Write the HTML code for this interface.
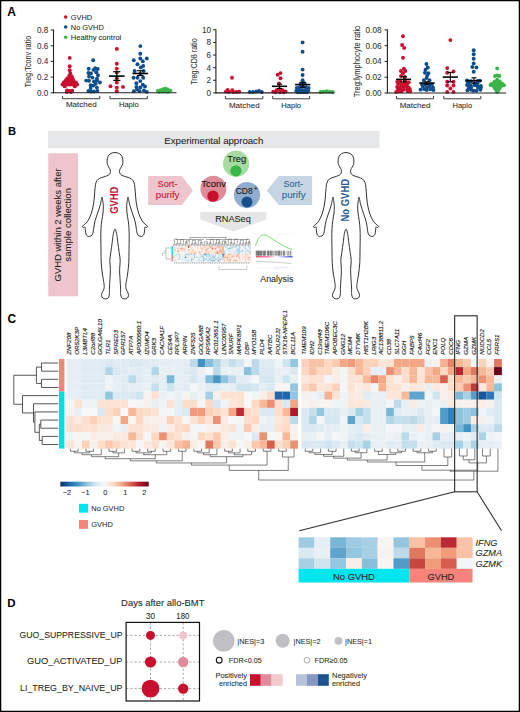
<!DOCTYPE html>
<html><head><meta charset="utf-8"><title>Figure</title>
<style>
html,body{margin:0;padding:0;background:#fff;}
body{width:520px;height:712px;overflow:hidden;}
svg{display:block;font-family:"Liberation Sans", sans-serif;}
</style></head><body>
<svg width="520" height="712" viewBox="0 0 520 712">
<rect x="0" y="0" width="520" height="712" fill="#fff"/>
<text x="7.2" y="15.6" font-size="12" text-anchor="start" fill="#000" font-weight="bold">A</text>
<circle cx="65.65" cy="17" r="1.75" fill="#c8102e"/>
<text x="70.8" y="19.6" font-size="7.6" text-anchor="start" fill="#231f20" stroke="#231f20" stroke-width="0.06" textLength="21.3" lengthAdjust="spacingAndGlyphs">GVHD</text>
<circle cx="65.65" cy="27.1" r="1.75" fill="#0f4c8a"/>
<text x="70.8" y="29.7" font-size="7.6" text-anchor="start" fill="#231f20" stroke="#231f20" stroke-width="0.06" textLength="33" lengthAdjust="spacingAndGlyphs">No GVHD</text>
<circle cx="65.65" cy="37.2" r="1.75" fill="#3bb44a"/>
<text x="70.8" y="39.8" font-size="7.6" text-anchor="start" fill="#231f20" stroke="#231f20" stroke-width="0.06" textLength="50.5" lengthAdjust="spacingAndGlyphs">Healthy control</text>
<line x1="53.5" y1="29.56" x2="53.5" y2="93.4" stroke="#231f20" stroke-width="1.1"/>
<line x1="50.7" y1="92.8" x2="53.5" y2="92.8" stroke="#231f20" stroke-width="1"/>
<text x="48.4" y="95.7" font-size="8.2" text-anchor="end" fill="#333" stroke="#333" stroke-width="0.06">0.0</text>
<line x1="50.7" y1="77.11" x2="53.5" y2="77.11" stroke="#231f20" stroke-width="1"/>
<text x="48.4" y="80.02" font-size="8.2" text-anchor="end" fill="#333" stroke="#333" stroke-width="0.06">0.2</text>
<line x1="50.7" y1="61.43" x2="53.5" y2="61.43" stroke="#231f20" stroke-width="1"/>
<text x="48.4" y="64.33" font-size="8.2" text-anchor="end" fill="#333" stroke="#333" stroke-width="0.06">0.4</text>
<line x1="50.7" y1="45.75" x2="53.5" y2="45.75" stroke="#231f20" stroke-width="1"/>
<text x="48.4" y="48.65" font-size="8.2" text-anchor="end" fill="#333" stroke="#333" stroke-width="0.06">0.6</text>
<line x1="50.7" y1="30.06" x2="53.5" y2="30.06" stroke="#231f20" stroke-width="1"/>
<text x="48.4" y="32.96" font-size="8.2" text-anchor="end" fill="#333" stroke="#333" stroke-width="0.06">0.8</text>
<text x="30.9" y="61.5" font-size="8.7" text-anchor="middle" fill="#333" stroke="#333" stroke-width="0.07" textLength="51.5" lengthAdjust="spacingAndGlyphs" transform="rotate(-90 30.9 61.5)">Treg:Tconv ratio</text>
<circle cx="69.7" cy="57.9" r="1.95" fill="#c8102e"/>
<circle cx="69.7" cy="66.3" r="1.95" fill="#c8102e"/>
<circle cx="69.7" cy="70.2" r="1.95" fill="#c8102e"/>
<circle cx="70.3" cy="73.1" r="1.95" fill="#c8102e"/>
<circle cx="69.4" cy="75.6" r="1.95" fill="#c8102e"/>
<circle cx="71.6" cy="76.1" r="1.95" fill="#c8102e"/>
<circle cx="67.4" cy="78.1" r="1.95" fill="#c8102e"/>
<circle cx="69.9" cy="78.1" r="1.95" fill="#c8102e"/>
<circle cx="72.4" cy="78.1" r="1.95" fill="#c8102e"/>
<circle cx="65.9" cy="80.3" r="1.95" fill="#c8102e"/>
<circle cx="68.4" cy="80.3" r="1.95" fill="#c8102e"/>
<circle cx="70.9" cy="80.3" r="1.95" fill="#c8102e"/>
<circle cx="73.4" cy="80.3" r="1.95" fill="#c8102e"/>
<circle cx="63.6" cy="82.5" r="1.95" fill="#c8102e"/>
<circle cx="66.2" cy="82.5" r="1.95" fill="#c8102e"/>
<circle cx="68.7" cy="82.5" r="1.95" fill="#c8102e"/>
<circle cx="71.2" cy="82.5" r="1.95" fill="#c8102e"/>
<circle cx="73.7" cy="82.5" r="1.95" fill="#c8102e"/>
<circle cx="76" cy="82.5" r="1.95" fill="#c8102e"/>
<circle cx="62.5" cy="84.6" r="1.95" fill="#c8102e"/>
<circle cx="65" cy="84.6" r="1.95" fill="#c8102e"/>
<circle cx="67.6" cy="84.6" r="1.95" fill="#c8102e"/>
<circle cx="70.1" cy="84.6" r="1.95" fill="#c8102e"/>
<circle cx="72.6" cy="84.6" r="1.95" fill="#c8102e"/>
<circle cx="75.1" cy="84.6" r="1.95" fill="#c8102e"/>
<circle cx="77.2" cy="84.6" r="1.95" fill="#c8102e"/>
<circle cx="64.8" cy="86.4" r="1.95" fill="#c8102e"/>
<circle cx="74.8" cy="86.4" r="1.95" fill="#c8102e"/>
<circle cx="67.1" cy="90.5" r="1.95" fill="#c8102e"/>
<circle cx="69.6" cy="91" r="1.95" fill="#c8102e"/>
<circle cx="72.3" cy="90.8" r="1.95" fill="#c8102e"/>
<circle cx="66.8" cy="92" r="1.95" fill="#c8102e"/>
<circle cx="71" cy="92.1" r="1.95" fill="#c8102e"/>
<circle cx="93.2" cy="60.3" r="1.95" fill="#0f4c8a"/>
<circle cx="88.7" cy="68.8" r="1.95" fill="#0f4c8a"/>
<circle cx="95.2" cy="68.2" r="1.95" fill="#0f4c8a"/>
<circle cx="97.7" cy="69" r="1.95" fill="#0f4c8a"/>
<circle cx="93.5" cy="69.9" r="1.95" fill="#0f4c8a"/>
<circle cx="88.4" cy="73" r="1.95" fill="#0f4c8a"/>
<circle cx="91" cy="73.5" r="1.95" fill="#0f4c8a"/>
<circle cx="96.3" cy="72.2" r="1.95" fill="#0f4c8a"/>
<circle cx="98" cy="75.2" r="1.95" fill="#0f4c8a"/>
<circle cx="89" cy="76.6" r="1.95" fill="#0f4c8a"/>
<circle cx="92.4" cy="77.6" r="1.95" fill="#0f4c8a"/>
<circle cx="96.9" cy="78.6" r="1.95" fill="#0f4c8a"/>
<circle cx="86.2" cy="80.6" r="1.95" fill="#0f4c8a"/>
<circle cx="89" cy="80.8" r="1.95" fill="#0f4c8a"/>
<circle cx="94" cy="81.4" r="1.95" fill="#0f4c8a"/>
<circle cx="97" cy="80.4" r="1.95" fill="#0f4c8a"/>
<circle cx="99.9" cy="82.5" r="1.95" fill="#0f4c8a"/>
<circle cx="95.7" cy="83.7" r="1.95" fill="#0f4c8a"/>
<circle cx="90.7" cy="85.3" r="1.95" fill="#0f4c8a"/>
<circle cx="93.4" cy="85.6" r="1.95" fill="#0f4c8a"/>
<circle cx="96.9" cy="87.6" r="1.95" fill="#0f4c8a"/>
<circle cx="90.7" cy="88.1" r="1.95" fill="#0f4c8a"/>
<circle cx="88.4" cy="91" r="1.95" fill="#0f4c8a"/>
<circle cx="91.2" cy="91.5" r="1.95" fill="#0f4c8a"/>
<circle cx="94" cy="91.5" r="1.95" fill="#0f4c8a"/>
<circle cx="97.4" cy="91" r="1.95" fill="#0f4c8a"/>
<circle cx="116.8" cy="48.9" r="1.95" fill="#c8102e"/>
<circle cx="116.8" cy="63.8" r="1.95" fill="#c8102e"/>
<circle cx="116.8" cy="68.6" r="1.95" fill="#c8102e"/>
<circle cx="116.8" cy="72.5" r="1.95" fill="#c8102e"/>
<circle cx="116.8" cy="78.2" r="1.95" fill="#c8102e"/>
<circle cx="116.8" cy="82.5" r="1.95" fill="#c8102e"/>
<circle cx="110.5" cy="86.2" r="1.95" fill="#c8102e"/>
<circle cx="123" cy="86.9" r="1.95" fill="#c8102e"/>
<circle cx="116.8" cy="87.6" r="1.95" fill="#c8102e"/>
<circle cx="116.8" cy="91.2" r="1.95" fill="#c8102e"/>
<line x1="116.8" y1="71.7" x2="116.8" y2="80.4" stroke="#000" stroke-width="1.1"/>
<line x1="113.2" y1="71.7" x2="120.4" y2="71.7" stroke="#000" stroke-width="1.1"/>
<line x1="113.2" y1="80.4" x2="120.4" y2="80.4" stroke="#000" stroke-width="1.1"/>
<line x1="109" y1="76.1" x2="124.6" y2="76.1" stroke="#000" stroke-width="1.6"/>
<circle cx="140.3" cy="46.1" r="1.95" fill="#0f4c8a"/>
<circle cx="140.3" cy="53.7" r="1.95" fill="#0f4c8a"/>
<circle cx="133.8" cy="60.2" r="1.95" fill="#0f4c8a"/>
<circle cx="140.3" cy="58.5" r="1.95" fill="#0f4c8a"/>
<circle cx="146.8" cy="58.5" r="1.95" fill="#0f4c8a"/>
<circle cx="142.8" cy="61.3" r="1.95" fill="#0f4c8a"/>
<circle cx="137.5" cy="64.2" r="1.95" fill="#0f4c8a"/>
<circle cx="143.2" cy="66" r="1.95" fill="#0f4c8a"/>
<circle cx="140.8" cy="67.4" r="1.95" fill="#0f4c8a"/>
<circle cx="134.6" cy="71" r="1.95" fill="#0f4c8a"/>
<circle cx="143.6" cy="71" r="1.95" fill="#0f4c8a"/>
<circle cx="140.3" cy="74" r="1.95" fill="#0f4c8a"/>
<circle cx="133.6" cy="77.8" r="1.95" fill="#0f4c8a"/>
<circle cx="137.5" cy="77.8" r="1.95" fill="#0f4c8a"/>
<circle cx="143.2" cy="77.8" r="1.95" fill="#0f4c8a"/>
<circle cx="140.3" cy="81.1" r="1.95" fill="#0f4c8a"/>
<circle cx="136.4" cy="83.3" r="1.95" fill="#0f4c8a"/>
<circle cx="142.8" cy="84.7" r="1.95" fill="#0f4c8a"/>
<circle cx="136.4" cy="86.9" r="1.95" fill="#0f4c8a"/>
<circle cx="140.3" cy="87.5" r="1.95" fill="#0f4c8a"/>
<circle cx="145" cy="86.5" r="1.95" fill="#0f4c8a"/>
<circle cx="133.8" cy="91.2" r="1.95" fill="#0f4c8a"/>
<circle cx="139.6" cy="91.2" r="1.95" fill="#0f4c8a"/>
<circle cx="143.9" cy="90.5" r="1.95" fill="#0f4c8a"/>
<circle cx="146.8" cy="91.9" r="1.95" fill="#0f4c8a"/>
<circle cx="137" cy="89.5" r="1.95" fill="#0f4c8a"/>
<line x1="140.3" y1="70.7" x2="140.3" y2="75.6" stroke="#000" stroke-width="1.1"/>
<line x1="137" y1="70.7" x2="143.6" y2="70.7" stroke="#000" stroke-width="1.1"/>
<line x1="137" y1="75.6" x2="143.6" y2="75.6" stroke="#000" stroke-width="1.1"/>
<line x1="132.5" y1="73.5" x2="148.1" y2="73.5" stroke="#000" stroke-width="1.6"/>
<circle cx="157.8" cy="91" r="1.95" fill="#3bb44a"/>
<circle cx="160.6" cy="90.2" r="1.95" fill="#3bb44a"/>
<circle cx="163.2" cy="89.3" r="1.95" fill="#3bb44a"/>
<circle cx="165.5" cy="88.6" r="1.95" fill="#3bb44a"/>
<circle cx="167.8" cy="89.4" r="1.95" fill="#3bb44a"/>
<circle cx="170.4" cy="90.6" r="1.95" fill="#3bb44a"/>
<circle cx="159" cy="91.8" r="1.95" fill="#3bb44a"/>
<circle cx="162" cy="91.6" r="1.95" fill="#3bb44a"/>
<circle cx="165" cy="91.5" r="1.95" fill="#3bb44a"/>
<circle cx="168" cy="91.7" r="1.95" fill="#3bb44a"/>
<line x1="53.5" y1="92.8" x2="176.5" y2="92.8" stroke="#231f20" stroke-width="1.1"/>
<path d="M62.5 95.9 V98.7 H99.8 V95.9" fill="none" stroke="#333" stroke-width="0.95"/>
<text x="81.3" y="107.4" font-size="8.1" text-anchor="middle" fill="#231f20" stroke="#231f20" stroke-width="0.06" textLength="30.7" lengthAdjust="spacingAndGlyphs">Matched</text>
<path d="M110 95.9 V98.7 H147.3 V95.9" fill="none" stroke="#333" stroke-width="0.95"/>
<text x="128.8" y="107.4" font-size="8.1" text-anchor="middle" fill="#231f20" stroke="#231f20" stroke-width="0.06" textLength="19.7" lengthAdjust="spacingAndGlyphs">Haplo</text>
<line x1="215.9" y1="29.3" x2="215.9" y2="93.5" stroke="#231f20" stroke-width="1.1"/>
<line x1="213.1" y1="92.9" x2="215.9" y2="92.9" stroke="#231f20" stroke-width="1"/>
<text x="211.1" y="95.8" font-size="8.2" text-anchor="end" fill="#333" stroke="#333" stroke-width="0.06">0</text>
<line x1="213.1" y1="80.28" x2="215.9" y2="80.28" stroke="#231f20" stroke-width="1"/>
<text x="211.1" y="83.18" font-size="8.2" text-anchor="end" fill="#333" stroke="#333" stroke-width="0.06">2</text>
<line x1="213.1" y1="67.66" x2="215.9" y2="67.66" stroke="#231f20" stroke-width="1"/>
<text x="211.1" y="70.56" font-size="8.2" text-anchor="end" fill="#333" stroke="#333" stroke-width="0.06">4</text>
<line x1="213.1" y1="55.04" x2="215.9" y2="55.04" stroke="#231f20" stroke-width="1"/>
<text x="211.1" y="57.94" font-size="8.2" text-anchor="end" fill="#333" stroke="#333" stroke-width="0.06">6</text>
<line x1="213.1" y1="42.42" x2="215.9" y2="42.42" stroke="#231f20" stroke-width="1"/>
<text x="211.1" y="45.32" font-size="8.2" text-anchor="end" fill="#333" stroke="#333" stroke-width="0.06">8</text>
<line x1="213.1" y1="29.8" x2="215.9" y2="29.8" stroke="#231f20" stroke-width="1"/>
<text x="211.1" y="32.7" font-size="8.2" text-anchor="end" fill="#333" stroke="#333" stroke-width="0.06">10</text>
<text x="196.6" y="61.6" font-size="8.7" text-anchor="middle" fill="#333" stroke="#333" stroke-width="0.07" textLength="46.5" lengthAdjust="spacingAndGlyphs" transform="rotate(-90 196.6 61.6)">Treg:CD8 ratio</text>
<circle cx="232" cy="77.7" r="1.95" fill="#c8102e"/>
<circle cx="225.9" cy="91.6" r="1.95" fill="#c8102e"/>
<circle cx="229" cy="91.9" r="1.95" fill="#c8102e"/>
<circle cx="232.3" cy="90.3" r="1.95" fill="#c8102e"/>
<circle cx="233.4" cy="92" r="1.95" fill="#c8102e"/>
<circle cx="236.6" cy="91.9" r="1.95" fill="#c8102e"/>
<circle cx="239.2" cy="91.6" r="1.95" fill="#c8102e"/>
<circle cx="227.6" cy="89.9" r="1.95" fill="#c8102e"/>
<circle cx="249.8" cy="92" r="1.95" fill="#0f4c8a"/>
<circle cx="253" cy="92" r="1.95" fill="#0f4c8a"/>
<circle cx="256.2" cy="91.4" r="1.95" fill="#0f4c8a"/>
<circle cx="259" cy="91" r="1.95" fill="#0f4c8a"/>
<circle cx="261.8" cy="92" r="1.95" fill="#0f4c8a"/>
<circle cx="277.7" cy="74.7" r="1.95" fill="#c8102e"/>
<circle cx="280.5" cy="73.1" r="1.95" fill="#c8102e"/>
<circle cx="280.5" cy="78.2" r="1.95" fill="#c8102e"/>
<circle cx="279" cy="83.5" r="1.95" fill="#c8102e"/>
<circle cx="273.3" cy="91.6" r="1.95" fill="#c8102e"/>
<circle cx="276.6" cy="90.2" r="1.95" fill="#c8102e"/>
<circle cx="279.6" cy="89.2" r="1.95" fill="#c8102e"/>
<circle cx="282.6" cy="90.2" r="1.95" fill="#c8102e"/>
<circle cx="285.6" cy="91.4" r="1.95" fill="#c8102e"/>
<circle cx="275.5" cy="92.3" r="1.95" fill="#c8102e"/>
<circle cx="280" cy="92.3" r="1.95" fill="#c8102e"/>
<circle cx="283.6" cy="92.3" r="1.95" fill="#c8102e"/>
<line x1="279.5" y1="84.2" x2="279.5" y2="88.5" stroke="#000" stroke-width="1.1"/>
<line x1="276.9" y1="84.2" x2="282.1" y2="84.2" stroke="#000" stroke-width="1.1"/>
<line x1="276.9" y1="88.5" x2="282.1" y2="88.5" stroke="#000" stroke-width="1.1"/>
<line x1="271.9" y1="86.3" x2="287.1" y2="86.3" stroke="#000" stroke-width="1.6"/>
<circle cx="302.6" cy="42.4" r="1.95" fill="#0f4c8a"/>
<circle cx="302.6" cy="51.8" r="1.95" fill="#0f4c8a"/>
<circle cx="302.6" cy="69.6" r="1.95" fill="#0f4c8a"/>
<circle cx="302.6" cy="75" r="1.95" fill="#0f4c8a"/>
<circle cx="302.6" cy="80.2" r="1.95" fill="#0f4c8a"/>
<circle cx="300.5" cy="84" r="1.95" fill="#0f4c8a"/>
<circle cx="304.5" cy="83.5" r="1.95" fill="#0f4c8a"/>
<circle cx="296.8" cy="88" r="1.95" fill="#0f4c8a"/>
<circle cx="299.8" cy="87.3" r="1.95" fill="#0f4c8a"/>
<circle cx="302.8" cy="86.8" r="1.95" fill="#0f4c8a"/>
<circle cx="305.8" cy="87.3" r="1.95" fill="#0f4c8a"/>
<circle cx="308.6" cy="88" r="1.95" fill="#0f4c8a"/>
<circle cx="296.3" cy="91" r="1.95" fill="#0f4c8a"/>
<circle cx="299.3" cy="90.5" r="1.95" fill="#0f4c8a"/>
<circle cx="302.3" cy="90.2" r="1.95" fill="#0f4c8a"/>
<circle cx="305.3" cy="90.5" r="1.95" fill="#0f4c8a"/>
<circle cx="308.3" cy="91" r="1.95" fill="#0f4c8a"/>
<circle cx="297.8" cy="92.3" r="1.95" fill="#0f4c8a"/>
<circle cx="300.8" cy="92.3" r="1.95" fill="#0f4c8a"/>
<circle cx="303.8" cy="92.3" r="1.95" fill="#0f4c8a"/>
<circle cx="306.8" cy="92.3" r="1.95" fill="#0f4c8a"/>
<line x1="302.7" y1="82.3" x2="302.7" y2="87.2" stroke="#000" stroke-width="1.1"/>
<line x1="299.7" y1="82.3" x2="305.7" y2="82.3" stroke="#000" stroke-width="1.1"/>
<line x1="299.7" y1="87.2" x2="305.7" y2="87.2" stroke="#000" stroke-width="1.1"/>
<line x1="295" y1="84.6" x2="310.4" y2="84.6" stroke="#000" stroke-width="1.6"/>
<circle cx="320.6" cy="92" r="1.95" fill="#3bb44a"/>
<circle cx="323.6" cy="91.6" r="1.95" fill="#3bb44a"/>
<circle cx="326.6" cy="91.2" r="1.95" fill="#3bb44a"/>
<circle cx="329.6" cy="91.6" r="1.95" fill="#3bb44a"/>
<circle cx="332.6" cy="92" r="1.95" fill="#3bb44a"/>
<line x1="215.9" y1="92.9" x2="334.5" y2="92.9" stroke="#231f20" stroke-width="1.1"/>
<path d="M225.4 96 V98.8 H262.8 V96" fill="none" stroke="#333" stroke-width="0.95"/>
<text x="244.3" y="107.5" font-size="8.1" text-anchor="middle" fill="#231f20" stroke="#231f20" stroke-width="0.06" textLength="30.7" lengthAdjust="spacingAndGlyphs">Matched</text>
<path d="M272.7 96 V98.8 H309.6 V96" fill="none" stroke="#333" stroke-width="0.95"/>
<text x="291.2" y="107.5" font-size="8.1" text-anchor="middle" fill="#231f20" stroke="#231f20" stroke-width="0.06" textLength="19.7" lengthAdjust="spacingAndGlyphs">Haplo</text>
<line x1="387.4" y1="29.4" x2="387.4" y2="93.6" stroke="#231f20" stroke-width="1.1"/>
<line x1="384.6" y1="93" x2="387.4" y2="93" stroke="#231f20" stroke-width="1"/>
<text x="381.5" y="95.9" font-size="8.2" text-anchor="end" fill="#333" stroke="#333" stroke-width="0.06">0.00</text>
<line x1="384.6" y1="77.22" x2="387.4" y2="77.22" stroke="#231f20" stroke-width="1"/>
<text x="381.5" y="80.12" font-size="8.2" text-anchor="end" fill="#333" stroke="#333" stroke-width="0.06">0.02</text>
<line x1="384.6" y1="61.45" x2="387.4" y2="61.45" stroke="#231f20" stroke-width="1"/>
<text x="381.5" y="64.35" font-size="8.2" text-anchor="end" fill="#333" stroke="#333" stroke-width="0.06">0.04</text>
<line x1="384.6" y1="45.68" x2="387.4" y2="45.68" stroke="#231f20" stroke-width="1"/>
<text x="381.5" y="48.58" font-size="8.2" text-anchor="end" fill="#333" stroke="#333" stroke-width="0.06">0.06</text>
<line x1="384.6" y1="29.9" x2="387.4" y2="29.9" stroke="#231f20" stroke-width="1"/>
<text x="381.5" y="32.8" font-size="8.2" text-anchor="end" fill="#333" stroke="#333" stroke-width="0.06">0.08</text>
<text x="360.4" y="61.5" font-size="8.7" text-anchor="middle" fill="#333" stroke="#333" stroke-width="0.07" textLength="71.5" lengthAdjust="spacingAndGlyphs" transform="rotate(-90 360.4 61.5)">Treg:lymphocyte ratio</text>
<circle cx="403" cy="36.3" r="1.95" fill="#c8102e"/>
<circle cx="402.1" cy="45" r="1.95" fill="#c8102e"/>
<circle cx="404.2" cy="47.9" r="1.95" fill="#c8102e"/>
<circle cx="403" cy="57.7" r="1.95" fill="#c8102e"/>
<circle cx="403.9" cy="68.7" r="1.95" fill="#c8102e"/>
<circle cx="400.9" cy="71" r="1.95" fill="#c8102e"/>
<circle cx="405.3" cy="71" r="1.95" fill="#c8102e"/>
<circle cx="403" cy="73.3" r="1.95" fill="#c8102e"/>
<circle cx="401" cy="76" r="1.95" fill="#c8102e"/>
<circle cx="405" cy="77" r="1.95" fill="#c8102e"/>
<circle cx="397.24" cy="81.87" r="1.95" fill="#c8102e"/>
<circle cx="400.23" cy="81.57" r="1.95" fill="#c8102e"/>
<circle cx="405.66" cy="81.73" r="1.95" fill="#c8102e"/>
<circle cx="408.77" cy="82.34" r="1.95" fill="#c8102e"/>
<circle cx="398.06" cy="84.05" r="1.95" fill="#c8102e"/>
<circle cx="401.19" cy="84.42" r="1.95" fill="#c8102e"/>
<circle cx="403.9" cy="83.96" r="1.95" fill="#c8102e"/>
<circle cx="406.72" cy="84.2" r="1.95" fill="#c8102e"/>
<circle cx="397.17" cy="87.02" r="1.95" fill="#c8102e"/>
<circle cx="400.31" cy="87.22" r="1.95" fill="#c8102e"/>
<circle cx="403.3" cy="86.74" r="1.95" fill="#c8102e"/>
<circle cx="406.28" cy="86.4" r="1.95" fill="#c8102e"/>
<circle cx="408.52" cy="87.27" r="1.95" fill="#c8102e"/>
<circle cx="398.05" cy="89" r="1.95" fill="#c8102e"/>
<circle cx="400.71" cy="89.05" r="1.95" fill="#c8102e"/>
<circle cx="403.81" cy="89.6" r="1.95" fill="#c8102e"/>
<circle cx="407.05" cy="89.56" r="1.95" fill="#c8102e"/>
<circle cx="409.7" cy="88.86" r="1.95" fill="#c8102e"/>
<circle cx="396.21" cy="92" r="1.95" fill="#c8102e"/>
<circle cx="398.86" cy="91.31" r="1.95" fill="#c8102e"/>
<circle cx="401.62" cy="91.38" r="1.95" fill="#c8102e"/>
<circle cx="407.84" cy="91.19" r="1.95" fill="#c8102e"/>
<circle cx="410.16" cy="91.25" r="1.95" fill="#c8102e"/>
<line x1="403.6" y1="76.7" x2="403.6" y2="81.9" stroke="#000" stroke-width="1.1"/>
<line x1="400.7" y1="76.7" x2="406.5" y2="76.7" stroke="#000" stroke-width="1.1"/>
<line x1="400.7" y1="81.9" x2="406.5" y2="81.9" stroke="#000" stroke-width="1.1"/>
<line x1="396.1" y1="79.4" x2="411.1" y2="79.4" stroke="#000" stroke-width="1.6"/>
<circle cx="426.4" cy="64" r="1.95" fill="#0f4c8a"/>
<circle cx="427.8" cy="67.5" r="1.95" fill="#0f4c8a"/>
<circle cx="425.5" cy="69.8" r="1.95" fill="#0f4c8a"/>
<circle cx="428.4" cy="73.3" r="1.95" fill="#0f4c8a"/>
<circle cx="424.9" cy="72.7" r="1.95" fill="#0f4c8a"/>
<circle cx="427.2" cy="75.6" r="1.95" fill="#0f4c8a"/>
<circle cx="423.8" cy="80.2" r="1.95" fill="#0f4c8a"/>
<circle cx="429.5" cy="80.2" r="1.95" fill="#0f4c8a"/>
<circle cx="426.5" cy="78" r="1.95" fill="#0f4c8a"/>
<circle cx="422.07" cy="84.38" r="1.95" fill="#0f4c8a"/>
<circle cx="425.13" cy="84.38" r="1.95" fill="#0f4c8a"/>
<circle cx="429.11" cy="84.82" r="1.95" fill="#0f4c8a"/>
<circle cx="431.89" cy="84.23" r="1.95" fill="#0f4c8a"/>
<circle cx="422.85" cy="86.66" r="1.95" fill="#0f4c8a"/>
<circle cx="426.82" cy="87.37" r="1.95" fill="#0f4c8a"/>
<circle cx="429.16" cy="86.77" r="1.95" fill="#0f4c8a"/>
<circle cx="432.9" cy="87.43" r="1.95" fill="#0f4c8a"/>
<circle cx="420.5" cy="89.63" r="1.95" fill="#0f4c8a"/>
<circle cx="424.11" cy="89.11" r="1.95" fill="#0f4c8a"/>
<circle cx="426.71" cy="90.02" r="1.95" fill="#0f4c8a"/>
<circle cx="430.36" cy="89.26" r="1.95" fill="#0f4c8a"/>
<circle cx="433.49" cy="89.96" r="1.95" fill="#0f4c8a"/>
<line x1="426.9" y1="81.8" x2="426.9" y2="84.4" stroke="#000" stroke-width="1.1"/>
<line x1="424.4" y1="81.8" x2="429.4" y2="81.8" stroke="#000" stroke-width="1.1"/>
<line x1="424.4" y1="84.4" x2="429.4" y2="84.4" stroke="#000" stroke-width="1.1"/>
<line x1="419.2" y1="83.1" x2="434.6" y2="83.1" stroke="#000" stroke-width="1.6"/>
<circle cx="450.4" cy="40.1" r="1.95" fill="#c8102e"/>
<circle cx="447.2" cy="68.1" r="1.95" fill="#c8102e"/>
<circle cx="447.2" cy="72.8" r="1.95" fill="#c8102e"/>
<circle cx="453.5" cy="71.5" r="1.95" fill="#c8102e"/>
<circle cx="447.2" cy="81.8" r="1.95" fill="#c8102e"/>
<circle cx="453.5" cy="81.8" r="1.95" fill="#c8102e"/>
<circle cx="447.2" cy="85.5" r="1.95" fill="#c8102e"/>
<circle cx="453.5" cy="85.5" r="1.95" fill="#c8102e"/>
<circle cx="447.2" cy="91.9" r="1.95" fill="#c8102e"/>
<circle cx="453.5" cy="91.9" r="1.95" fill="#c8102e"/>
<circle cx="450.4" cy="88.5" r="1.95" fill="#c8102e"/>
<line x1="450.3" y1="72.4" x2="450.3" y2="81.8" stroke="#000" stroke-width="1.1"/>
<line x1="447.3" y1="72.4" x2="453.3" y2="72.4" stroke="#000" stroke-width="1.1"/>
<line x1="447.3" y1="81.8" x2="453.3" y2="81.8" stroke="#000" stroke-width="1.1"/>
<line x1="442.7" y1="77.1" x2="457.9" y2="77.1" stroke="#000" stroke-width="1.6"/>
<circle cx="473.7" cy="50.2" r="1.95" fill="#0f4c8a"/>
<circle cx="473.7" cy="54.2" r="1.95" fill="#0f4c8a"/>
<circle cx="473.7" cy="58.7" r="1.95" fill="#0f4c8a"/>
<circle cx="473.7" cy="63.4" r="1.95" fill="#0f4c8a"/>
<circle cx="472.3" cy="67" r="1.95" fill="#0f4c8a"/>
<circle cx="476.4" cy="67.4" r="1.95" fill="#0f4c8a"/>
<circle cx="473.7" cy="71.7" r="1.95" fill="#0f4c8a"/>
<circle cx="466.9" cy="80.5" r="1.95" fill="#0f4c8a"/>
<circle cx="467.79" cy="81.15" r="1.95" fill="#0f4c8a"/>
<circle cx="470.99" cy="81.31" r="1.95" fill="#0f4c8a"/>
<circle cx="477.63" cy="80.98" r="1.95" fill="#0f4c8a"/>
<circle cx="479.84" cy="80.76" r="1.95" fill="#0f4c8a"/>
<circle cx="468.35" cy="83.29" r="1.95" fill="#0f4c8a"/>
<circle cx="474.44" cy="83.7" r="1.95" fill="#0f4c8a"/>
<circle cx="477.49" cy="83.56" r="1.95" fill="#0f4c8a"/>
<circle cx="467.05" cy="85" r="1.95" fill="#0f4c8a"/>
<circle cx="470.35" cy="85.26" r="1.95" fill="#0f4c8a"/>
<circle cx="474.35" cy="85.35" r="1.95" fill="#0f4c8a"/>
<circle cx="477.15" cy="85.81" r="1.95" fill="#0f4c8a"/>
<circle cx="480.83" cy="85.83" r="1.95" fill="#0f4c8a"/>
<circle cx="468.77" cy="87.76" r="1.95" fill="#0f4c8a"/>
<circle cx="471.1" cy="87.57" r="1.95" fill="#0f4c8a"/>
<circle cx="478.02" cy="87.4" r="1.95" fill="#0f4c8a"/>
<circle cx="480.91" cy="87.77" r="1.95" fill="#0f4c8a"/>
<circle cx="467.48" cy="90.18" r="1.95" fill="#0f4c8a"/>
<circle cx="470.95" cy="89.87" r="1.95" fill="#0f4c8a"/>
<circle cx="473.33" cy="90.7" r="1.95" fill="#0f4c8a"/>
<circle cx="476.52" cy="90.75" r="1.95" fill="#0f4c8a"/>
<circle cx="480.39" cy="89.81" r="1.95" fill="#0f4c8a"/>
<line x1="474" y1="77.8" x2="474" y2="83.2" stroke="#000" stroke-width="1.1"/>
<line x1="471.5" y1="77.8" x2="476.5" y2="77.8" stroke="#000" stroke-width="1.1"/>
<line x1="471.5" y1="83.2" x2="476.5" y2="83.2" stroke="#000" stroke-width="1.1"/>
<line x1="466.3" y1="80.7" x2="481.7" y2="80.7" stroke="#000" stroke-width="1.6"/>
<circle cx="497.2" cy="68.4" r="1.95" fill="#3bb44a"/>
<circle cx="497.2" cy="75.5" r="1.95" fill="#3bb44a"/>
<circle cx="495" cy="76" r="1.95" fill="#3bb44a"/>
<circle cx="499.4" cy="76" r="1.95" fill="#3bb44a"/>
<circle cx="497.2" cy="79.8" r="1.95" fill="#3bb44a"/>
<circle cx="494.6" cy="81.5" r="1.95" fill="#3bb44a"/>
<circle cx="497.2" cy="81.5" r="1.95" fill="#3bb44a"/>
<circle cx="499.8" cy="81.5" r="1.95" fill="#3bb44a"/>
<circle cx="491.8" cy="83.6" r="1.95" fill="#3bb44a"/>
<circle cx="494.4" cy="83.4" r="1.95" fill="#3bb44a"/>
<circle cx="497" cy="83.2" r="1.95" fill="#3bb44a"/>
<circle cx="499.6" cy="83.4" r="1.95" fill="#3bb44a"/>
<circle cx="502.2" cy="83.6" r="1.95" fill="#3bb44a"/>
<circle cx="490.5" cy="85" r="1.95" fill="#3bb44a"/>
<circle cx="504" cy="85.2" r="1.95" fill="#3bb44a"/>
<circle cx="493" cy="85.8" r="1.95" fill="#3bb44a"/>
<circle cx="495.8" cy="85.6" r="1.95" fill="#3bb44a"/>
<circle cx="498.6" cy="85.6" r="1.95" fill="#3bb44a"/>
<circle cx="501.4" cy="85.8" r="1.95" fill="#3bb44a"/>
<circle cx="494.6" cy="88" r="1.95" fill="#3bb44a"/>
<circle cx="497.2" cy="87.8" r="1.95" fill="#3bb44a"/>
<circle cx="499.8" cy="88" r="1.95" fill="#3bb44a"/>
<circle cx="496" cy="90" r="1.95" fill="#3bb44a"/>
<circle cx="498.4" cy="90.2" r="1.95" fill="#3bb44a"/>
<circle cx="497.2" cy="91.8" r="1.95" fill="#3bb44a"/>
<line x1="387.4" y1="93" x2="506" y2="93" stroke="#231f20" stroke-width="1.1"/>
<path d="M396.5 96 V98.8 H433.5 V96" fill="none" stroke="#333" stroke-width="0.95"/>
<text x="415" y="107.5" font-size="8.1" text-anchor="middle" fill="#231f20" stroke="#231f20" stroke-width="0.06" textLength="30.7" lengthAdjust="spacingAndGlyphs">Matched</text>
<path d="M443.8 96 V98.8 H480.8 V96" fill="none" stroke="#333" stroke-width="0.95"/>
<text x="462.3" y="107.5" font-size="8.1" text-anchor="middle" fill="#231f20" stroke="#231f20" stroke-width="0.06" textLength="19.7" lengthAdjust="spacingAndGlyphs">Haplo</text>
<text x="8" y="135.1" font-size="11.2" text-anchor="start" fill="#000" font-weight="bold">B</text>
<rect x="47.9" y="130.9" width="331.6" height="17.3" fill="#e6e7e8"/>
<text x="164.3" y="143.5" font-size="9.6" text-anchor="start" fill="#231f20" stroke="#231f20" stroke-width="0.07" textLength="99" lengthAdjust="spacingAndGlyphs">Experimental approach</text>
<rect x="48.2" y="153.2" width="29.9" height="143.1" fill="#efc5cd"/>
<text x="60.7" y="224.9" font-size="9.9" text-anchor="middle" fill="#231f20" stroke="#231f20" stroke-width="0.08" textLength="113" lengthAdjust="spacingAndGlyphs" transform="rotate(-90 60.7 224.9)">GVHD within 2 weeks after</text>
<text x="71.5" y="224.8" font-size="9.6" text-anchor="middle" fill="#231f20" stroke="#231f20" stroke-width="0.07" textLength="73.7" lengthAdjust="spacingAndGlyphs" transform="rotate(-90 71.5 224.8)">sample collection</text>
<path d="M115 152.5 C116.5 152.5 118.32 153 119.5 153.7 C120.68 154.4 121.53 155.5 122.1 156.7 C122.67 157.9 122.82 159.63 122.9 160.9 C122.98 162.17 122.88 163.27 122.6 164.3 C122.32 165.33 121.67 166.2 121.2 167.1 C120.73 168 120.05 168.73 119.8 169.7 C119.55 170.67 119.33 171.95 119.7 172.9 C120.07 173.85 120.78 174.7 122 175.4 C123.22 176.1 125.43 176.52 127 177.1 C128.57 177.68 130.25 178.03 131.4 178.9 C132.55 179.77 133.32 180.87 133.9 182.3 C134.48 183.73 134.63 185.38 134.9 187.5 C135.17 189.62 135.27 192.42 135.5 195 C135.73 197.58 135.88 200.33 136.3 203 C136.72 205.67 137.28 208.48 138 211 C138.72 213.52 139.67 216.13 140.6 218.1 C141.53 220.07 142.63 221.63 143.6 222.8 C144.57 223.97 145.73 224.43 146.4 225.1 C147.07 225.77 147.6 226.4 147.6 226.8 C147.6 227.2 146.87 227.43 146.4 227.5 C145.93 227.57 145.1 226.77 144.8 227.2 C144.5 227.63 144.73 228.95 144.6 230.1 C144.47 231.25 144.4 233.07 144 234.1 C143.6 235.13 142.83 235.93 142.2 236.3 C141.57 236.67 140.9 236.5 140.2 236.3 C139.5 236.1 138.57 235.83 138 235.1 C137.43 234.37 137.12 233.25 136.8 231.9 C136.48 230.55 136.42 228.87 136.1 227 C135.78 225.13 135.52 223.02 134.9 220.7 C134.28 218.38 133.23 215.63 132.4 213.1 C131.57 210.57 130.53 207.77 129.9 205.5 C129.27 203.23 128.92 200.9 128.6 199.5 C128.28 198.1 128.18 197.13 128 197.1 C127.82 197.07 127.72 197.9 127.5 199.3 C127.28 200.7 126.78 203.22 126.7 205.5 C126.62 207.78 126.75 210.5 127 213 C127.25 215.5 127.87 217.92 128.2 220.5 C128.53 223.08 128.83 225.5 129 228.5 C129.17 231.5 129.2 234.83 129.2 238.5 C129.2 242.17 129.07 246.5 129 250.5 C128.93 254.5 129.03 258.58 128.8 262.5 C128.57 266.42 128.07 270.5 127.6 274 C127.13 277.5 126.27 281.05 126 283.5 C125.73 285.95 125.7 287.2 126 288.7 C126.3 290.2 127.38 291.33 127.8 292.5 C128.22 293.67 128.6 294.77 128.5 295.7 C128.4 296.63 127.92 297.57 127.2 298.1 C126.48 298.63 125.13 298.97 124.2 298.9 C123.27 298.83 122.2 298.57 121.6 297.7 C121 296.83 120.77 295.32 120.6 293.7 C120.43 292.08 120.7 290.53 120.6 288 C120.5 285.47 120.17 281.58 120 278.5 C119.83 275.42 119.57 272.5 119.6 269.5 C119.63 266.5 120.27 263.33 120.2 260.5 C120.13 257.67 119.6 255.5 119.2 252.5 C118.8 249.5 118.23 245.67 117.8 242.5 C117.37 239.33 117.07 235.73 116.6 233.5 C116.13 231.27 115.53 229.1 115 229.1 C114.47 229.1 113.87 231.27 113.4 233.5 C112.93 235.73 112.63 239.33 112.2 242.5 C111.77 245.67 111.2 249.5 110.8 252.5 C110.4 255.5 109.87 257.67 109.8 260.5 C109.73 263.33 110.37 266.5 110.4 269.5 C110.43 272.5 110.17 275.42 110 278.5 C109.83 281.58 109.5 285.47 109.4 288 C109.3 290.53 109.57 292.08 109.4 293.7 C109.23 295.32 109 296.83 108.4 297.7 C107.8 298.57 106.73 298.83 105.8 298.9 C104.87 298.97 103.52 298.63 102.8 298.1 C102.08 297.57 101.6 296.63 101.5 295.7 C101.4 294.77 101.78 293.67 102.2 292.5 C102.62 291.33 103.7 290.2 104 288.7 C104.3 287.2 104.27 285.95 104 283.5 C103.73 281.05 102.87 277.5 102.4 274 C101.93 270.5 101.43 266.42 101.2 262.5 C100.97 258.58 101.07 254.5 101 250.5 C100.93 246.5 100.8 242.17 100.8 238.5 C100.8 234.83 100.83 231.5 101 228.5 C101.17 225.5 101.47 223.08 101.8 220.5 C102.13 217.92 102.75 215.5 103 213 C103.25 210.5 103.38 207.78 103.3 205.5 C103.22 203.22 102.72 200.7 102.5 199.3 C102.28 197.9 102.18 197.07 102 197.1 C101.82 197.13 101.72 198.1 101.4 199.5 C101.08 200.9 100.73 203.23 100.1 205.5 C99.47 207.77 98.43 210.57 97.6 213.1 C96.77 215.63 95.72 218.38 95.1 220.7 C94.48 223.02 94.22 225.13 93.9 227 C93.58 228.87 93.52 230.55 93.2 231.9 C92.88 233.25 92.57 234.37 92 235.1 C91.43 235.83 90.5 236.1 89.8 236.3 C89.1 236.5 88.43 236.67 87.8 236.3 C87.17 235.93 86.4 235.13 86 234.1 C85.6 233.07 85.53 231.25 85.4 230.1 C85.27 228.95 85.5 227.63 85.2 227.2 C84.9 226.77 84.07 227.57 83.6 227.5 C83.13 227.43 82.4 227.2 82.4 226.8 C82.4 226.4 82.93 225.77 83.6 225.1 C84.27 224.43 85.43 223.97 86.4 222.8 C87.37 221.63 88.47 220.07 89.4 218.1 C90.33 216.13 91.28 213.52 92 211 C92.72 208.48 93.28 205.67 93.7 203 C94.12 200.33 94.27 197.58 94.5 195 C94.73 192.42 94.83 189.62 95.1 187.5 C95.37 185.38 95.52 183.73 96.1 182.3 C96.68 180.87 97.45 179.77 98.6 178.9 C99.75 178.03 101.43 177.68 103 177.1 C104.57 176.52 106.78 176.1 108 175.4 C109.22 174.7 109.93 173.85 110.3 172.9 C110.67 171.95 110.45 170.67 110.2 169.7 C109.95 168.73 109.27 168 108.8 167.1 C108.33 166.2 107.68 165.33 107.4 164.3 C107.12 163.27 107.02 162.17 107.1 160.9 C107.18 159.63 107.33 157.9 107.9 156.7 C108.47 155.5 109.32 154.4 110.5 153.7 C111.68 153 113.5 152.5 115 152.5Z" fill="#fff" stroke="#231f20" stroke-width="0.92" stroke-linejoin="round"/>
<text x="118.3" y="200.2" font-size="11" text-anchor="middle" fill="#c8102e" font-weight="bold" textLength="27.3" lengthAdjust="spacingAndGlyphs" transform="rotate(-90 118.3 200.2)">GVHD</text>
<path d="M346 152.5 C347.5 152.5 349.32 153 350.5 153.7 C351.68 154.4 352.53 155.5 353.1 156.7 C353.67 157.9 353.82 159.63 353.9 160.9 C353.98 162.17 353.88 163.27 353.6 164.3 C353.32 165.33 352.67 166.2 352.2 167.1 C351.73 168 351.05 168.73 350.8 169.7 C350.55 170.67 350.33 171.95 350.7 172.9 C351.07 173.85 351.78 174.7 353 175.4 C354.22 176.1 356.43 176.52 358 177.1 C359.57 177.68 361.25 178.03 362.4 178.9 C363.55 179.77 364.32 180.87 364.9 182.3 C365.48 183.73 365.63 185.38 365.9 187.5 C366.17 189.62 366.27 192.42 366.5 195 C366.73 197.58 366.88 200.33 367.3 203 C367.72 205.67 368.28 208.48 369 211 C369.72 213.52 370.67 216.13 371.6 218.1 C372.53 220.07 373.63 221.63 374.6 222.8 C375.57 223.97 376.73 224.43 377.4 225.1 C378.07 225.77 378.6 226.4 378.6 226.8 C378.6 227.2 377.87 227.43 377.4 227.5 C376.93 227.57 376.1 226.77 375.8 227.2 C375.5 227.63 375.73 228.95 375.6 230.1 C375.47 231.25 375.4 233.07 375 234.1 C374.6 235.13 373.83 235.93 373.2 236.3 C372.57 236.67 371.9 236.5 371.2 236.3 C370.5 236.1 369.57 235.83 369 235.1 C368.43 234.37 368.12 233.25 367.8 231.9 C367.48 230.55 367.42 228.87 367.1 227 C366.78 225.13 366.52 223.02 365.9 220.7 C365.28 218.38 364.23 215.63 363.4 213.1 C362.57 210.57 361.53 207.77 360.9 205.5 C360.27 203.23 359.92 200.9 359.6 199.5 C359.28 198.1 359.18 197.13 359 197.1 C358.82 197.07 358.72 197.9 358.5 199.3 C358.28 200.7 357.78 203.22 357.7 205.5 C357.62 207.78 357.75 210.5 358 213 C358.25 215.5 358.87 217.92 359.2 220.5 C359.53 223.08 359.83 225.5 360 228.5 C360.17 231.5 360.2 234.83 360.2 238.5 C360.2 242.17 360.07 246.5 360 250.5 C359.93 254.5 360.03 258.58 359.8 262.5 C359.57 266.42 359.07 270.5 358.6 274 C358.13 277.5 357.27 281.05 357 283.5 C356.73 285.95 356.7 287.2 357 288.7 C357.3 290.2 358.38 291.33 358.8 292.5 C359.22 293.67 359.6 294.77 359.5 295.7 C359.4 296.63 358.92 297.57 358.2 298.1 C357.48 298.63 356.13 298.97 355.2 298.9 C354.27 298.83 353.2 298.57 352.6 297.7 C352 296.83 351.77 295.32 351.6 293.7 C351.43 292.08 351.7 290.53 351.6 288 C351.5 285.47 351.17 281.58 351 278.5 C350.83 275.42 350.57 272.5 350.6 269.5 C350.63 266.5 351.27 263.33 351.2 260.5 C351.13 257.67 350.6 255.5 350.2 252.5 C349.8 249.5 349.23 245.67 348.8 242.5 C348.37 239.33 348.07 235.73 347.6 233.5 C347.13 231.27 346.53 229.1 346 229.1 C345.47 229.1 344.87 231.27 344.4 233.5 C343.93 235.73 343.63 239.33 343.2 242.5 C342.77 245.67 342.2 249.5 341.8 252.5 C341.4 255.5 340.87 257.67 340.8 260.5 C340.73 263.33 341.37 266.5 341.4 269.5 C341.43 272.5 341.17 275.42 341 278.5 C340.83 281.58 340.5 285.47 340.4 288 C340.3 290.53 340.57 292.08 340.4 293.7 C340.23 295.32 340 296.83 339.4 297.7 C338.8 298.57 337.73 298.83 336.8 298.9 C335.87 298.97 334.52 298.63 333.8 298.1 C333.08 297.57 332.6 296.63 332.5 295.7 C332.4 294.77 332.78 293.67 333.2 292.5 C333.62 291.33 334.7 290.2 335 288.7 C335.3 287.2 335.27 285.95 335 283.5 C334.73 281.05 333.87 277.5 333.4 274 C332.93 270.5 332.43 266.42 332.2 262.5 C331.97 258.58 332.07 254.5 332 250.5 C331.93 246.5 331.8 242.17 331.8 238.5 C331.8 234.83 331.83 231.5 332 228.5 C332.17 225.5 332.47 223.08 332.8 220.5 C333.13 217.92 333.75 215.5 334 213 C334.25 210.5 334.38 207.78 334.3 205.5 C334.22 203.22 333.72 200.7 333.5 199.3 C333.28 197.9 333.18 197.07 333 197.1 C332.82 197.13 332.72 198.1 332.4 199.5 C332.08 200.9 331.73 203.23 331.1 205.5 C330.47 207.77 329.43 210.57 328.6 213.1 C327.77 215.63 326.72 218.38 326.1 220.7 C325.48 223.02 325.22 225.13 324.9 227 C324.58 228.87 324.52 230.55 324.2 231.9 C323.88 233.25 323.57 234.37 323 235.1 C322.43 235.83 321.5 236.1 320.8 236.3 C320.1 236.5 319.43 236.67 318.8 236.3 C318.17 235.93 317.4 235.13 317 234.1 C316.6 233.07 316.53 231.25 316.4 230.1 C316.27 228.95 316.5 227.63 316.2 227.2 C315.9 226.77 315.07 227.57 314.6 227.5 C314.13 227.43 313.4 227.2 313.4 226.8 C313.4 226.4 313.93 225.77 314.6 225.1 C315.27 224.43 316.43 223.97 317.4 222.8 C318.37 221.63 319.47 220.07 320.4 218.1 C321.33 216.13 322.28 213.52 323 211 C323.72 208.48 324.28 205.67 324.7 203 C325.12 200.33 325.27 197.58 325.5 195 C325.73 192.42 325.83 189.62 326.1 187.5 C326.37 185.38 326.52 183.73 327.1 182.3 C327.68 180.87 328.45 179.77 329.6 178.9 C330.75 178.03 332.43 177.68 334 177.1 C335.57 176.52 337.78 176.1 339 175.4 C340.22 174.7 340.93 173.85 341.3 172.9 C341.67 171.95 341.45 170.67 341.2 169.7 C340.95 168.73 340.27 168 339.8 167.1 C339.33 166.2 338.68 165.33 338.4 164.3 C338.12 163.27 338.02 162.17 338.1 160.9 C338.18 159.63 338.33 157.9 338.9 156.7 C339.47 155.5 340.32 154.4 341.5 153.7 C342.68 153 344.5 152.5 346 152.5Z" fill="#fff" stroke="#231f20" stroke-width="0.92" stroke-linejoin="round"/>
<text x="349.3" y="200.2" font-size="11" text-anchor="middle" fill="#1f5a96" font-weight="bold" textLength="42.7" lengthAdjust="spacingAndGlyphs" transform="rotate(-90 349.3 200.2)">No GVHD</text>
<path d="M148.1 175.9 H181.9 L193 190.4 L181.9 205 H148.1 Z" fill="#efc5cd"/>
<text x="167.5" y="187.2" font-size="9.6" text-anchor="middle" fill="#c8102e" stroke="#c8102e" stroke-width="0.07" textLength="19.9" lengthAdjust="spacingAndGlyphs">Sort-</text>
<text x="167.6" y="197.6" font-size="9.6" text-anchor="middle" fill="#c8102e" stroke="#c8102e" stroke-width="0.07" textLength="23.7" lengthAdjust="spacingAndGlyphs">purify</text>
<path d="M312.1 175.9 H278.7 L266.8 190.4 L278.7 205 H312.1 Z" fill="#c6d5e4"/>
<text x="293.2" y="187.2" font-size="9.6" text-anchor="middle" fill="#2c5f91" stroke="#2c5f91" stroke-width="0.07" textLength="19.4" lengthAdjust="spacingAndGlyphs">Sort-</text>
<text x="293.7" y="197.6" font-size="9.6" text-anchor="middle" fill="#2c5f91" stroke="#2c5f91" stroke-width="0.07" textLength="23.7" lengthAdjust="spacingAndGlyphs">purify</text>
<circle cx="236.1" cy="163.7" r="13.1" fill="#a6dca2"/>
<circle cx="235.9" cy="170.9" r="5.6" fill="#3ab54a"/>
<text x="236.8" y="161.7" font-size="9.3" text-anchor="middle" fill="#111" stroke="#111" stroke-width="0.07" textLength="18.9" lengthAdjust="spacingAndGlyphs">Treg</text>
<circle cx="213.4" cy="188.8" r="13" fill="#e08b99"/>
<circle cx="213" cy="196.1" r="5.7" fill="#c8102e"/>
<text x="213.6" y="187.2" font-size="9.3" text-anchor="middle" fill="#111" stroke="#111" stroke-width="0.07" textLength="24.9" lengthAdjust="spacingAndGlyphs">Tconv</text>
<circle cx="247" cy="195.1" r="13.1" fill="#8fadcf"/>
<circle cx="247" cy="201.9" r="5.5" fill="#1b4f8b"/>
<text x="244.2" y="194.4" font-size="9.4" text-anchor="middle" fill="#111" stroke="#111" stroke-width="0.07" textLength="16.8" lengthAdjust="spacingAndGlyphs">CD8</text>
<text x="253.7" y="191.4" font-size="7" text-anchor="start" fill="#111" stroke="#111" stroke-width="0.05">+</text>
<path d="M200.3 212 H266.4 V219.5 L233.3 231.6 L200.3 219.5 Z" fill="#e5e5e5"/>
<text x="233" y="221.9" font-size="9.2" text-anchor="middle" fill="#231f20" stroke="#231f20" stroke-width="0.07" textLength="35.6" lengthAdjust="spacingAndGlyphs">RNASeq</text>
<rect x="172.9" y="246.2" width="1.55" height="1.57" fill="#f8f4f2"/>
<rect x="174.4" y="246.2" width="1.55" height="1.57" fill="#fcdfcd"/>
<rect x="175.9" y="246.2" width="1.55" height="1.57" fill="#fbe5d9"/>
<rect x="177.39" y="246.2" width="1.55" height="1.57" fill="#e7eff4"/>
<rect x="178.89" y="246.2" width="1.55" height="1.57" fill="#e6eff4"/>
<rect x="180.39" y="246.2" width="1.55" height="1.57" fill="#eaf1f5"/>
<rect x="181.89" y="246.2" width="1.55" height="1.57" fill="#fae9e0"/>
<rect x="183.39" y="246.2" width="1.55" height="1.57" fill="#f1f4f6"/>
<rect x="184.88" y="246.2" width="1.55" height="1.57" fill="#fddbc7"/>
<rect x="186.38" y="246.2" width="1.55" height="1.57" fill="#fcdecb"/>
<rect x="187.88" y="246.2" width="1.55" height="1.57" fill="#b0172b"/>
<rect x="189.38" y="246.2" width="1.55" height="1.57" fill="#f8bb9e"/>
<rect x="190.88" y="246.2" width="1.55" height="1.57" fill="#f7f7f7"/>
<rect x="192.38" y="246.2" width="1.55" height="1.57" fill="#f9ece4"/>
<rect x="193.87" y="246.2" width="1.55" height="1.57" fill="#f8f3f0"/>
<rect x="195.37" y="246.2" width="1.55" height="1.57" fill="#fbd0b9"/>
<rect x="196.87" y="246.2" width="1.55" height="1.57" fill="#fddac6"/>
<rect x="198.37" y="246.2" width="1.55" height="1.57" fill="#f5f6f7"/>
<rect x="199.87" y="246.2" width="1.55" height="1.57" fill="#fac7ad"/>
<rect x="201.36" y="246.2" width="1.55" height="1.57" fill="#fae7db"/>
<rect x="202.86" y="246.2" width="1.55" height="1.57" fill="#fcddcb"/>
<rect x="204.36" y="246.2" width="1.55" height="1.57" fill="#f7b596"/>
<rect x="205.86" y="246.2" width="1.55" height="1.57" fill="#fae9df"/>
<rect x="207.36" y="246.2" width="1.55" height="1.57" fill="#fcd3bd"/>
<rect x="208.85" y="246.2" width="1.55" height="1.57" fill="#f7b99b"/>
<rect x="210.35" y="246.2" width="1.55" height="1.57" fill="#ed9576"/>
<rect x="211.85" y="246.2" width="1.55" height="1.57" fill="#fddbc8"/>
<rect x="213.35" y="246.2" width="1.55" height="1.57" fill="#f9ebe3"/>
<rect x="214.85" y="246.2" width="1.55" height="1.57" fill="#f8f2ee"/>
<rect x="216.34" y="246.2" width="1.55" height="1.57" fill="#f5ad8d"/>
<rect x="217.84" y="246.2" width="1.55" height="1.57" fill="#f09d7c"/>
<rect x="219.34" y="246.2" width="1.55" height="1.57" fill="#f6b394"/>
<rect x="220.84" y="246.2" width="1.55" height="1.57" fill="#f8c0a4"/>
<rect x="222.34" y="246.2" width="1.55" height="1.57" fill="#f09d7c"/>
<rect x="223.83" y="246.2" width="1.55" height="1.57" fill="#d8e8f1"/>
<rect x="225.33" y="246.2" width="1.55" height="1.57" fill="#a2cde3"/>
<rect x="226.83" y="246.2" width="1.55" height="1.57" fill="#e7eff4"/>
<rect x="228.33" y="246.2" width="1.55" height="1.57" fill="#f6f7f7"/>
<rect x="229.83" y="246.2" width="1.55" height="1.57" fill="#d1e5f0"/>
<rect x="231.32" y="246.2" width="1.55" height="1.57" fill="#9dcbe1"/>
<rect x="232.82" y="246.2" width="1.55" height="1.57" fill="#b2d5e7"/>
<rect x="234.32" y="246.2" width="1.55" height="1.57" fill="#a2cde3"/>
<rect x="235.82" y="246.2" width="1.55" height="1.57" fill="#acd2e5"/>
<rect x="237.32" y="246.2" width="1.55" height="1.57" fill="#d1e5f0"/>
<rect x="238.82" y="246.2" width="1.55" height="1.57" fill="#a5cfe4"/>
<rect x="240.31" y="246.2" width="1.55" height="1.57" fill="#dfecf3"/>
<rect x="241.81" y="246.2" width="1.55" height="1.57" fill="#f6f6f7"/>
<rect x="243.31" y="246.2" width="1.55" height="1.57" fill="#c1ddec"/>
<rect x="244.81" y="246.2" width="1.55" height="1.57" fill="#cde3ef"/>
<rect x="246.31" y="246.2" width="1.55" height="1.57" fill="#f9efea"/>
<rect x="247.8" y="246.2" width="1.55" height="1.57" fill="#b3d6e7"/>
<rect x="249.3" y="246.2" width="1.55" height="1.57" fill="#bbdaea"/>
<rect x="172.9" y="247.72" width="1.55" height="1.57" fill="#fbe3d5"/>
<rect x="174.4" y="247.72" width="1.55" height="1.57" fill="#e1ecf3"/>
<rect x="175.9" y="247.72" width="1.55" height="1.57" fill="#f9f0eb"/>
<rect x="177.39" y="247.72" width="1.55" height="1.57" fill="#f8bb9e"/>
<rect x="178.89" y="247.72" width="1.55" height="1.57" fill="#fbe5d8"/>
<rect x="180.39" y="247.72" width="1.55" height="1.57" fill="#ec9374"/>
<rect x="181.89" y="247.72" width="1.55" height="1.57" fill="#f8bda1"/>
<rect x="183.39" y="247.72" width="1.55" height="1.57" fill="#f8bfa3"/>
<rect x="184.88" y="247.72" width="1.55" height="1.57" fill="#faeae1"/>
<rect x="186.38" y="247.72" width="1.55" height="1.57" fill="#f1f4f6"/>
<rect x="187.88" y="247.72" width="1.55" height="1.57" fill="#eef3f5"/>
<rect x="189.38" y="247.72" width="1.55" height="1.57" fill="#f8f3f1"/>
<rect x="190.88" y="247.72" width="1.55" height="1.57" fill="#fddbc7"/>
<rect x="192.38" y="247.72" width="1.55" height="1.57" fill="#ecf2f5"/>
<rect x="193.87" y="247.72" width="1.55" height="1.57" fill="#f6f6f7"/>
<rect x="195.37" y="247.72" width="1.55" height="1.57" fill="#f0f4f6"/>
<rect x="196.87" y="247.72" width="1.55" height="1.57" fill="#fbd2bb"/>
<rect x="198.37" y="247.72" width="1.55" height="1.57" fill="#f9ece5"/>
<rect x="199.87" y="247.72" width="1.55" height="1.57" fill="#fbe5d7"/>
<rect x="201.36" y="247.72" width="1.55" height="1.57" fill="#f6b191"/>
<rect x="202.86" y="247.72" width="1.55" height="1.57" fill="#fdddca"/>
<rect x="204.36" y="247.72" width="1.55" height="1.57" fill="#f8f4f2"/>
<rect x="205.86" y="247.72" width="1.55" height="1.57" fill="#fbe3d5"/>
<rect x="207.36" y="247.72" width="1.55" height="1.57" fill="#f5ae8d"/>
<rect x="208.85" y="247.72" width="1.55" height="1.57" fill="#f7f6f5"/>
<rect x="210.35" y="247.72" width="1.55" height="1.57" fill="#fbd0b8"/>
<rect x="211.85" y="247.72" width="1.55" height="1.57" fill="#dc6e58"/>
<rect x="213.35" y="247.72" width="1.55" height="1.57" fill="#fbcdb5"/>
<rect x="214.85" y="247.72" width="1.55" height="1.57" fill="#f3a280"/>
<rect x="216.34" y="247.72" width="1.55" height="1.57" fill="#fbe3d5"/>
<rect x="217.84" y="247.72" width="1.55" height="1.57" fill="#fae8de"/>
<rect x="219.34" y="247.72" width="1.55" height="1.57" fill="#fac7ad"/>
<rect x="220.84" y="247.72" width="1.55" height="1.57" fill="#fdddca"/>
<rect x="222.34" y="247.72" width="1.55" height="1.57" fill="#f2a17f"/>
<rect x="223.83" y="247.72" width="1.55" height="1.57" fill="#f7f6f5"/>
<rect x="225.33" y="247.72" width="1.55" height="1.57" fill="#f6f6f7"/>
<rect x="226.83" y="247.72" width="1.55" height="1.57" fill="#bad9e9"/>
<rect x="228.33" y="247.72" width="1.55" height="1.57" fill="#75b3d4"/>
<rect x="229.83" y="247.72" width="1.55" height="1.57" fill="#9ecbe1"/>
<rect x="231.32" y="247.72" width="1.55" height="1.57" fill="#bfdceb"/>
<rect x="232.82" y="247.72" width="1.55" height="1.57" fill="#f9efea"/>
<rect x="234.32" y="247.72" width="1.55" height="1.57" fill="#f8f0ec"/>
<rect x="235.82" y="247.72" width="1.55" height="1.57" fill="#f9efea"/>
<rect x="237.32" y="247.72" width="1.55" height="1.57" fill="#b9d9e9"/>
<rect x="238.82" y="247.72" width="1.55" height="1.57" fill="#b6d7e8"/>
<rect x="240.31" y="247.72" width="1.55" height="1.57" fill="#e5eff4"/>
<rect x="241.81" y="247.72" width="1.55" height="1.57" fill="#f7f7f6"/>
<rect x="243.31" y="247.72" width="1.55" height="1.57" fill="#e8f0f4"/>
<rect x="244.81" y="247.72" width="1.55" height="1.57" fill="#a6cfe4"/>
<rect x="246.31" y="247.72" width="1.55" height="1.57" fill="#f8f2ef"/>
<rect x="247.8" y="247.72" width="1.55" height="1.57" fill="#f0f4f6"/>
<rect x="249.3" y="247.72" width="1.55" height="1.57" fill="#b3d6e7"/>
<rect x="172.9" y="249.24" width="1.55" height="1.57" fill="#f8f4f1"/>
<rect x="174.4" y="249.24" width="1.55" height="1.57" fill="#f8bb9e"/>
<rect x="175.9" y="249.24" width="1.55" height="1.57" fill="#f9eee7"/>
<rect x="177.39" y="249.24" width="1.55" height="1.57" fill="#fcd6c1"/>
<rect x="178.89" y="249.24" width="1.55" height="1.57" fill="#eef3f5"/>
<rect x="180.39" y="249.24" width="1.55" height="1.57" fill="#f8bea2"/>
<rect x="181.89" y="249.24" width="1.55" height="1.57" fill="#f2f4f6"/>
<rect x="183.39" y="249.24" width="1.55" height="1.57" fill="#f6b292"/>
<rect x="184.88" y="249.24" width="1.55" height="1.57" fill="#f9ede5"/>
<rect x="186.38" y="249.24" width="1.55" height="1.57" fill="#eff3f6"/>
<rect x="187.88" y="249.24" width="1.55" height="1.57" fill="#f6af8f"/>
<rect x="189.38" y="249.24" width="1.55" height="1.57" fill="#fcdfce"/>
<rect x="190.88" y="249.24" width="1.55" height="1.57" fill="#fbe4d7"/>
<rect x="192.38" y="249.24" width="1.55" height="1.57" fill="#f8bca0"/>
<rect x="193.87" y="249.24" width="1.55" height="1.57" fill="#f9eee8"/>
<rect x="195.37" y="249.24" width="1.55" height="1.57" fill="#f9eee8"/>
<rect x="196.87" y="249.24" width="1.55" height="1.57" fill="#f9ede5"/>
<rect x="198.37" y="249.24" width="1.55" height="1.57" fill="#f8f4f2"/>
<rect x="199.87" y="249.24" width="1.55" height="1.57" fill="#fbe5d8"/>
<rect x="201.36" y="249.24" width="1.55" height="1.57" fill="#fbd1bb"/>
<rect x="202.86" y="249.24" width="1.55" height="1.57" fill="#fce0cf"/>
<rect x="204.36" y="249.24" width="1.55" height="1.57" fill="#fdd8c4"/>
<rect x="205.86" y="249.24" width="1.55" height="1.57" fill="#e68569"/>
<rect x="207.36" y="249.24" width="1.55" height="1.57" fill="#fddcc9"/>
<rect x="208.85" y="249.24" width="1.55" height="1.57" fill="#f7f7f7"/>
<rect x="210.35" y="249.24" width="1.55" height="1.57" fill="#f9ece3"/>
<rect x="211.85" y="249.24" width="1.55" height="1.57" fill="#f7b698"/>
<rect x="213.35" y="249.24" width="1.55" height="1.57" fill="#fce0d0"/>
<rect x="214.85" y="249.24" width="1.55" height="1.57" fill="#fac8af"/>
<rect x="216.34" y="249.24" width="1.55" height="1.57" fill="#f9ede6"/>
<rect x="217.84" y="249.24" width="1.55" height="1.57" fill="#fbe3d5"/>
<rect x="219.34" y="249.24" width="1.55" height="1.57" fill="#f5aa88"/>
<rect x="220.84" y="249.24" width="1.55" height="1.57" fill="#f9c2a7"/>
<rect x="222.34" y="249.24" width="1.55" height="1.57" fill="#ec9273"/>
<rect x="223.83" y="249.24" width="1.55" height="1.57" fill="#e4eef4"/>
<rect x="225.33" y="249.24" width="1.55" height="1.57" fill="#dceaf2"/>
<rect x="226.83" y="249.24" width="1.55" height="1.57" fill="#d6e8f1"/>
<rect x="228.33" y="249.24" width="1.55" height="1.57" fill="#d9e9f1"/>
<rect x="229.83" y="249.24" width="1.55" height="1.57" fill="#ecf2f5"/>
<rect x="231.32" y="249.24" width="1.55" height="1.57" fill="#f8f0eb"/>
<rect x="232.82" y="249.24" width="1.55" height="1.57" fill="#e0ecf3"/>
<rect x="234.32" y="249.24" width="1.55" height="1.57" fill="#f7f7f6"/>
<rect x="235.82" y="249.24" width="1.55" height="1.57" fill="#abd2e5"/>
<rect x="237.32" y="249.24" width="1.55" height="1.57" fill="#a4cee3"/>
<rect x="238.82" y="249.24" width="1.55" height="1.57" fill="#a4cee3"/>
<rect x="240.31" y="249.24" width="1.55" height="1.57" fill="#f3f5f6"/>
<rect x="241.81" y="249.24" width="1.55" height="1.57" fill="#b0d4e7"/>
<rect x="243.31" y="249.24" width="1.55" height="1.57" fill="#e8f0f4"/>
<rect x="244.81" y="249.24" width="1.55" height="1.57" fill="#f8f4f2"/>
<rect x="246.31" y="249.24" width="1.55" height="1.57" fill="#b9d9e9"/>
<rect x="247.8" y="249.24" width="1.55" height="1.57" fill="#d2e5f0"/>
<rect x="249.3" y="249.24" width="1.55" height="1.57" fill="#f9ede6"/>
<rect x="172.9" y="250.76" width="1.55" height="1.57" fill="#edf2f5"/>
<rect x="174.4" y="250.76" width="1.55" height="1.57" fill="#fae7dc"/>
<rect x="175.9" y="250.76" width="1.55" height="1.57" fill="#f2f5f6"/>
<rect x="177.39" y="250.76" width="1.55" height="1.57" fill="#e98b6e"/>
<rect x="178.89" y="250.76" width="1.55" height="1.57" fill="#fbe3d4"/>
<rect x="180.39" y="250.76" width="1.55" height="1.57" fill="#e6eff4"/>
<rect x="181.89" y="250.76" width="1.55" height="1.57" fill="#fdddca"/>
<rect x="183.39" y="250.76" width="1.55" height="1.57" fill="#ecf2f5"/>
<rect x="184.88" y="250.76" width="1.55" height="1.57" fill="#fac8ae"/>
<rect x="186.38" y="250.76" width="1.55" height="1.57" fill="#f1f4f6"/>
<rect x="187.88" y="250.76" width="1.55" height="1.57" fill="#ecf2f5"/>
<rect x="189.38" y="250.76" width="1.55" height="1.57" fill="#f9efea"/>
<rect x="190.88" y="250.76" width="1.55" height="1.57" fill="#fbe5d8"/>
<rect x="192.38" y="250.76" width="1.55" height="1.57" fill="#f8bda1"/>
<rect x="193.87" y="250.76" width="1.55" height="1.57" fill="#f7f5f3"/>
<rect x="195.37" y="250.76" width="1.55" height="1.57" fill="#fdd8c4"/>
<rect x="196.87" y="250.76" width="1.55" height="1.57" fill="#f6f7f7"/>
<rect x="198.37" y="250.76" width="1.55" height="1.57" fill="#fac7ae"/>
<rect x="199.87" y="250.76" width="1.55" height="1.57" fill="#f7f7f7"/>
<rect x="201.36" y="250.76" width="1.55" height="1.57" fill="#facbb3"/>
<rect x="202.86" y="250.76" width="1.55" height="1.57" fill="#f7f5f3"/>
<rect x="204.36" y="250.76" width="1.55" height="1.57" fill="#f7f5f4"/>
<rect x="205.86" y="250.76" width="1.55" height="1.57" fill="#fddcc9"/>
<rect x="207.36" y="250.76" width="1.55" height="1.57" fill="#fbcfb8"/>
<rect x="208.85" y="250.76" width="1.55" height="1.57" fill="#fbe6da"/>
<rect x="210.35" y="250.76" width="1.55" height="1.57" fill="#fbd0b9"/>
<rect x="211.85" y="250.76" width="1.55" height="1.57" fill="#f9efe9"/>
<rect x="213.35" y="250.76" width="1.55" height="1.57" fill="#f8f2ee"/>
<rect x="214.85" y="250.76" width="1.55" height="1.57" fill="#fce1d1"/>
<rect x="216.34" y="250.76" width="1.55" height="1.57" fill="#f5ae8d"/>
<rect x="217.84" y="250.76" width="1.55" height="1.57" fill="#fbccb4"/>
<rect x="219.34" y="250.76" width="1.55" height="1.57" fill="#f19e7c"/>
<rect x="220.84" y="250.76" width="1.55" height="1.57" fill="#f7b698"/>
<rect x="222.34" y="250.76" width="1.55" height="1.57" fill="#f5ac8a"/>
<rect x="223.83" y="250.76" width="1.55" height="1.57" fill="#b5d7e8"/>
<rect x="225.33" y="250.76" width="1.55" height="1.57" fill="#f8f1ec"/>
<rect x="226.83" y="250.76" width="1.55" height="1.57" fill="#f6f6f7"/>
<rect x="228.33" y="250.76" width="1.55" height="1.57" fill="#dae9f2"/>
<rect x="229.83" y="250.76" width="1.55" height="1.57" fill="#d1e5f0"/>
<rect x="231.32" y="250.76" width="1.55" height="1.57" fill="#ebf1f5"/>
<rect x="232.82" y="250.76" width="1.55" height="1.57" fill="#cae2ee"/>
<rect x="234.32" y="250.76" width="1.55" height="1.57" fill="#ecf2f5"/>
<rect x="235.82" y="250.76" width="1.55" height="1.57" fill="#d2e6f0"/>
<rect x="237.32" y="250.76" width="1.55" height="1.57" fill="#a2cde2"/>
<rect x="238.82" y="250.76" width="1.55" height="1.57" fill="#a4cee3"/>
<rect x="240.31" y="250.76" width="1.55" height="1.57" fill="#bedbeb"/>
<rect x="241.81" y="250.76" width="1.55" height="1.57" fill="#a6cfe4"/>
<rect x="243.31" y="250.76" width="1.55" height="1.57" fill="#f8f5f3"/>
<rect x="244.81" y="250.76" width="1.55" height="1.57" fill="#c2ddec"/>
<rect x="246.31" y="250.76" width="1.55" height="1.57" fill="#c3deec"/>
<rect x="247.8" y="250.76" width="1.55" height="1.57" fill="#b0d4e7"/>
<rect x="249.3" y="250.76" width="1.55" height="1.57" fill="#bfdceb"/>
<rect x="172.9" y="252.28" width="1.55" height="1.57" fill="#f8bda0"/>
<rect x="174.4" y="252.28" width="1.55" height="1.57" fill="#f5f6f7"/>
<rect x="175.9" y="252.28" width="1.55" height="1.57" fill="#f8f4f1"/>
<rect x="177.39" y="252.28" width="1.55" height="1.57" fill="#e2edf3"/>
<rect x="178.89" y="252.28" width="1.55" height="1.57" fill="#fae8dd"/>
<rect x="180.39" y="252.28" width="1.55" height="1.57" fill="#f5f6f7"/>
<rect x="181.89" y="252.28" width="1.55" height="1.57" fill="#e6eff4"/>
<rect x="183.39" y="252.28" width="1.55" height="1.57" fill="#eef3f5"/>
<rect x="184.88" y="252.28" width="1.55" height="1.57" fill="#dceaf2"/>
<rect x="186.38" y="252.28" width="1.55" height="1.57" fill="#f9efe9"/>
<rect x="187.88" y="252.28" width="1.55" height="1.57" fill="#fddcc9"/>
<rect x="189.38" y="252.28" width="1.55" height="1.57" fill="#fac8af"/>
<rect x="190.88" y="252.28" width="1.55" height="1.57" fill="#facbb3"/>
<rect x="192.38" y="252.28" width="1.55" height="1.57" fill="#fbe7db"/>
<rect x="193.87" y="252.28" width="1.55" height="1.57" fill="#f4a885"/>
<rect x="195.37" y="252.28" width="1.55" height="1.57" fill="#f9c6ac"/>
<rect x="196.87" y="252.28" width="1.55" height="1.57" fill="#f3f5f6"/>
<rect x="198.37" y="252.28" width="1.55" height="1.57" fill="#f6af8e"/>
<rect x="199.87" y="252.28" width="1.55" height="1.57" fill="#f9c0a5"/>
<rect x="201.36" y="252.28" width="1.55" height="1.57" fill="#f8f2ee"/>
<rect x="202.86" y="252.28" width="1.55" height="1.57" fill="#fddac5"/>
<rect x="204.36" y="252.28" width="1.55" height="1.57" fill="#f6b495"/>
<rect x="205.86" y="252.28" width="1.55" height="1.57" fill="#fbcdb5"/>
<rect x="207.36" y="252.28" width="1.55" height="1.57" fill="#f8c0a4"/>
<rect x="208.85" y="252.28" width="1.55" height="1.57" fill="#fcd4be"/>
<rect x="210.35" y="252.28" width="1.55" height="1.57" fill="#f9eee8"/>
<rect x="211.85" y="252.28" width="1.55" height="1.57" fill="#f9efe9"/>
<rect x="213.35" y="252.28" width="1.55" height="1.57" fill="#fac9b0"/>
<rect x="214.85" y="252.28" width="1.55" height="1.57" fill="#f8c0a4"/>
<rect x="216.34" y="252.28" width="1.55" height="1.57" fill="#df755d"/>
<rect x="217.84" y="252.28" width="1.55" height="1.57" fill="#f4a886"/>
<rect x="219.34" y="252.28" width="1.55" height="1.57" fill="#facab2"/>
<rect x="220.84" y="252.28" width="1.55" height="1.57" fill="#f7b698"/>
<rect x="222.34" y="252.28" width="1.55" height="1.57" fill="#f5ab8a"/>
<rect x="223.83" y="252.28" width="1.55" height="1.57" fill="#a4cee3"/>
<rect x="225.33" y="252.28" width="1.55" height="1.57" fill="#eef3f5"/>
<rect x="226.83" y="252.28" width="1.55" height="1.57" fill="#eff3f6"/>
<rect x="228.33" y="252.28" width="1.55" height="1.57" fill="#dae9f2"/>
<rect x="229.83" y="252.28" width="1.55" height="1.57" fill="#d9e9f1"/>
<rect x="231.32" y="252.28" width="1.55" height="1.57" fill="#f1f4f6"/>
<rect x="232.82" y="252.28" width="1.55" height="1.57" fill="#e7eff4"/>
<rect x="234.32" y="252.28" width="1.55" height="1.57" fill="#afd4e6"/>
<rect x="235.82" y="252.28" width="1.55" height="1.57" fill="#eff3f6"/>
<rect x="237.32" y="252.28" width="1.55" height="1.57" fill="#bddbea"/>
<rect x="238.82" y="252.28" width="1.55" height="1.57" fill="#a2cde3"/>
<rect x="240.31" y="252.28" width="1.55" height="1.57" fill="#e9f0f4"/>
<rect x="241.81" y="252.28" width="1.55" height="1.57" fill="#eaf1f5"/>
<rect x="243.31" y="252.28" width="1.55" height="1.57" fill="#dceaf2"/>
<rect x="244.81" y="252.28" width="1.55" height="1.57" fill="#d8e8f1"/>
<rect x="246.31" y="252.28" width="1.55" height="1.57" fill="#f8f3f0"/>
<rect x="247.8" y="252.28" width="1.55" height="1.57" fill="#f9eee7"/>
<rect x="249.3" y="252.28" width="1.55" height="1.57" fill="#9ccae1"/>
<rect x="172.9" y="253.8" width="1.55" height="1.57" fill="#f8f1ec"/>
<rect x="174.4" y="253.8" width="1.55" height="1.57" fill="#dfecf3"/>
<rect x="175.9" y="253.8" width="1.55" height="1.57" fill="#c5dfec"/>
<rect x="177.39" y="253.8" width="1.55" height="1.57" fill="#c3deec"/>
<rect x="178.89" y="253.8" width="1.55" height="1.57" fill="#b8d8e9"/>
<rect x="180.39" y="253.8" width="1.55" height="1.57" fill="#f9ece3"/>
<rect x="181.89" y="253.8" width="1.55" height="1.57" fill="#f8f5f3"/>
<rect x="183.39" y="253.8" width="1.55" height="1.57" fill="#f8f1ed"/>
<rect x="184.88" y="253.8" width="1.55" height="1.57" fill="#bfdceb"/>
<rect x="186.38" y="253.8" width="1.55" height="1.57" fill="#abd2e5"/>
<rect x="187.88" y="253.8" width="1.55" height="1.57" fill="#9ccae1"/>
<rect x="189.38" y="253.8" width="1.55" height="1.57" fill="#d7e8f1"/>
<rect x="190.88" y="253.8" width="1.55" height="1.57" fill="#add3e6"/>
<rect x="192.38" y="253.8" width="1.55" height="1.57" fill="#c4dfec"/>
<rect x="193.87" y="253.8" width="1.55" height="1.57" fill="#96c7df"/>
<rect x="195.37" y="253.8" width="1.55" height="1.57" fill="#f4f6f7"/>
<rect x="196.87" y="253.8" width="1.55" height="1.57" fill="#f8f4f2"/>
<rect x="198.37" y="253.8" width="1.55" height="1.57" fill="#f7f6f6"/>
<rect x="199.87" y="253.8" width="1.55" height="1.57" fill="#c5dfed"/>
<rect x="201.36" y="253.8" width="1.55" height="1.57" fill="#f8f1ed"/>
<rect x="202.86" y="253.8" width="1.55" height="1.57" fill="#c1ddeb"/>
<rect x="204.36" y="253.8" width="1.55" height="1.57" fill="#3b88be"/>
<rect x="205.86" y="253.8" width="1.55" height="1.57" fill="#99c9e0"/>
<rect x="207.36" y="253.8" width="1.55" height="1.57" fill="#b2d5e7"/>
<rect x="208.85" y="253.8" width="1.55" height="1.57" fill="#abd2e5"/>
<rect x="210.35" y="253.8" width="1.55" height="1.57" fill="#cfe4ef"/>
<rect x="211.85" y="253.8" width="1.55" height="1.57" fill="#bad9e9"/>
<rect x="213.35" y="253.8" width="1.55" height="1.57" fill="#eef3f5"/>
<rect x="214.85" y="253.8" width="1.55" height="1.57" fill="#d8e8f1"/>
<rect x="216.34" y="253.8" width="1.55" height="1.57" fill="#f1f4f6"/>
<rect x="217.84" y="253.8" width="1.55" height="1.57" fill="#b3d6e7"/>
<rect x="219.34" y="253.8" width="1.55" height="1.57" fill="#deebf2"/>
<rect x="220.84" y="253.8" width="1.55" height="1.57" fill="#dfebf3"/>
<rect x="222.34" y="253.8" width="1.55" height="1.57" fill="#2970b1"/>
<rect x="223.83" y="253.8" width="1.55" height="1.57" fill="#f4a785"/>
<rect x="225.33" y="253.8" width="1.55" height="1.57" fill="#fdddca"/>
<rect x="226.83" y="253.8" width="1.55" height="1.57" fill="#fae8dd"/>
<rect x="228.33" y="253.8" width="1.55" height="1.57" fill="#f2a07e"/>
<rect x="229.83" y="253.8" width="1.55" height="1.57" fill="#fac8af"/>
<rect x="231.32" y="253.8" width="1.55" height="1.57" fill="#fcd4be"/>
<rect x="232.82" y="253.8" width="1.55" height="1.57" fill="#f9f0eb"/>
<rect x="234.32" y="253.8" width="1.55" height="1.57" fill="#f9ede7"/>
<rect x="235.82" y="253.8" width="1.55" height="1.57" fill="#fddbc7"/>
<rect x="237.32" y="253.8" width="1.55" height="1.57" fill="#f5aa88"/>
<rect x="238.82" y="253.8" width="1.55" height="1.57" fill="#fcdecc"/>
<rect x="240.31" y="253.8" width="1.55" height="1.57" fill="#f9eee8"/>
<rect x="241.81" y="253.8" width="1.55" height="1.57" fill="#fbe5d8"/>
<rect x="243.31" y="253.8" width="1.55" height="1.57" fill="#f9ebe3"/>
<rect x="244.81" y="253.8" width="1.55" height="1.57" fill="#fcd3bc"/>
<rect x="246.31" y="253.8" width="1.55" height="1.57" fill="#f8bda0"/>
<rect x="247.8" y="253.8" width="1.55" height="1.57" fill="#fce0d0"/>
<rect x="249.3" y="253.8" width="1.55" height="1.57" fill="#fbe3d4"/>
<rect x="172.9" y="255.32" width="1.55" height="1.57" fill="#b2d5e7"/>
<rect x="174.4" y="255.32" width="1.55" height="1.57" fill="#fae8de"/>
<rect x="175.9" y="255.32" width="1.55" height="1.57" fill="#e3edf3"/>
<rect x="177.39" y="255.32" width="1.55" height="1.57" fill="#f8f0eb"/>
<rect x="178.89" y="255.32" width="1.55" height="1.57" fill="#cae2ee"/>
<rect x="180.39" y="255.32" width="1.55" height="1.57" fill="#d7e8f1"/>
<rect x="181.89" y="255.32" width="1.55" height="1.57" fill="#f9ece4"/>
<rect x="183.39" y="255.32" width="1.55" height="1.57" fill="#f9ece4"/>
<rect x="184.88" y="255.32" width="1.55" height="1.57" fill="#a3cee3"/>
<rect x="186.38" y="255.32" width="1.55" height="1.57" fill="#f8f2ee"/>
<rect x="187.88" y="255.32" width="1.55" height="1.57" fill="#c7e0ed"/>
<rect x="189.38" y="255.32" width="1.55" height="1.57" fill="#d1e5f0"/>
<rect x="190.88" y="255.32" width="1.55" height="1.57" fill="#f6f6f7"/>
<rect x="192.38" y="255.32" width="1.55" height="1.57" fill="#f9efea"/>
<rect x="193.87" y="255.32" width="1.55" height="1.57" fill="#a6cfe4"/>
<rect x="195.37" y="255.32" width="1.55" height="1.57" fill="#d9e9f2"/>
<rect x="196.87" y="255.32" width="1.55" height="1.57" fill="#f8f3f0"/>
<rect x="198.37" y="255.32" width="1.55" height="1.57" fill="#e2edf3"/>
<rect x="199.87" y="255.32" width="1.55" height="1.57" fill="#d1e5f0"/>
<rect x="201.36" y="255.32" width="1.55" height="1.57" fill="#95c6df"/>
<rect x="202.86" y="255.32" width="1.55" height="1.57" fill="#afd4e6"/>
<rect x="204.36" y="255.32" width="1.55" height="1.57" fill="#dfecf3"/>
<rect x="205.86" y="255.32" width="1.55" height="1.57" fill="#9dcbe1"/>
<rect x="207.36" y="255.32" width="1.55" height="1.57" fill="#dceaf2"/>
<rect x="208.85" y="255.32" width="1.55" height="1.57" fill="#98c8e0"/>
<rect x="210.35" y="255.32" width="1.55" height="1.57" fill="#d1e5f0"/>
<rect x="211.85" y="255.32" width="1.55" height="1.57" fill="#bcdaea"/>
<rect x="213.35" y="255.32" width="1.55" height="1.57" fill="#97c8df"/>
<rect x="214.85" y="255.32" width="1.55" height="1.57" fill="#add3e6"/>
<rect x="216.34" y="255.32" width="1.55" height="1.57" fill="#f3f5f6"/>
<rect x="217.84" y="255.32" width="1.55" height="1.57" fill="#ecf2f5"/>
<rect x="219.34" y="255.32" width="1.55" height="1.57" fill="#a0cce2"/>
<rect x="220.84" y="255.32" width="1.55" height="1.57" fill="#f0f4f6"/>
<rect x="222.34" y="255.32" width="1.55" height="1.57" fill="#2c75b4"/>
<rect x="223.83" y="255.32" width="1.55" height="1.57" fill="#fddbc7"/>
<rect x="225.33" y="255.32" width="1.55" height="1.57" fill="#fce0d0"/>
<rect x="226.83" y="255.32" width="1.55" height="1.57" fill="#fac7ad"/>
<rect x="228.33" y="255.32" width="1.55" height="1.57" fill="#fcdfce"/>
<rect x="229.83" y="255.32" width="1.55" height="1.57" fill="#fbe5d8"/>
<rect x="231.32" y="255.32" width="1.55" height="1.57" fill="#f9c5ab"/>
<rect x="232.82" y="255.32" width="1.55" height="1.57" fill="#f7b799"/>
<rect x="234.32" y="255.32" width="1.55" height="1.57" fill="#fddac6"/>
<rect x="235.82" y="255.32" width="1.55" height="1.57" fill="#f2a17f"/>
<rect x="237.32" y="255.32" width="1.55" height="1.57" fill="#f7b495"/>
<rect x="238.82" y="255.32" width="1.55" height="1.57" fill="#f9ede5"/>
<rect x="240.31" y="255.32" width="1.55" height="1.57" fill="#fae8dd"/>
<rect x="241.81" y="255.32" width="1.55" height="1.57" fill="#fddbc7"/>
<rect x="243.31" y="255.32" width="1.55" height="1.57" fill="#f9ece5"/>
<rect x="244.81" y="255.32" width="1.55" height="1.57" fill="#fac7ad"/>
<rect x="246.31" y="255.32" width="1.55" height="1.57" fill="#f8f1ed"/>
<rect x="247.8" y="255.32" width="1.55" height="1.57" fill="#f9ede6"/>
<rect x="249.3" y="255.32" width="1.55" height="1.57" fill="#faebe2"/>
<rect x="172.9" y="256.84" width="1.55" height="1.57" fill="#b2d5e7"/>
<rect x="174.4" y="256.84" width="1.55" height="1.57" fill="#f9ede5"/>
<rect x="175.9" y="256.84" width="1.55" height="1.57" fill="#f6f7f7"/>
<rect x="177.39" y="256.84" width="1.55" height="1.57" fill="#f9ece4"/>
<rect x="178.89" y="256.84" width="1.55" height="1.57" fill="#bedceb"/>
<rect x="180.39" y="256.84" width="1.55" height="1.57" fill="#f2f5f6"/>
<rect x="181.89" y="256.84" width="1.55" height="1.57" fill="#edf2f5"/>
<rect x="183.39" y="256.84" width="1.55" height="1.57" fill="#d3e6f0"/>
<rect x="184.88" y="256.84" width="1.55" height="1.57" fill="#3f8dc0"/>
<rect x="186.38" y="256.84" width="1.55" height="1.57" fill="#c5dfec"/>
<rect x="187.88" y="256.84" width="1.55" height="1.57" fill="#f9efe8"/>
<rect x="189.38" y="256.84" width="1.55" height="1.57" fill="#f9efe9"/>
<rect x="190.88" y="256.84" width="1.55" height="1.57" fill="#cbe2ee"/>
<rect x="192.38" y="256.84" width="1.55" height="1.57" fill="#f5f6f7"/>
<rect x="193.87" y="256.84" width="1.55" height="1.57" fill="#9dcbe1"/>
<rect x="195.37" y="256.84" width="1.55" height="1.57" fill="#c9e1ee"/>
<rect x="196.87" y="256.84" width="1.55" height="1.57" fill="#afd4e6"/>
<rect x="198.37" y="256.84" width="1.55" height="1.57" fill="#f7f6f5"/>
<rect x="199.87" y="256.84" width="1.55" height="1.57" fill="#cbe2ee"/>
<rect x="201.36" y="256.84" width="1.55" height="1.57" fill="#dceaf2"/>
<rect x="202.86" y="256.84" width="1.55" height="1.57" fill="#93c5de"/>
<rect x="204.36" y="256.84" width="1.55" height="1.57" fill="#f6f7f7"/>
<rect x="205.86" y="256.84" width="1.55" height="1.57" fill="#e7eff4"/>
<rect x="207.36" y="256.84" width="1.55" height="1.57" fill="#bad9e9"/>
<rect x="208.85" y="256.84" width="1.55" height="1.57" fill="#f7f7f7"/>
<rect x="210.35" y="256.84" width="1.55" height="1.57" fill="#acd2e5"/>
<rect x="211.85" y="256.84" width="1.55" height="1.57" fill="#b2d5e7"/>
<rect x="213.35" y="256.84" width="1.55" height="1.57" fill="#81bad8"/>
<rect x="214.85" y="256.84" width="1.55" height="1.57" fill="#f0f4f6"/>
<rect x="216.34" y="256.84" width="1.55" height="1.57" fill="#ebf1f5"/>
<rect x="217.84" y="256.84" width="1.55" height="1.57" fill="#a1cde2"/>
<rect x="219.34" y="256.84" width="1.55" height="1.57" fill="#f1f4f6"/>
<rect x="220.84" y="256.84" width="1.55" height="1.57" fill="#b4d6e8"/>
<rect x="222.34" y="256.84" width="1.55" height="1.57" fill="#b8d9e9"/>
<rect x="223.83" y="256.84" width="1.55" height="1.57" fill="#f4a785"/>
<rect x="225.33" y="256.84" width="1.55" height="1.57" fill="#f7b698"/>
<rect x="226.83" y="256.84" width="1.55" height="1.57" fill="#f6b495"/>
<rect x="228.33" y="256.84" width="1.55" height="1.57" fill="#fbceb6"/>
<rect x="229.83" y="256.84" width="1.55" height="1.57" fill="#fbe6da"/>
<rect x="231.32" y="256.84" width="1.55" height="1.57" fill="#f7b99b"/>
<rect x="232.82" y="256.84" width="1.55" height="1.57" fill="#f9eee8"/>
<rect x="234.32" y="256.84" width="1.55" height="1.57" fill="#faebe2"/>
<rect x="235.82" y="256.84" width="1.55" height="1.57" fill="#f5f6f7"/>
<rect x="237.32" y="256.84" width="1.55" height="1.57" fill="#fbe6da"/>
<rect x="238.82" y="256.84" width="1.55" height="1.57" fill="#f5ac8b"/>
<rect x="240.31" y="256.84" width="1.55" height="1.57" fill="#faeae0"/>
<rect x="241.81" y="256.84" width="1.55" height="1.57" fill="#f8f4f3"/>
<rect x="243.31" y="256.84" width="1.55" height="1.57" fill="#f9c2a6"/>
<rect x="244.81" y="256.84" width="1.55" height="1.57" fill="#f9ece4"/>
<rect x="246.31" y="256.84" width="1.55" height="1.57" fill="#fbccb4"/>
<rect x="247.8" y="256.84" width="1.55" height="1.57" fill="#f8bda1"/>
<rect x="249.3" y="256.84" width="1.55" height="1.57" fill="#fac7ad"/>
<rect x="172.9" y="258.36" width="1.55" height="1.57" fill="#f9f0ea"/>
<rect x="174.4" y="258.36" width="1.55" height="1.57" fill="#e9f0f4"/>
<rect x="175.9" y="258.36" width="1.55" height="1.57" fill="#f7f7f7"/>
<rect x="177.39" y="258.36" width="1.55" height="1.57" fill="#c9e1ee"/>
<rect x="178.89" y="258.36" width="1.55" height="1.57" fill="#bad9e9"/>
<rect x="180.39" y="258.36" width="1.55" height="1.57" fill="#e6eff4"/>
<rect x="181.89" y="258.36" width="1.55" height="1.57" fill="#d6e7f1"/>
<rect x="183.39" y="258.36" width="1.55" height="1.57" fill="#dfecf3"/>
<rect x="184.88" y="258.36" width="1.55" height="1.57" fill="#f7f7f6"/>
<rect x="186.38" y="258.36" width="1.55" height="1.57" fill="#f9ece4"/>
<rect x="187.88" y="258.36" width="1.55" height="1.57" fill="#d9e9f2"/>
<rect x="189.38" y="258.36" width="1.55" height="1.57" fill="#f7f6f6"/>
<rect x="190.88" y="258.36" width="1.55" height="1.57" fill="#9fcbe2"/>
<rect x="192.38" y="258.36" width="1.55" height="1.57" fill="#a8d0e4"/>
<rect x="193.87" y="258.36" width="1.55" height="1.57" fill="#f9f0eb"/>
<rect x="195.37" y="258.36" width="1.55" height="1.57" fill="#f8f3f1"/>
<rect x="196.87" y="258.36" width="1.55" height="1.57" fill="#f6f6f7"/>
<rect x="198.37" y="258.36" width="1.55" height="1.57" fill="#b7d8e8"/>
<rect x="199.87" y="258.36" width="1.55" height="1.57" fill="#f8f4f2"/>
<rect x="201.36" y="258.36" width="1.55" height="1.57" fill="#dceaf2"/>
<rect x="202.86" y="258.36" width="1.55" height="1.57" fill="#add2e6"/>
<rect x="204.36" y="258.36" width="1.55" height="1.57" fill="#a0cce2"/>
<rect x="205.86" y="258.36" width="1.55" height="1.57" fill="#afd4e6"/>
<rect x="207.36" y="258.36" width="1.55" height="1.57" fill="#deebf2"/>
<rect x="208.85" y="258.36" width="1.55" height="1.57" fill="#88beda"/>
<rect x="210.35" y="258.36" width="1.55" height="1.57" fill="#deebf2"/>
<rect x="211.85" y="258.36" width="1.55" height="1.57" fill="#b2d5e7"/>
<rect x="213.35" y="258.36" width="1.55" height="1.57" fill="#e6eff4"/>
<rect x="214.85" y="258.36" width="1.55" height="1.57" fill="#8ac0db"/>
<rect x="216.34" y="258.36" width="1.55" height="1.57" fill="#b9d9e9"/>
<rect x="217.84" y="258.36" width="1.55" height="1.57" fill="#d7e8f1"/>
<rect x="219.34" y="258.36" width="1.55" height="1.57" fill="#95c7df"/>
<rect x="220.84" y="258.36" width="1.55" height="1.57" fill="#b7d8e9"/>
<rect x="222.34" y="258.36" width="1.55" height="1.57" fill="#a7d0e4"/>
<rect x="223.83" y="258.36" width="1.55" height="1.57" fill="#fae7db"/>
<rect x="225.33" y="258.36" width="1.55" height="1.57" fill="#fbe4d6"/>
<rect x="226.83" y="258.36" width="1.55" height="1.57" fill="#f6af8e"/>
<rect x="228.33" y="258.36" width="1.55" height="1.57" fill="#fbe4d6"/>
<rect x="229.83" y="258.36" width="1.55" height="1.57" fill="#f8bfa4"/>
<rect x="231.32" y="258.36" width="1.55" height="1.57" fill="#f3f5f6"/>
<rect x="232.82" y="258.36" width="1.55" height="1.57" fill="#fce0cf"/>
<rect x="234.32" y="258.36" width="1.55" height="1.57" fill="#fce1d1"/>
<rect x="235.82" y="258.36" width="1.55" height="1.57" fill="#fcddcb"/>
<rect x="237.32" y="258.36" width="1.55" height="1.57" fill="#f4f5f6"/>
<rect x="238.82" y="258.36" width="1.55" height="1.57" fill="#facab1"/>
<rect x="240.31" y="258.36" width="1.55" height="1.57" fill="#f7f5f3"/>
<rect x="241.81" y="258.36" width="1.55" height="1.57" fill="#fbe3d5"/>
<rect x="243.31" y="258.36" width="1.55" height="1.57" fill="#f8f1ed"/>
<rect x="244.81" y="258.36" width="1.55" height="1.57" fill="#fdd8c4"/>
<rect x="246.31" y="258.36" width="1.55" height="1.57" fill="#f8f4f1"/>
<rect x="247.8" y="258.36" width="1.55" height="1.57" fill="#f7b698"/>
<rect x="249.3" y="258.36" width="1.55" height="1.57" fill="#f9eee8"/>
<rect x="172.9" y="259.88" width="1.55" height="1.57" fill="#fae9df"/>
<rect x="174.4" y="259.88" width="1.55" height="1.57" fill="#c2deec"/>
<rect x="175.9" y="259.88" width="1.55" height="1.57" fill="#f9ebe3"/>
<rect x="177.39" y="259.88" width="1.55" height="1.57" fill="#f9ede7"/>
<rect x="178.89" y="259.88" width="1.55" height="1.57" fill="#f8f3f0"/>
<rect x="180.39" y="259.88" width="1.55" height="1.57" fill="#f7f6f5"/>
<rect x="181.89" y="259.88" width="1.55" height="1.57" fill="#d7e8f1"/>
<rect x="183.39" y="259.88" width="1.55" height="1.57" fill="#f8f5f3"/>
<rect x="184.88" y="259.88" width="1.55" height="1.57" fill="#bddbea"/>
<rect x="186.38" y="259.88" width="1.55" height="1.57" fill="#deebf2"/>
<rect x="187.88" y="259.88" width="1.55" height="1.57" fill="#add3e6"/>
<rect x="189.38" y="259.88" width="1.55" height="1.57" fill="#eef3f5"/>
<rect x="190.88" y="259.88" width="1.55" height="1.57" fill="#9fcbe2"/>
<rect x="192.38" y="259.88" width="1.55" height="1.57" fill="#e6eff4"/>
<rect x="193.87" y="259.88" width="1.55" height="1.57" fill="#f5f6f7"/>
<rect x="195.37" y="259.88" width="1.55" height="1.57" fill="#e0ecf3"/>
<rect x="196.87" y="259.88" width="1.55" height="1.57" fill="#e1edf3"/>
<rect x="198.37" y="259.88" width="1.55" height="1.57" fill="#cde3ef"/>
<rect x="199.87" y="259.88" width="1.55" height="1.57" fill="#cde3ef"/>
<rect x="201.36" y="259.88" width="1.55" height="1.57" fill="#cee4ef"/>
<rect x="202.86" y="259.88" width="1.55" height="1.57" fill="#91c4de"/>
<rect x="204.36" y="259.88" width="1.55" height="1.57" fill="#d1e5f0"/>
<rect x="205.86" y="259.88" width="1.55" height="1.57" fill="#e8f0f4"/>
<rect x="207.36" y="259.88" width="1.55" height="1.57" fill="#cae2ee"/>
<rect x="208.85" y="259.88" width="1.55" height="1.57" fill="#cbe2ee"/>
<rect x="210.35" y="259.88" width="1.55" height="1.57" fill="#99c8e0"/>
<rect x="211.85" y="259.88" width="1.55" height="1.57" fill="#92c5de"/>
<rect x="213.35" y="259.88" width="1.55" height="1.57" fill="#75b3d4"/>
<rect x="214.85" y="259.88" width="1.55" height="1.57" fill="#d8e8f1"/>
<rect x="216.34" y="259.88" width="1.55" height="1.57" fill="#e0ecf3"/>
<rect x="217.84" y="259.88" width="1.55" height="1.57" fill="#6aacd0"/>
<rect x="219.34" y="259.88" width="1.55" height="1.57" fill="#c6dfed"/>
<rect x="220.84" y="259.88" width="1.55" height="1.57" fill="#f0f3f6"/>
<rect x="222.34" y="259.88" width="1.55" height="1.57" fill="#e7eff4"/>
<rect x="223.83" y="259.88" width="1.55" height="1.57" fill="#f8bfa3"/>
<rect x="225.33" y="259.88" width="1.55" height="1.57" fill="#f9eee8"/>
<rect x="226.83" y="259.88" width="1.55" height="1.57" fill="#fddcc8"/>
<rect x="228.33" y="259.88" width="1.55" height="1.57" fill="#f5a886"/>
<rect x="229.83" y="259.88" width="1.55" height="1.57" fill="#f7b89a"/>
<rect x="231.32" y="259.88" width="1.55" height="1.57" fill="#f7f6f6"/>
<rect x="232.82" y="259.88" width="1.55" height="1.57" fill="#f8bc9f"/>
<rect x="234.32" y="259.88" width="1.55" height="1.57" fill="#f5ab89"/>
<rect x="235.82" y="259.88" width="1.55" height="1.57" fill="#f7b596"/>
<rect x="237.32" y="259.88" width="1.55" height="1.57" fill="#fddbc7"/>
<rect x="238.82" y="259.88" width="1.55" height="1.57" fill="#f9ede7"/>
<rect x="240.31" y="259.88" width="1.55" height="1.57" fill="#fddac6"/>
<rect x="241.81" y="259.88" width="1.55" height="1.57" fill="#f5f6f7"/>
<rect x="243.31" y="259.88" width="1.55" height="1.57" fill="#f8f0ec"/>
<rect x="244.81" y="259.88" width="1.55" height="1.57" fill="#f9c5ab"/>
<rect x="246.31" y="259.88" width="1.55" height="1.57" fill="#f9f0eb"/>
<rect x="247.8" y="259.88" width="1.55" height="1.57" fill="#f8f3f1"/>
<rect x="249.3" y="259.88" width="1.55" height="1.57" fill="#facab2"/>
<rect x="171.4" y="246.2" width="1.5" height="8.7" fill="#00e5ee"/>
<rect x="171.4" y="254.9" width="1.5" height="6.5" fill="#f08080"/>
<path d="M173.65 245.9 V244.32 H175.15 V245.9 M176.65 245.9 V243.37 H178.14 V245.9 M179.64 245.9 V243.44 H181.14 V245.9 M182.64 245.9 V244.35 H184.14 V245.9 M185.63 245.9 V242.01 H187.13 V245.9 M188.63 245.9 V244.68 H190.13 V245.9 M191.63 245.9 V243.59 H193.12 V245.9 M194.62 245.9 V242.88 H196.12 V245.9 M197.62 245.9 V244.09 H199.12 V245.9 M200.61 245.9 V242.49 H202.11 V245.9 M203.61 245.9 V244.67 H205.11 V245.9 M206.61 245.9 V243.43 H208.1 V245.9 M209.6 245.9 V242.78 H211.1 V245.9 M212.6 245.9 V243.99 H214.1 V245.9 M215.6 245.9 V243.03 H217.09 V245.9 M218.59 245.9 V242.23 H220.09 V245.9 M221.59 245.9 V243.93 H223.09 V245.9 M224.58 245.9 V241.84 H226.08 V245.9 M227.58 245.9 V244.16 H229.08 V245.9 M230.58 245.9 V242.46 H232.07 V245.9 M233.57 245.9 V243.62 H235.07 V245.9 M236.57 245.9 V244.65 H238.07 V245.9 M239.56 245.9 V243.46 H241.06 V245.9 M242.56 245.9 V243.69 H244.06 V245.9 M245.56 245.9 V242.64 H247.05 V245.9 M248.55 245.9 V241.71 H250.05 V245.9 M174.4 243.5 V239.1 H177.39 V243.5 M180.39 243.5 V239.45 H183.39 V243.5 M186.38 243.5 V240.85 H189.38 V243.5 M192.38 243.5 V240.3 H195.37 V243.5 M198.37 243.5 V240.54 H201.36 V243.5 M204.36 243.5 V241.69 H207.36 V243.5 M210.35 243.5 V239.4 H213.35 V243.5 M216.34 243.5 V239.68 H219.34 V243.5 M222.34 243.5 V240.96 H225.33 V243.5 M228.33 243.5 V239.07 H231.32 V243.5 M234.32 243.5 V239.01 H237.32 V243.5 M240.31 243.5 V240.06 H243.31 V243.5 M246.31 243.5 V239.32 H249.3 V243.5 M176 239.5 H204 M206 239.5 H248 M190 237.5 V239.5 M226 236.6 V239.5 M190 237.5 H226" fill="none" stroke="#555" stroke-width="0.5"/>
<path d="M171 248 H166 V259 H171 M166 253 H162.5 V256 M166 251 H164" fill="none" stroke="#888" stroke-width="0.5"/>
<path d="M174 262.9 H250" stroke="#aaa" stroke-width="1.3" stroke-dasharray="1.2 0.6" fill="none"/>
<path d="M219 266 V269.5 H246.8 V266" stroke="#999" stroke-width="0.5" fill="none"/>
<path d="M254.4 234 H293.4 M254.4 268.2 H293.4" stroke="#eee" stroke-width="0.5" fill="none"/>
<path d="M255.5 246 C257.5 240 259.5 235 262.9 234.9 C268 234.9 272 239 277 242 C282 245 287 248 292 249.5" stroke="#7ddc78" stroke-width="1.0" fill="none"/>
<path d="M256.2 250.6 V255.7 M256.96 250.6 V255.7 M257.72 250.6 V255.7 M258.48 250.6 V255.7 M259.24 250.6 V255.7 M260 250.6 V255.7 M260.76 250.6 V255.7 M261.52 250.6 V255.7 M263.04 250.6 V255.7 M263.8 250.6 V255.7 M264.56 250.6 V255.7 M265.32 250.6 V255.7 M267.6 250.6 V255.7 M268.36 250.6 V255.7 M269.12 250.6 V255.7 M270.64 250.6 V255.7 M271.4 250.6 V255.7 M272.92 250.6 V255.7 M275.2 250.6 V255.7 M276.72 250.6 V255.7 M278.24 250.6 V255.7 M279 250.6 V255.7 M279.76 250.6 V255.7 M281.28 250.6 V255.7 M283.56 250.6 V255.7 M284.32 250.6 V255.7 M288.12 250.6 V255.7 M290.4 250.6 V255.7 " stroke="#333" stroke-width="0.5" fill="none"/>
<path d="M256 251 H292.5 V255.6 H256Z" fill="#000" fill-opacity="0.12"/>
<defs><linearGradient id="rb" x1="0" x2="1" y1="0" y2="0"><stop offset="0" stop-color="#e33"/><stop offset="0.35" stop-color="#f6b"/><stop offset="0.55" stop-color="#fff"/><stop offset="0.75" stop-color="#99f"/><stop offset="1" stop-color="#22c"/></linearGradient></defs>
<rect x="256" y="256.2" width="36.5" height="1.2" fill="url(#rb)"/>
<path d="M256 261.2 L270 262 L280 262.5 L291.5 263.5" stroke="#aaa" stroke-width="0.6" fill="none"/>
<path d="M274.5 267.7 H287.8" stroke="#99f" stroke-width="0.4" stroke-dasharray="0.8 0.6" fill="none"/>
<text x="276.8" y="281.5" font-size="9" text-anchor="middle" fill="#231f20" stroke="#231f20" stroke-width="0.07" textLength="33.2" lengthAdjust="spacingAndGlyphs">Analysis</text>
<text x="7.5" y="322.6" font-size="12" text-anchor="start" fill="#000" font-weight="bold">C</text>
<rect x="66.6" y="358.95" width="7.77" height="8.21" fill="#e4eef4"/>
<rect x="66.6" y="367.1" width="7.77" height="8.21" fill="#e4eef4"/>
<rect x="66.6" y="375.25" width="7.77" height="8.21" fill="#e4eef4"/>
<rect x="66.6" y="383.4" width="7.77" height="8.21" fill="#e4eef4"/>
<rect x="66.6" y="391.55" width="7.77" height="8.21" fill="#e4eef4"/>
<rect x="66.6" y="399.7" width="7.77" height="8.21" fill="#f8f4f1"/>
<rect x="66.6" y="407.85" width="7.77" height="8.21" fill="#f8f0ec"/>
<rect x="66.6" y="416" width="7.77" height="8.21" fill="#fce2d2"/>
<rect x="66.6" y="424.15" width="7.77" height="8.21" fill="#fcdecc"/>
<rect x="66.6" y="432.3" width="7.77" height="8.21" fill="#eef3f5"/>
<rect x="66.6" y="440.45" width="7.77" height="8.21" fill="#fbe6d9"/>
<rect x="74.31" y="358.95" width="7.77" height="8.21" fill="#e4eef4"/>
<rect x="74.31" y="367.1" width="7.77" height="8.21" fill="#e4eef4"/>
<rect x="74.31" y="375.25" width="7.77" height="8.21" fill="#e4eef4"/>
<rect x="74.31" y="383.4" width="7.77" height="8.21" fill="#e4eef4"/>
<rect x="74.31" y="391.55" width="7.77" height="8.21" fill="#e4eef4"/>
<rect x="74.31" y="399.7" width="7.77" height="8.21" fill="#fce2d2"/>
<rect x="74.31" y="407.85" width="7.77" height="8.21" fill="#e9f0f4"/>
<rect x="74.31" y="416" width="7.77" height="8.21" fill="#fae9df"/>
<rect x="74.31" y="424.15" width="7.77" height="8.21" fill="#fcdecc"/>
<rect x="74.31" y="432.3" width="7.77" height="8.21" fill="#f8f4f1"/>
<rect x="74.31" y="440.45" width="7.77" height="8.21" fill="#f8f4f1"/>
<rect x="82.02" y="358.95" width="7.77" height="8.21" fill="#dfecf3"/>
<rect x="82.02" y="367.1" width="7.77" height="8.21" fill="#dfecf3"/>
<rect x="82.02" y="375.25" width="7.77" height="8.21" fill="#dfecf3"/>
<rect x="82.02" y="383.4" width="7.77" height="8.21" fill="#dfecf3"/>
<rect x="82.02" y="391.55" width="7.77" height="8.21" fill="#dfecf3"/>
<rect x="82.02" y="399.7" width="7.77" height="8.21" fill="#eef3f5"/>
<rect x="82.02" y="407.85" width="7.77" height="8.21" fill="#f7f7f7"/>
<rect x="82.02" y="416" width="7.77" height="8.21" fill="#fce2d2"/>
<rect x="82.02" y="424.15" width="7.77" height="8.21" fill="#fce2d2"/>
<rect x="82.02" y="432.3" width="7.77" height="8.21" fill="#f3f5f6"/>
<rect x="82.02" y="440.45" width="7.77" height="8.21" fill="#fbd1ba"/>
<rect x="89.73" y="358.95" width="7.77" height="8.21" fill="#dfecf3"/>
<rect x="89.73" y="367.1" width="7.77" height="8.21" fill="#dfecf3"/>
<rect x="89.73" y="375.25" width="7.77" height="8.21" fill="#dfecf3"/>
<rect x="89.73" y="383.4" width="7.77" height="8.21" fill="#dfecf3"/>
<rect x="89.73" y="391.55" width="7.77" height="8.21" fill="#dfecf3"/>
<rect x="89.73" y="399.7" width="7.77" height="8.21" fill="#eef3f5"/>
<rect x="89.73" y="407.85" width="7.77" height="8.21" fill="#f7f7f7"/>
<rect x="89.73" y="416" width="7.77" height="8.21" fill="#fbd1ba"/>
<rect x="89.73" y="424.15" width="7.77" height="8.21" fill="#fce2d2"/>
<rect x="89.73" y="432.3" width="7.77" height="8.21" fill="#f9ede6"/>
<rect x="89.73" y="440.45" width="7.77" height="8.21" fill="#f8f0ec"/>
<rect x="97.44" y="358.95" width="7.77" height="8.21" fill="#dfecf3"/>
<rect x="97.44" y="367.1" width="7.77" height="8.21" fill="#dfecf3"/>
<rect x="97.44" y="375.25" width="7.77" height="8.21" fill="#dfecf3"/>
<rect x="97.44" y="383.4" width="7.77" height="8.21" fill="#dfecf3"/>
<rect x="97.44" y="391.55" width="7.77" height="8.21" fill="#dfecf3"/>
<rect x="97.44" y="399.7" width="7.77" height="8.21" fill="#fce2d2"/>
<rect x="97.44" y="407.85" width="7.77" height="8.21" fill="#dae9f2"/>
<rect x="97.44" y="416" width="7.77" height="8.21" fill="#fce2d2"/>
<rect x="97.44" y="424.15" width="7.77" height="8.21" fill="#fae9df"/>
<rect x="97.44" y="432.3" width="7.77" height="8.21" fill="#f8f0ec"/>
<rect x="97.44" y="440.45" width="7.77" height="8.21" fill="#fcdecc"/>
<rect x="105.15" y="358.95" width="7.77" height="8.21" fill="#dae9f2"/>
<rect x="105.15" y="367.1" width="7.77" height="8.21" fill="#b2d5e7"/>
<rect x="105.15" y="375.25" width="7.77" height="8.21" fill="#eef3f5"/>
<rect x="105.15" y="383.4" width="7.77" height="8.21" fill="#eef3f5"/>
<rect x="105.15" y="391.55" width="7.77" height="8.21" fill="#94c6df"/>
<rect x="105.15" y="399.7" width="7.77" height="8.21" fill="#fce2d2"/>
<rect x="105.15" y="407.85" width="7.77" height="8.21" fill="#fcdecc"/>
<rect x="105.15" y="416" width="7.77" height="8.21" fill="#fce2d2"/>
<rect x="105.15" y="424.15" width="7.77" height="8.21" fill="#fae9df"/>
<rect x="105.15" y="432.3" width="7.77" height="8.21" fill="#f8f0ec"/>
<rect x="105.15" y="440.45" width="7.77" height="8.21" fill="#fac9b0"/>
<rect x="112.86" y="358.95" width="7.77" height="8.21" fill="#dfecf3"/>
<rect x="112.86" y="367.1" width="7.77" height="8.21" fill="#dae9f2"/>
<rect x="112.86" y="375.25" width="7.77" height="8.21" fill="#e4eef4"/>
<rect x="112.86" y="383.4" width="7.77" height="8.21" fill="#e4eef4"/>
<rect x="112.86" y="391.55" width="7.77" height="8.21" fill="#dae9f2"/>
<rect x="112.86" y="399.7" width="7.77" height="8.21" fill="#fce2d2"/>
<rect x="112.86" y="407.85" width="7.77" height="8.21" fill="#fbd1ba"/>
<rect x="112.86" y="416" width="7.77" height="8.21" fill="#f7f7f7"/>
<rect x="112.86" y="424.15" width="7.77" height="8.21" fill="#eef3f5"/>
<rect x="112.86" y="432.3" width="7.77" height="8.21" fill="#fae9df"/>
<rect x="112.86" y="440.45" width="7.77" height="8.21" fill="#fdd9c4"/>
<rect x="120.57" y="358.95" width="7.77" height="8.21" fill="#dfecf3"/>
<rect x="120.57" y="367.1" width="7.77" height="8.21" fill="#dfecf3"/>
<rect x="120.57" y="375.25" width="7.77" height="8.21" fill="#dfecf3"/>
<rect x="120.57" y="383.4" width="7.77" height="8.21" fill="#dfecf3"/>
<rect x="120.57" y="391.55" width="7.77" height="8.21" fill="#dae9f2"/>
<rect x="120.57" y="399.7" width="7.77" height="8.21" fill="#fce2d2"/>
<rect x="120.57" y="407.85" width="7.77" height="8.21" fill="#f7f7f7"/>
<rect x="120.57" y="416" width="7.77" height="8.21" fill="#f4a784"/>
<rect x="120.57" y="424.15" width="7.77" height="8.21" fill="#e9f0f4"/>
<rect x="120.57" y="432.3" width="7.77" height="8.21" fill="#fae9df"/>
<rect x="120.57" y="440.45" width="7.77" height="8.21" fill="#fce2d2"/>
<rect x="128.28" y="358.95" width="7.77" height="8.21" fill="#dae9f2"/>
<rect x="128.28" y="367.1" width="7.77" height="8.21" fill="#e4eef4"/>
<rect x="128.28" y="375.25" width="7.77" height="8.21" fill="#bcdaea"/>
<rect x="128.28" y="383.4" width="7.77" height="8.21" fill="#e4eef4"/>
<rect x="128.28" y="391.55" width="7.77" height="8.21" fill="#dae9f2"/>
<rect x="128.28" y="399.7" width="7.77" height="8.21" fill="#f7f7f7"/>
<rect x="128.28" y="407.85" width="7.77" height="8.21" fill="#f7b89a"/>
<rect x="128.28" y="416" width="7.77" height="8.21" fill="#f8f4f1"/>
<rect x="128.28" y="424.15" width="7.77" height="8.21" fill="#fce2d2"/>
<rect x="128.28" y="432.3" width="7.77" height="8.21" fill="#f7b89a"/>
<rect x="128.28" y="440.45" width="7.77" height="8.21" fill="#fbe6d9"/>
<rect x="135.99" y="358.95" width="7.77" height="8.21" fill="#dae9f2"/>
<rect x="135.99" y="367.1" width="7.77" height="8.21" fill="#dfecf3"/>
<rect x="135.99" y="375.25" width="7.77" height="8.21" fill="#dfecf3"/>
<rect x="135.99" y="383.4" width="7.77" height="8.21" fill="#e4eef4"/>
<rect x="135.99" y="391.55" width="7.77" height="8.21" fill="#cee4ef"/>
<rect x="135.99" y="399.7" width="7.77" height="8.21" fill="#f3f5f6"/>
<rect x="135.99" y="407.85" width="7.77" height="8.21" fill="#fdd9c4"/>
<rect x="135.99" y="416" width="7.77" height="8.21" fill="#fdd9c4"/>
<rect x="135.99" y="424.15" width="7.77" height="8.21" fill="#fce2d2"/>
<rect x="135.99" y="432.3" width="7.77" height="8.21" fill="#fcdecc"/>
<rect x="135.99" y="440.45" width="7.77" height="8.21" fill="#f7f7f7"/>
<rect x="143.7" y="358.95" width="7.77" height="8.21" fill="#dfecf3"/>
<rect x="143.7" y="367.1" width="7.77" height="8.21" fill="#e4eef4"/>
<rect x="143.7" y="375.25" width="7.77" height="8.21" fill="#e4eef4"/>
<rect x="143.7" y="383.4" width="7.77" height="8.21" fill="#e9f0f4"/>
<rect x="143.7" y="391.55" width="7.77" height="8.21" fill="#f8f0ec"/>
<rect x="143.7" y="399.7" width="7.77" height="8.21" fill="#f8f0ec"/>
<rect x="143.7" y="407.85" width="7.77" height="8.21" fill="#fcdecc"/>
<rect x="143.7" y="416" width="7.77" height="8.21" fill="#f8f0ec"/>
<rect x="143.7" y="424.15" width="7.77" height="8.21" fill="#fae9df"/>
<rect x="143.7" y="432.3" width="7.77" height="8.21" fill="#f3f5f6"/>
<rect x="143.7" y="440.45" width="7.77" height="8.21" fill="#fae9df"/>
<rect x="151.41" y="358.95" width="7.77" height="8.21" fill="#dfecf3"/>
<rect x="151.41" y="367.1" width="7.77" height="8.21" fill="#b2d5e7"/>
<rect x="151.41" y="375.25" width="7.77" height="8.21" fill="#dfecf3"/>
<rect x="151.41" y="383.4" width="7.77" height="8.21" fill="#c5dfed"/>
<rect x="151.41" y="391.55" width="7.77" height="8.21" fill="#fce2d2"/>
<rect x="151.41" y="399.7" width="7.77" height="8.21" fill="#e9f0f4"/>
<rect x="151.41" y="407.85" width="7.77" height="8.21" fill="#fce2d2"/>
<rect x="151.41" y="416" width="7.77" height="8.21" fill="#f8f0ec"/>
<rect x="151.41" y="424.15" width="7.77" height="8.21" fill="#fae9df"/>
<rect x="151.41" y="432.3" width="7.77" height="8.21" fill="#fdd9c4"/>
<rect x="151.41" y="440.45" width="7.77" height="8.21" fill="#fcdecc"/>
<rect x="159.12" y="358.95" width="7.77" height="8.21" fill="#e4eef4"/>
<rect x="159.12" y="367.1" width="7.77" height="8.21" fill="#e9f0f4"/>
<rect x="159.12" y="375.25" width="7.77" height="8.21" fill="#e4eef4"/>
<rect x="159.12" y="383.4" width="7.77" height="8.21" fill="#e4eef4"/>
<rect x="159.12" y="391.55" width="7.77" height="8.21" fill="#e9f0f4"/>
<rect x="159.12" y="399.7" width="7.77" height="8.21" fill="#eef3f5"/>
<rect x="159.12" y="407.85" width="7.77" height="8.21" fill="#f3f5f6"/>
<rect x="159.12" y="416" width="7.77" height="8.21" fill="#f8f0ec"/>
<rect x="159.12" y="424.15" width="7.77" height="8.21" fill="#eef3f5"/>
<rect x="159.12" y="432.3" width="7.77" height="8.21" fill="#eb9072"/>
<rect x="159.12" y="440.45" width="7.77" height="8.21" fill="#f8f4f1"/>
<rect x="166.83" y="358.95" width="7.77" height="8.21" fill="#e4eef4"/>
<rect x="166.83" y="367.1" width="7.77" height="8.21" fill="#e9f0f4"/>
<rect x="166.83" y="375.25" width="7.77" height="8.21" fill="#7ab6d6"/>
<rect x="166.83" y="383.4" width="7.77" height="8.21" fill="#cee4ef"/>
<rect x="166.83" y="391.55" width="7.77" height="8.21" fill="#eef3f5"/>
<rect x="166.83" y="399.7" width="7.77" height="8.21" fill="#fce2d2"/>
<rect x="166.83" y="407.85" width="7.77" height="8.21" fill="#f3f5f6"/>
<rect x="166.83" y="416" width="7.77" height="8.21" fill="#fbd1ba"/>
<rect x="166.83" y="424.15" width="7.77" height="8.21" fill="#f9ede6"/>
<rect x="166.83" y="432.3" width="7.77" height="8.21" fill="#fdd9c4"/>
<rect x="166.83" y="440.45" width="7.77" height="8.21" fill="#fbe6d9"/>
<rect x="174.54" y="358.95" width="7.77" height="8.21" fill="#e4eef4"/>
<rect x="174.54" y="367.1" width="7.77" height="8.21" fill="#e4eef4"/>
<rect x="174.54" y="375.25" width="7.77" height="8.21" fill="#e4eef4"/>
<rect x="174.54" y="383.4" width="7.77" height="8.21" fill="#e4eef4"/>
<rect x="174.54" y="391.55" width="7.77" height="8.21" fill="#e9f0f4"/>
<rect x="174.54" y="399.7" width="7.77" height="8.21" fill="#e4eef4"/>
<rect x="174.54" y="407.85" width="7.77" height="8.21" fill="#e4eef4"/>
<rect x="174.54" y="416" width="7.77" height="8.21" fill="#fce2d2"/>
<rect x="174.54" y="424.15" width="7.77" height="8.21" fill="#fcdecc"/>
<rect x="174.54" y="432.3" width="7.77" height="8.21" fill="#fce2d2"/>
<rect x="174.54" y="440.45" width="7.77" height="8.21" fill="#f9c1a5"/>
<rect x="182.25" y="358.95" width="7.77" height="8.21" fill="#e4eef4"/>
<rect x="182.25" y="367.1" width="7.77" height="8.21" fill="#dfecf3"/>
<rect x="182.25" y="375.25" width="7.77" height="8.21" fill="#e4eef4"/>
<rect x="182.25" y="383.4" width="7.77" height="8.21" fill="#dfecf3"/>
<rect x="182.25" y="391.55" width="7.77" height="8.21" fill="#f8f4f1"/>
<rect x="182.25" y="399.7" width="7.77" height="8.21" fill="#fcdecc"/>
<rect x="182.25" y="407.85" width="7.77" height="8.21" fill="#dae9f2"/>
<rect x="182.25" y="416" width="7.77" height="8.21" fill="#f3f5f6"/>
<rect x="182.25" y="424.15" width="7.77" height="8.21" fill="#fdd9c4"/>
<rect x="182.25" y="432.3" width="7.77" height="8.21" fill="#f8f0ec"/>
<rect x="182.25" y="440.45" width="7.77" height="8.21" fill="#f6af8f"/>
<rect x="189.96" y="358.95" width="7.77" height="8.21" fill="#bcdaea"/>
<rect x="189.96" y="367.1" width="7.77" height="8.21" fill="#dae9f2"/>
<rect x="189.96" y="375.25" width="7.77" height="8.21" fill="#d5e7f1"/>
<rect x="189.96" y="383.4" width="7.77" height="8.21" fill="#f3f5f6"/>
<rect x="189.96" y="391.55" width="7.77" height="8.21" fill="#e9f0f4"/>
<rect x="189.96" y="399.7" width="7.77" height="8.21" fill="#fcdecc"/>
<rect x="189.96" y="407.85" width="7.77" height="8.21" fill="#f09c7b"/>
<rect x="189.96" y="416" width="7.77" height="8.21" fill="#fce2d2"/>
<rect x="189.96" y="424.15" width="7.77" height="8.21" fill="#f3f5f6"/>
<rect x="189.96" y="432.3" width="7.77" height="8.21" fill="#f3f5f6"/>
<rect x="189.96" y="440.45" width="7.77" height="8.21" fill="#f9ede6"/>
<rect x="197.67" y="358.95" width="7.77" height="8.21" fill="#4292c2"/>
<rect x="197.67" y="367.1" width="7.77" height="8.21" fill="#e9f0f4"/>
<rect x="197.67" y="375.25" width="7.77" height="8.21" fill="#e4eef4"/>
<rect x="197.67" y="383.4" width="7.77" height="8.21" fill="#e9f0f4"/>
<rect x="197.67" y="391.55" width="7.77" height="8.21" fill="#eef3f5"/>
<rect x="197.67" y="399.7" width="7.77" height="8.21" fill="#f3f5f6"/>
<rect x="197.67" y="407.85" width="7.77" height="8.21" fill="#f09c7b"/>
<rect x="197.67" y="416" width="7.77" height="8.21" fill="#fbd1ba"/>
<rect x="197.67" y="424.15" width="7.77" height="8.21" fill="#f3f5f6"/>
<rect x="197.67" y="432.3" width="7.77" height="8.21" fill="#fdd9c4"/>
<rect x="197.67" y="440.45" width="7.77" height="8.21" fill="#f8f4f1"/>
<rect x="205.38" y="358.95" width="7.77" height="8.21" fill="#87beda"/>
<rect x="205.38" y="367.1" width="7.77" height="8.21" fill="#f7f7f7"/>
<rect x="205.38" y="375.25" width="7.77" height="8.21" fill="#87beda"/>
<rect x="205.38" y="383.4" width="7.77" height="8.21" fill="#dfecf3"/>
<rect x="205.38" y="391.55" width="7.77" height="8.21" fill="#a8d0e4"/>
<rect x="205.38" y="399.7" width="7.77" height="8.21" fill="#fdd9c4"/>
<rect x="205.38" y="407.85" width="7.77" height="8.21" fill="#fbd1ba"/>
<rect x="205.38" y="416" width="7.77" height="8.21" fill="#fce2d2"/>
<rect x="205.38" y="424.15" width="7.77" height="8.21" fill="#f8f0ec"/>
<rect x="205.38" y="432.3" width="7.77" height="8.21" fill="#fce2d2"/>
<rect x="205.38" y="440.45" width="7.77" height="8.21" fill="#e0785f"/>
<rect x="213.09" y="358.95" width="7.77" height="8.21" fill="#b2d5e7"/>
<rect x="213.09" y="367.1" width="7.77" height="8.21" fill="#bcdaea"/>
<rect x="213.09" y="375.25" width="7.77" height="8.21" fill="#4796c4"/>
<rect x="213.09" y="383.4" width="7.77" height="8.21" fill="#dfecf3"/>
<rect x="213.09" y="391.55" width="7.77" height="8.21" fill="#f8f0ec"/>
<rect x="213.09" y="399.7" width="7.77" height="8.21" fill="#d5e7f1"/>
<rect x="213.09" y="407.85" width="7.77" height="8.21" fill="#fdd9c4"/>
<rect x="213.09" y="416" width="7.77" height="8.21" fill="#eb9072"/>
<rect x="213.09" y="424.15" width="7.77" height="8.21" fill="#f8f0ec"/>
<rect x="213.09" y="432.3" width="7.77" height="8.21" fill="#fac9b0"/>
<rect x="213.09" y="440.45" width="7.77" height="8.21" fill="#fac9b0"/>
<rect x="220.8" y="358.95" width="7.77" height="8.21" fill="#dae9f2"/>
<rect x="220.8" y="367.1" width="7.77" height="8.21" fill="#e9f0f4"/>
<rect x="220.8" y="375.25" width="7.77" height="8.21" fill="#8fc3dd"/>
<rect x="220.8" y="383.4" width="7.77" height="8.21" fill="#e9f0f4"/>
<rect x="220.8" y="391.55" width="7.77" height="8.21" fill="#fce2d2"/>
<rect x="220.8" y="399.7" width="7.77" height="8.21" fill="#eef3f5"/>
<rect x="220.8" y="407.85" width="7.77" height="8.21" fill="#fce2d2"/>
<rect x="220.8" y="416" width="7.77" height="8.21" fill="#f9ede6"/>
<rect x="220.8" y="424.15" width="7.77" height="8.21" fill="#fae9df"/>
<rect x="220.8" y="432.3" width="7.77" height="8.21" fill="#f9ede6"/>
<rect x="220.8" y="440.45" width="7.77" height="8.21" fill="#f9ede6"/>
<rect x="228.51" y="358.95" width="7.77" height="8.21" fill="#c5dfed"/>
<rect x="228.51" y="367.1" width="7.77" height="8.21" fill="#e9f0f4"/>
<rect x="228.51" y="375.25" width="7.77" height="8.21" fill="#bcdaea"/>
<rect x="228.51" y="383.4" width="7.77" height="8.21" fill="#e4eef4"/>
<rect x="228.51" y="391.55" width="7.77" height="8.21" fill="#fce2d2"/>
<rect x="228.51" y="399.7" width="7.77" height="8.21" fill="#fbe6d9"/>
<rect x="228.51" y="407.85" width="7.77" height="8.21" fill="#f4a784"/>
<rect x="228.51" y="416" width="7.77" height="8.21" fill="#f7f7f7"/>
<rect x="228.51" y="424.15" width="7.77" height="8.21" fill="#fce2d2"/>
<rect x="228.51" y="432.3" width="7.77" height="8.21" fill="#eef3f5"/>
<rect x="228.51" y="440.45" width="7.77" height="8.21" fill="#fce2d2"/>
<rect x="236.22" y="358.95" width="7.77" height="8.21" fill="#d5e7f1"/>
<rect x="236.22" y="367.1" width="7.77" height="8.21" fill="#e9f0f4"/>
<rect x="236.22" y="375.25" width="7.77" height="8.21" fill="#dfecf3"/>
<rect x="236.22" y="383.4" width="7.77" height="8.21" fill="#cee4ef"/>
<rect x="236.22" y="391.55" width="7.77" height="8.21" fill="#fce2d2"/>
<rect x="236.22" y="399.7" width="7.77" height="8.21" fill="#fce2d2"/>
<rect x="236.22" y="407.85" width="7.77" height="8.21" fill="#bc2c34"/>
<rect x="236.22" y="416" width="7.77" height="8.21" fill="#f3f5f6"/>
<rect x="236.22" y="424.15" width="7.77" height="8.21" fill="#eef3f5"/>
<rect x="236.22" y="432.3" width="7.77" height="8.21" fill="#eef3f5"/>
<rect x="236.22" y="440.45" width="7.77" height="8.21" fill="#f7f7f7"/>
<rect x="243.93" y="358.95" width="7.77" height="8.21" fill="#f3f5f6"/>
<rect x="243.93" y="367.1" width="7.77" height="8.21" fill="#8ac0db"/>
<rect x="243.93" y="375.25" width="7.77" height="8.21" fill="#e4eef4"/>
<rect x="243.93" y="383.4" width="7.77" height="8.21" fill="#cee4ef"/>
<rect x="243.93" y="391.55" width="7.77" height="8.21" fill="#f7f7f7"/>
<rect x="243.93" y="399.7" width="7.77" height="8.21" fill="#f7f7f7"/>
<rect x="243.93" y="407.85" width="7.77" height="8.21" fill="#fdd9c4"/>
<rect x="243.93" y="416" width="7.77" height="8.21" fill="#fcdecc"/>
<rect x="243.93" y="424.15" width="7.77" height="8.21" fill="#fac9b0"/>
<rect x="243.93" y="432.3" width="7.77" height="8.21" fill="#f7f7f7"/>
<rect x="243.93" y="440.45" width="7.77" height="8.21" fill="#f8f0ec"/>
<rect x="251.64" y="358.95" width="7.77" height="8.21" fill="#bcdaea"/>
<rect x="251.64" y="367.1" width="7.77" height="8.21" fill="#bcdaea"/>
<rect x="251.64" y="375.25" width="7.77" height="8.21" fill="#f3f5f6"/>
<rect x="251.64" y="383.4" width="7.77" height="8.21" fill="#d5e7f1"/>
<rect x="251.64" y="391.55" width="7.77" height="8.21" fill="#eef3f5"/>
<rect x="251.64" y="399.7" width="7.77" height="8.21" fill="#fdd9c4"/>
<rect x="251.64" y="407.85" width="7.77" height="8.21" fill="#fce2d2"/>
<rect x="251.64" y="416" width="7.77" height="8.21" fill="#fdd9c4"/>
<rect x="251.64" y="424.15" width="7.77" height="8.21" fill="#f9ede6"/>
<rect x="251.64" y="432.3" width="7.77" height="8.21" fill="#dae9f2"/>
<rect x="251.64" y="440.45" width="7.77" height="8.21" fill="#fac9b0"/>
<rect x="259.35" y="358.95" width="7.77" height="8.21" fill="#dfecf3"/>
<rect x="259.35" y="367.1" width="7.77" height="8.21" fill="#dae9f2"/>
<rect x="259.35" y="375.25" width="7.77" height="8.21" fill="#d5e7f1"/>
<rect x="259.35" y="383.4" width="7.77" height="8.21" fill="#e4eef4"/>
<rect x="259.35" y="391.55" width="7.77" height="8.21" fill="#f9ede6"/>
<rect x="259.35" y="399.7" width="7.77" height="8.21" fill="#f7b89a"/>
<rect x="259.35" y="407.85" width="7.77" height="8.21" fill="#dae9f2"/>
<rect x="259.35" y="416" width="7.77" height="8.21" fill="#eef3f5"/>
<rect x="259.35" y="424.15" width="7.77" height="8.21" fill="#e4eef4"/>
<rect x="259.35" y="432.3" width="7.77" height="8.21" fill="#eb9072"/>
<rect x="259.35" y="440.45" width="7.77" height="8.21" fill="#f7b89a"/>
<rect x="267.06" y="358.95" width="7.77" height="8.21" fill="#dfecf3"/>
<rect x="267.06" y="367.1" width="7.77" height="8.21" fill="#dae9f2"/>
<rect x="267.06" y="375.25" width="7.77" height="8.21" fill="#d5e7f1"/>
<rect x="267.06" y="383.4" width="7.77" height="8.21" fill="#dae9f2"/>
<rect x="267.06" y="391.55" width="7.77" height="8.21" fill="#fcdecc"/>
<rect x="267.06" y="399.7" width="7.77" height="8.21" fill="#eb9072"/>
<rect x="267.06" y="407.85" width="7.77" height="8.21" fill="#dae9f2"/>
<rect x="267.06" y="416" width="7.77" height="8.21" fill="#e9f0f4"/>
<rect x="267.06" y="424.15" width="7.77" height="8.21" fill="#e4eef4"/>
<rect x="267.06" y="432.3" width="7.77" height="8.21" fill="#f7f7f7"/>
<rect x="267.06" y="440.45" width="7.77" height="8.21" fill="#d55e4c"/>
<rect x="274.77" y="358.95" width="7.77" height="8.21" fill="#eef3f5"/>
<rect x="274.77" y="367.1" width="7.77" height="8.21" fill="#e9f0f4"/>
<rect x="274.77" y="375.25" width="7.77" height="8.21" fill="#e9f0f4"/>
<rect x="274.77" y="383.4" width="7.77" height="8.21" fill="#f8f4f1"/>
<rect x="274.77" y="391.55" width="7.77" height="8.21" fill="#2166ac"/>
<rect x="274.77" y="399.7" width="7.77" height="8.21" fill="#fcdecc"/>
<rect x="274.77" y="407.85" width="7.77" height="8.21" fill="#fcdecc"/>
<rect x="274.77" y="416" width="7.77" height="8.21" fill="#fbe6d9"/>
<rect x="274.77" y="424.15" width="7.77" height="8.21" fill="#fce2d2"/>
<rect x="274.77" y="432.3" width="7.77" height="8.21" fill="#f8f4f1"/>
<rect x="274.77" y="440.45" width="7.77" height="8.21" fill="#fcdecc"/>
<rect x="282.48" y="358.95" width="7.77" height="8.21" fill="#cee4ef"/>
<rect x="282.48" y="367.1" width="7.77" height="8.21" fill="#e9f0f4"/>
<rect x="282.48" y="375.25" width="7.77" height="8.21" fill="#cee4ef"/>
<rect x="282.48" y="383.4" width="7.77" height="8.21" fill="#f8f4f1"/>
<rect x="282.48" y="391.55" width="7.77" height="8.21" fill="#2166ac"/>
<rect x="282.48" y="399.7" width="7.77" height="8.21" fill="#dae9f2"/>
<rect x="282.48" y="407.85" width="7.77" height="8.21" fill="#f7b89a"/>
<rect x="282.48" y="416" width="7.77" height="8.21" fill="#fcdecc"/>
<rect x="282.48" y="424.15" width="7.77" height="8.21" fill="#fdd9c4"/>
<rect x="282.48" y="432.3" width="7.77" height="8.21" fill="#f7b89a"/>
<rect x="282.48" y="440.45" width="7.77" height="8.21" fill="#fbd1ba"/>
<rect x="290.19" y="358.95" width="7.77" height="8.21" fill="#94c6df"/>
<rect x="290.19" y="367.1" width="7.77" height="8.21" fill="#dae9f2"/>
<rect x="290.19" y="375.25" width="7.77" height="8.21" fill="#e9f0f4"/>
<rect x="290.19" y="383.4" width="7.77" height="8.21" fill="#94c6df"/>
<rect x="290.19" y="391.55" width="7.77" height="8.21" fill="#94c6df"/>
<rect x="290.19" y="399.7" width="7.77" height="8.21" fill="#f4a784"/>
<rect x="290.19" y="407.85" width="7.77" height="8.21" fill="#b2182b"/>
<rect x="290.19" y="416" width="7.77" height="8.21" fill="#bcdaea"/>
<rect x="290.19" y="424.15" width="7.77" height="8.21" fill="#f8f0ec"/>
<rect x="290.19" y="432.3" width="7.77" height="8.21" fill="#f8f0ec"/>
<rect x="290.19" y="440.45" width="7.77" height="8.21" fill="#eb9072"/>
<rect x="301.35" y="358.95" width="7.77" height="8.21" fill="#fbd1ba"/>
<rect x="301.35" y="367.1" width="7.77" height="8.21" fill="#fdd9c4"/>
<rect x="301.35" y="375.25" width="7.77" height="8.21" fill="#fbe6d9"/>
<rect x="301.35" y="383.4" width="7.77" height="8.21" fill="#fdd9c4"/>
<rect x="301.35" y="391.55" width="7.77" height="8.21" fill="#f8f0ec"/>
<rect x="301.35" y="399.7" width="7.77" height="8.21" fill="#f8f4f1"/>
<rect x="301.35" y="407.85" width="7.77" height="8.21" fill="#dae9f2"/>
<rect x="301.35" y="416" width="7.77" height="8.21" fill="#dae9f2"/>
<rect x="301.35" y="424.15" width="7.77" height="8.21" fill="#dae9f2"/>
<rect x="301.35" y="432.3" width="7.77" height="8.21" fill="#e9f0f4"/>
<rect x="301.35" y="440.45" width="7.77" height="8.21" fill="#d5e7f1"/>
<rect x="309.06" y="358.95" width="7.77" height="8.21" fill="#f9c1a5"/>
<rect x="309.06" y="367.1" width="7.77" height="8.21" fill="#f9c1a5"/>
<rect x="309.06" y="375.25" width="7.77" height="8.21" fill="#fce2d2"/>
<rect x="309.06" y="383.4" width="7.77" height="8.21" fill="#fac9b0"/>
<rect x="309.06" y="391.55" width="7.77" height="8.21" fill="#eef3f5"/>
<rect x="309.06" y="399.7" width="7.77" height="8.21" fill="#f8f0ec"/>
<rect x="309.06" y="407.85" width="7.77" height="8.21" fill="#c5dfed"/>
<rect x="309.06" y="416" width="7.77" height="8.21" fill="#b2d5e7"/>
<rect x="309.06" y="424.15" width="7.77" height="8.21" fill="#dae9f2"/>
<rect x="309.06" y="432.3" width="7.77" height="8.21" fill="#e9f0f4"/>
<rect x="309.06" y="440.45" width="7.77" height="8.21" fill="#dae9f2"/>
<rect x="316.77" y="358.95" width="7.77" height="8.21" fill="#f9c1a5"/>
<rect x="316.77" y="367.1" width="7.77" height="8.21" fill="#fdd9c4"/>
<rect x="316.77" y="375.25" width="7.77" height="8.21" fill="#fce2d2"/>
<rect x="316.77" y="383.4" width="7.77" height="8.21" fill="#fbe6d9"/>
<rect x="316.77" y="391.55" width="7.77" height="8.21" fill="#e4eef4"/>
<rect x="316.77" y="399.7" width="7.77" height="8.21" fill="#f8f4f1"/>
<rect x="316.77" y="407.85" width="7.77" height="8.21" fill="#94c6df"/>
<rect x="316.77" y="416" width="7.77" height="8.21" fill="#f3f5f6"/>
<rect x="316.77" y="424.15" width="7.77" height="8.21" fill="#dfecf3"/>
<rect x="316.77" y="432.3" width="7.77" height="8.21" fill="#f3f5f6"/>
<rect x="316.77" y="440.45" width="7.77" height="8.21" fill="#dae9f2"/>
<rect x="324.48" y="358.95" width="7.77" height="8.21" fill="#fdd9c4"/>
<rect x="324.48" y="367.1" width="7.77" height="8.21" fill="#fdd9c4"/>
<rect x="324.48" y="375.25" width="7.77" height="8.21" fill="#f3f5f6"/>
<rect x="324.48" y="383.4" width="7.77" height="8.21" fill="#fce2d2"/>
<rect x="324.48" y="391.55" width="7.77" height="8.21" fill="#f6af8f"/>
<rect x="324.48" y="399.7" width="7.77" height="8.21" fill="#f8f4f1"/>
<rect x="324.48" y="407.85" width="7.77" height="8.21" fill="#dae9f2"/>
<rect x="324.48" y="416" width="7.77" height="8.21" fill="#d5e7f1"/>
<rect x="324.48" y="424.15" width="7.77" height="8.21" fill="#e4eef4"/>
<rect x="324.48" y="432.3" width="7.77" height="8.21" fill="#e4eef4"/>
<rect x="324.48" y="440.45" width="7.77" height="8.21" fill="#cee4ef"/>
<rect x="332.19" y="358.95" width="7.77" height="8.21" fill="#fac9b0"/>
<rect x="332.19" y="367.1" width="7.77" height="8.21" fill="#f9ede6"/>
<rect x="332.19" y="375.25" width="7.77" height="8.21" fill="#f9ede6"/>
<rect x="332.19" y="383.4" width="7.77" height="8.21" fill="#fbd1ba"/>
<rect x="332.19" y="391.55" width="7.77" height="8.21" fill="#fce2d2"/>
<rect x="332.19" y="399.7" width="7.77" height="8.21" fill="#eef3f5"/>
<rect x="332.19" y="407.85" width="7.77" height="8.21" fill="#dae9f2"/>
<rect x="332.19" y="416" width="7.77" height="8.21" fill="#d5e7f1"/>
<rect x="332.19" y="424.15" width="7.77" height="8.21" fill="#e4eef4"/>
<rect x="332.19" y="432.3" width="7.77" height="8.21" fill="#f3f5f6"/>
<rect x="332.19" y="440.45" width="7.77" height="8.21" fill="#dae9f2"/>
<rect x="339.9" y="358.95" width="7.77" height="8.21" fill="#f4a784"/>
<rect x="339.9" y="367.1" width="7.77" height="8.21" fill="#f3f5f6"/>
<rect x="339.9" y="375.25" width="7.77" height="8.21" fill="#f3f5f6"/>
<rect x="339.9" y="383.4" width="7.77" height="8.21" fill="#f3f5f6"/>
<rect x="339.9" y="391.55" width="7.77" height="8.21" fill="#eef3f5"/>
<rect x="339.9" y="399.7" width="7.77" height="8.21" fill="#eef3f5"/>
<rect x="339.9" y="407.85" width="7.77" height="8.21" fill="#e9f0f4"/>
<rect x="339.9" y="416" width="7.77" height="8.21" fill="#eef3f5"/>
<rect x="339.9" y="424.15" width="7.77" height="8.21" fill="#eef3f5"/>
<rect x="339.9" y="432.3" width="7.77" height="8.21" fill="#eef3f5"/>
<rect x="339.9" y="440.45" width="7.77" height="8.21" fill="#e9f0f4"/>
<rect x="347.61" y="358.95" width="7.77" height="8.21" fill="#f09c7b"/>
<rect x="347.61" y="367.1" width="7.77" height="8.21" fill="#fcdecc"/>
<rect x="347.61" y="375.25" width="7.77" height="8.21" fill="#fce2d2"/>
<rect x="347.61" y="383.4" width="7.77" height="8.21" fill="#fce2d2"/>
<rect x="347.61" y="391.55" width="7.77" height="8.21" fill="#fae9df"/>
<rect x="347.61" y="399.7" width="7.77" height="8.21" fill="#fbe6d9"/>
<rect x="347.61" y="407.85" width="7.77" height="8.21" fill="#dae9f2"/>
<rect x="347.61" y="416" width="7.77" height="8.21" fill="#5ea4cc"/>
<rect x="347.61" y="424.15" width="7.77" height="8.21" fill="#e4eef4"/>
<rect x="347.61" y="432.3" width="7.77" height="8.21" fill="#dfecf3"/>
<rect x="347.61" y="440.45" width="7.77" height="8.21" fill="#c5dfed"/>
<rect x="355.32" y="358.95" width="7.77" height="8.21" fill="#f7b89a"/>
<rect x="355.32" y="367.1" width="7.77" height="8.21" fill="#f7b89a"/>
<rect x="355.32" y="375.25" width="7.77" height="8.21" fill="#fce2d2"/>
<rect x="355.32" y="383.4" width="7.77" height="8.21" fill="#f9ede6"/>
<rect x="355.32" y="391.55" width="7.77" height="8.21" fill="#fae9df"/>
<rect x="355.32" y="399.7" width="7.77" height="8.21" fill="#fbe6d9"/>
<rect x="355.32" y="407.85" width="7.77" height="8.21" fill="#a8d0e4"/>
<rect x="355.32" y="416" width="7.77" height="8.21" fill="#dae9f2"/>
<rect x="355.32" y="424.15" width="7.77" height="8.21" fill="#dfecf3"/>
<rect x="355.32" y="432.3" width="7.77" height="8.21" fill="#dae9f2"/>
<rect x="355.32" y="440.45" width="7.77" height="8.21" fill="#cee4ef"/>
<rect x="363.03" y="358.95" width="7.77" height="8.21" fill="#fbd1ba"/>
<rect x="363.03" y="367.1" width="7.77" height="8.21" fill="#fbd1ba"/>
<rect x="363.03" y="375.25" width="7.77" height="8.21" fill="#f7b89a"/>
<rect x="363.03" y="383.4" width="7.77" height="8.21" fill="#fbe6d9"/>
<rect x="363.03" y="391.55" width="7.77" height="8.21" fill="#dfecf3"/>
<rect x="363.03" y="399.7" width="7.77" height="8.21" fill="#fae9df"/>
<rect x="363.03" y="407.85" width="7.77" height="8.21" fill="#c5dfed"/>
<rect x="363.03" y="416" width="7.77" height="8.21" fill="#c5dfed"/>
<rect x="363.03" y="424.15" width="7.77" height="8.21" fill="#f9ede6"/>
<rect x="363.03" y="432.3" width="7.77" height="8.21" fill="#e4eef4"/>
<rect x="363.03" y="440.45" width="7.77" height="8.21" fill="#a8d0e4"/>
<rect x="370.74" y="358.95" width="7.77" height="8.21" fill="#fbd1ba"/>
<rect x="370.74" y="367.1" width="7.77" height="8.21" fill="#e4eef4"/>
<rect x="370.74" y="375.25" width="7.77" height="8.21" fill="#e68469"/>
<rect x="370.74" y="383.4" width="7.77" height="8.21" fill="#f3f5f6"/>
<rect x="370.74" y="391.55" width="7.77" height="8.21" fill="#e9f0f4"/>
<rect x="370.74" y="399.7" width="7.77" height="8.21" fill="#e9f0f4"/>
<rect x="370.74" y="407.85" width="7.77" height="8.21" fill="#e9f0f4"/>
<rect x="370.74" y="416" width="7.77" height="8.21" fill="#e9f0f4"/>
<rect x="370.74" y="424.15" width="7.77" height="8.21" fill="#e9f0f4"/>
<rect x="370.74" y="432.3" width="7.77" height="8.21" fill="#e9f0f4"/>
<rect x="370.74" y="440.45" width="7.77" height="8.21" fill="#e9f0f4"/>
<rect x="378.45" y="358.95" width="7.77" height="8.21" fill="#fbe6d9"/>
<rect x="378.45" y="367.1" width="7.77" height="8.21" fill="#e4eef4"/>
<rect x="378.45" y="375.25" width="7.77" height="8.21" fill="#f4a784"/>
<rect x="378.45" y="383.4" width="7.77" height="8.21" fill="#f6af8f"/>
<rect x="378.45" y="391.55" width="7.77" height="8.21" fill="#e9f0f4"/>
<rect x="378.45" y="399.7" width="7.77" height="8.21" fill="#e9f0f4"/>
<rect x="378.45" y="407.85" width="7.77" height="8.21" fill="#e9f0f4"/>
<rect x="378.45" y="416" width="7.77" height="8.21" fill="#e9f0f4"/>
<rect x="378.45" y="424.15" width="7.77" height="8.21" fill="#e9f0f4"/>
<rect x="378.45" y="432.3" width="7.77" height="8.21" fill="#e9f0f4"/>
<rect x="378.45" y="440.45" width="7.77" height="8.21" fill="#e9f0f4"/>
<rect x="386.16" y="358.95" width="7.77" height="8.21" fill="#fce2d2"/>
<rect x="386.16" y="367.1" width="7.77" height="8.21" fill="#eb9072"/>
<rect x="386.16" y="375.25" width="7.77" height="8.21" fill="#fce2d2"/>
<rect x="386.16" y="383.4" width="7.77" height="8.21" fill="#fce2d2"/>
<rect x="386.16" y="391.55" width="7.77" height="8.21" fill="#fbe6d9"/>
<rect x="386.16" y="399.7" width="7.77" height="8.21" fill="#f3f5f6"/>
<rect x="386.16" y="407.85" width="7.77" height="8.21" fill="#7ab6d6"/>
<rect x="386.16" y="416" width="7.77" height="8.21" fill="#b2d5e7"/>
<rect x="386.16" y="424.15" width="7.77" height="8.21" fill="#f3f5f6"/>
<rect x="386.16" y="432.3" width="7.77" height="8.21" fill="#eef3f5"/>
<rect x="386.16" y="440.45" width="7.77" height="8.21" fill="#dfecf3"/>
<rect x="393.87" y="358.95" width="7.77" height="8.21" fill="#f4a784"/>
<rect x="393.87" y="367.1" width="7.77" height="8.21" fill="#f7b89a"/>
<rect x="393.87" y="375.25" width="7.77" height="8.21" fill="#f8f0ec"/>
<rect x="393.87" y="383.4" width="7.77" height="8.21" fill="#fce2d2"/>
<rect x="393.87" y="391.55" width="7.77" height="8.21" fill="#fbe6d9"/>
<rect x="393.87" y="399.7" width="7.77" height="8.21" fill="#bcdaea"/>
<rect x="393.87" y="407.85" width="7.77" height="8.21" fill="#dfecf3"/>
<rect x="393.87" y="416" width="7.77" height="8.21" fill="#c5dfed"/>
<rect x="393.87" y="424.15" width="7.77" height="8.21" fill="#f3f5f6"/>
<rect x="393.87" y="432.3" width="7.77" height="8.21" fill="#e9f0f4"/>
<rect x="393.87" y="440.45" width="7.77" height="8.21" fill="#e4eef4"/>
<rect x="401.58" y="358.95" width="7.77" height="8.21" fill="#f4a784"/>
<rect x="401.58" y="367.1" width="7.77" height="8.21" fill="#fcdecc"/>
<rect x="401.58" y="375.25" width="7.77" height="8.21" fill="#fcdecc"/>
<rect x="401.58" y="383.4" width="7.77" height="8.21" fill="#f8f0ec"/>
<rect x="401.58" y="391.55" width="7.77" height="8.21" fill="#f7b89a"/>
<rect x="401.58" y="399.7" width="7.77" height="8.21" fill="#e9f0f4"/>
<rect x="401.58" y="407.85" width="7.77" height="8.21" fill="#e9f0f4"/>
<rect x="401.58" y="416" width="7.77" height="8.21" fill="#c5dfed"/>
<rect x="401.58" y="424.15" width="7.77" height="8.21" fill="#e9f0f4"/>
<rect x="401.58" y="432.3" width="7.77" height="8.21" fill="#bcdaea"/>
<rect x="401.58" y="440.45" width="7.77" height="8.21" fill="#c5dfed"/>
<rect x="409.29" y="358.95" width="7.77" height="8.21" fill="#f4a784"/>
<rect x="409.29" y="367.1" width="7.77" height="8.21" fill="#f7b89a"/>
<rect x="409.29" y="375.25" width="7.77" height="8.21" fill="#f7b89a"/>
<rect x="409.29" y="383.4" width="7.77" height="8.21" fill="#fbe6d9"/>
<rect x="409.29" y="391.55" width="7.77" height="8.21" fill="#5ea4cc"/>
<rect x="409.29" y="399.7" width="7.77" height="8.21" fill="#f9ede6"/>
<rect x="409.29" y="407.85" width="7.77" height="8.21" fill="#e9f0f4"/>
<rect x="409.29" y="416" width="7.77" height="8.21" fill="#bcdaea"/>
<rect x="409.29" y="424.15" width="7.77" height="8.21" fill="#e9f0f4"/>
<rect x="409.29" y="432.3" width="7.77" height="8.21" fill="#e9f0f4"/>
<rect x="409.29" y="440.45" width="7.77" height="8.21" fill="#c5dfed"/>
<rect x="417" y="358.95" width="7.77" height="8.21" fill="#f4a784"/>
<rect x="417" y="367.1" width="7.77" height="8.21" fill="#fbe6d9"/>
<rect x="417" y="375.25" width="7.77" height="8.21" fill="#fce2d2"/>
<rect x="417" y="383.4" width="7.77" height="8.21" fill="#fae9df"/>
<rect x="417" y="391.55" width="7.77" height="8.21" fill="#5ea4cc"/>
<rect x="417" y="399.7" width="7.77" height="8.21" fill="#eef3f5"/>
<rect x="417" y="407.85" width="7.77" height="8.21" fill="#dae9f2"/>
<rect x="417" y="416" width="7.77" height="8.21" fill="#cee4ef"/>
<rect x="417" y="424.15" width="7.77" height="8.21" fill="#f9ede6"/>
<rect x="417" y="432.3" width="7.77" height="8.21" fill="#eef3f5"/>
<rect x="417" y="440.45" width="7.77" height="8.21" fill="#e9f0f4"/>
<rect x="424.71" y="358.95" width="7.77" height="8.21" fill="#e9f0f4"/>
<rect x="424.71" y="367.1" width="7.77" height="8.21" fill="#f9c1a5"/>
<rect x="424.71" y="375.25" width="7.77" height="8.21" fill="#f7b89a"/>
<rect x="424.71" y="383.4" width="7.77" height="8.21" fill="#e9f0f4"/>
<rect x="424.71" y="391.55" width="7.77" height="8.21" fill="#eef3f5"/>
<rect x="424.71" y="399.7" width="7.77" height="8.21" fill="#e9f0f4"/>
<rect x="424.71" y="407.85" width="7.77" height="8.21" fill="#e9f0f4"/>
<rect x="424.71" y="416" width="7.77" height="8.21" fill="#e9f0f4"/>
<rect x="424.71" y="424.15" width="7.77" height="8.21" fill="#e9f0f4"/>
<rect x="424.71" y="432.3" width="7.77" height="8.21" fill="#e9f0f4"/>
<rect x="424.71" y="440.45" width="7.77" height="8.21" fill="#e9f0f4"/>
<rect x="432.42" y="358.95" width="7.77" height="8.21" fill="#f8f0ec"/>
<rect x="432.42" y="367.1" width="7.77" height="8.21" fill="#f4a784"/>
<rect x="432.42" y="375.25" width="7.77" height="8.21" fill="#f7b89a"/>
<rect x="432.42" y="383.4" width="7.77" height="8.21" fill="#fae9df"/>
<rect x="432.42" y="391.55" width="7.77" height="8.21" fill="#cee4ef"/>
<rect x="432.42" y="399.7" width="7.77" height="8.21" fill="#eef3f5"/>
<rect x="432.42" y="407.85" width="7.77" height="8.21" fill="#f3f5f6"/>
<rect x="432.42" y="416" width="7.77" height="8.21" fill="#e4eef4"/>
<rect x="432.42" y="424.15" width="7.77" height="8.21" fill="#f3f5f6"/>
<rect x="432.42" y="432.3" width="7.77" height="8.21" fill="#a8d0e4"/>
<rect x="432.42" y="440.45" width="7.77" height="8.21" fill="#dfecf3"/>
<rect x="440.13" y="358.95" width="7.77" height="8.21" fill="#f6af8f"/>
<rect x="440.13" y="367.1" width="7.77" height="8.21" fill="#fdd9c4"/>
<rect x="440.13" y="375.25" width="7.77" height="8.21" fill="#d55e4c"/>
<rect x="440.13" y="383.4" width="7.77" height="8.21" fill="#f8f0ec"/>
<rect x="440.13" y="391.55" width="7.77" height="8.21" fill="#f8f0ec"/>
<rect x="440.13" y="399.7" width="7.77" height="8.21" fill="#e9f0f4"/>
<rect x="440.13" y="407.85" width="7.77" height="8.21" fill="#509bc7"/>
<rect x="440.13" y="416" width="7.77" height="8.21" fill="#509bc7"/>
<rect x="440.13" y="424.15" width="7.77" height="8.21" fill="#f8f0ec"/>
<rect x="440.13" y="432.3" width="7.77" height="8.21" fill="#e4eef4"/>
<rect x="440.13" y="440.45" width="7.77" height="8.21" fill="#dae9f2"/>
<rect x="447.84" y="358.95" width="7.77" height="8.21" fill="#e68469"/>
<rect x="447.84" y="367.1" width="7.77" height="8.21" fill="#f4a784"/>
<rect x="447.84" y="375.25" width="7.77" height="8.21" fill="#fcdecc"/>
<rect x="447.84" y="383.4" width="7.77" height="8.21" fill="#fcdecc"/>
<rect x="447.84" y="391.55" width="7.77" height="8.21" fill="#fae9df"/>
<rect x="447.84" y="399.7" width="7.77" height="8.21" fill="#fae9df"/>
<rect x="447.84" y="407.85" width="7.77" height="8.21" fill="#3682ba"/>
<rect x="447.84" y="416" width="7.77" height="8.21" fill="#3682ba"/>
<rect x="447.84" y="424.15" width="7.77" height="8.21" fill="#f3f5f6"/>
<rect x="447.84" y="432.3" width="7.77" height="8.21" fill="#e4eef4"/>
<rect x="447.84" y="440.45" width="7.77" height="8.21" fill="#dae9f2"/>
<rect x="455.55" y="358.95" width="7.77" height="8.21" fill="#f7b89a"/>
<rect x="455.55" y="367.1" width="7.77" height="8.21" fill="#b82431"/>
<rect x="455.55" y="375.25" width="7.77" height="8.21" fill="#f7b89a"/>
<rect x="455.55" y="383.4" width="7.77" height="8.21" fill="#fac9b0"/>
<rect x="455.55" y="391.55" width="7.77" height="8.21" fill="#7fb9d8"/>
<rect x="455.55" y="399.7" width="7.77" height="8.21" fill="#f8f0ec"/>
<rect x="455.55" y="407.85" width="7.77" height="8.21" fill="#8fc3dd"/>
<rect x="455.55" y="416" width="7.77" height="8.21" fill="#8fc3dd"/>
<rect x="455.55" y="424.15" width="7.77" height="8.21" fill="#7ab6d6"/>
<rect x="455.55" y="432.3" width="7.77" height="8.21" fill="#e4eef4"/>
<rect x="455.55" y="440.45" width="7.77" height="8.21" fill="#a8d0e4"/>
<rect x="463.26" y="358.95" width="7.77" height="8.21" fill="#fac9b0"/>
<rect x="463.26" y="367.1" width="7.77" height="8.21" fill="#f4a784"/>
<rect x="463.26" y="375.25" width="7.77" height="8.21" fill="#fac9b0"/>
<rect x="463.26" y="383.4" width="7.77" height="8.21" fill="#eb9072"/>
<rect x="463.26" y="391.55" width="7.77" height="8.21" fill="#a8d0e4"/>
<rect x="463.26" y="399.7" width="7.77" height="8.21" fill="#f8f0ec"/>
<rect x="463.26" y="407.85" width="7.77" height="8.21" fill="#9ecbe1"/>
<rect x="463.26" y="416" width="7.77" height="8.21" fill="#9ecbe1"/>
<rect x="463.26" y="424.15" width="7.77" height="8.21" fill="#4292c2"/>
<rect x="463.26" y="432.3" width="7.77" height="8.21" fill="#eef3f5"/>
<rect x="463.26" y="440.45" width="7.77" height="8.21" fill="#dceaf2"/>
<rect x="470.97" y="358.95" width="7.77" height="8.21" fill="#eef3f5"/>
<rect x="470.97" y="367.1" width="7.77" height="8.21" fill="#e0785f"/>
<rect x="470.97" y="375.25" width="7.77" height="8.21" fill="#f7b89a"/>
<rect x="470.97" y="383.4" width="7.77" height="8.21" fill="#c3393b"/>
<rect x="470.97" y="391.55" width="7.77" height="8.21" fill="#58a0ca"/>
<rect x="470.97" y="399.7" width="7.77" height="8.21" fill="#f8f0ec"/>
<rect x="470.97" y="407.85" width="7.77" height="8.21" fill="#8fc3dd"/>
<rect x="470.97" y="416" width="7.77" height="8.21" fill="#f9ede6"/>
<rect x="470.97" y="424.15" width="7.77" height="8.21" fill="#acd2e5"/>
<rect x="470.97" y="432.3" width="7.77" height="8.21" fill="#dfecf3"/>
<rect x="470.97" y="440.45" width="7.77" height="8.21" fill="#acd2e5"/>
<rect x="478.68" y="358.95" width="7.77" height="8.21" fill="#fbd1ba"/>
<rect x="478.68" y="367.1" width="7.77" height="8.21" fill="#f7b89a"/>
<rect x="478.68" y="375.25" width="7.77" height="8.21" fill="#eb9072"/>
<rect x="478.68" y="383.4" width="7.77" height="8.21" fill="#fae9df"/>
<rect x="478.68" y="391.55" width="7.77" height="8.21" fill="#195695"/>
<rect x="478.68" y="399.7" width="7.77" height="8.21" fill="#f9ede6"/>
<rect x="478.68" y="407.85" width="7.77" height="8.21" fill="#eef3f5"/>
<rect x="478.68" y="416" width="7.77" height="8.21" fill="#f8f0ec"/>
<rect x="478.68" y="424.15" width="7.77" height="8.21" fill="#dae9f2"/>
<rect x="478.68" y="432.3" width="7.77" height="8.21" fill="#acd2e5"/>
<rect x="478.68" y="440.45" width="7.77" height="8.21" fill="#e4eef4"/>
<rect x="486.39" y="358.95" width="7.77" height="8.21" fill="#f8f0ec"/>
<rect x="486.39" y="367.1" width="7.77" height="8.21" fill="#fac9b0"/>
<rect x="486.39" y="375.25" width="7.77" height="8.21" fill="#f7b89a"/>
<rect x="486.39" y="383.4" width="7.77" height="8.21" fill="#f7b89a"/>
<rect x="486.39" y="391.55" width="7.77" height="8.21" fill="#2e78b5"/>
<rect x="486.39" y="399.7" width="7.77" height="8.21" fill="#f8f0ec"/>
<rect x="486.39" y="407.85" width="7.77" height="8.21" fill="#dfecf3"/>
<rect x="486.39" y="416" width="7.77" height="8.21" fill="#eef3f5"/>
<rect x="486.39" y="424.15" width="7.77" height="8.21" fill="#dae9f2"/>
<rect x="486.39" y="432.3" width="7.77" height="8.21" fill="#eef3f5"/>
<rect x="486.39" y="440.45" width="7.77" height="8.21" fill="#e4eef4"/>
<rect x="494.1" y="358.95" width="7.77" height="8.21" fill="#e0785f"/>
<rect x="494.1" y="367.1" width="7.77" height="8.21" fill="#67001f"/>
<rect x="494.1" y="375.25" width="7.77" height="8.21" fill="#e9f0f4"/>
<rect x="494.1" y="383.4" width="7.77" height="8.21" fill="#8fc3dd"/>
<rect x="494.1" y="391.55" width="7.77" height="8.21" fill="#cee4ef"/>
<rect x="494.1" y="399.7" width="7.77" height="8.21" fill="#dae9f2"/>
<rect x="494.1" y="407.85" width="7.77" height="8.21" fill="#dae9f2"/>
<rect x="494.1" y="416" width="7.77" height="8.21" fill="#dae9f2"/>
<rect x="494.1" y="424.15" width="7.77" height="8.21" fill="#bcdaea"/>
<rect x="494.1" y="432.3" width="7.77" height="8.21" fill="#f3f5f6"/>
<rect x="494.1" y="440.45" width="7.77" height="8.21" fill="#e9f0f4"/>
<rect x="59" y="358.95" width="5.4" height="32.6" fill="#f8837b"/>
<rect x="59" y="391.55" width="5.4" height="57.05" fill="#00dde5"/>
<text x="71.45" y="354.8" font-size="6.2" text-anchor="start" fill="#1a1a1a" stroke="#1a1a1a" stroke-width="0.14" font-style="italic" transform="rotate(-90 71.45 354.8)">ZNF208</text>
<text x="79.16" y="354.8" font-size="6.2" text-anchor="start" fill="#1a1a1a" stroke="#1a1a1a" stroke-width="0.14" font-style="italic" transform="rotate(-90 79.16 354.8)">OR52K3P</text>
<text x="86.88" y="354.8" font-size="6.2" text-anchor="start" fill="#1a1a1a" stroke="#1a1a1a" stroke-width="0.14" font-style="italic" transform="rotate(-90 86.88 354.8)">L3MBTL4</text>
<text x="94.58" y="354.8" font-size="6.2" text-anchor="start" fill="#1a1a1a" stroke="#1a1a1a" stroke-width="0.14" font-style="italic" transform="rotate(-90 94.58 354.8)">C2orf88</text>
<text x="102.3" y="354.8" font-size="6.2" text-anchor="start" fill="#1a1a1a" stroke="#1a1a1a" stroke-width="0.14" font-style="italic" transform="rotate(-90 102.3 354.8)">GOLGA6L10</text>
<text x="110" y="354.8" font-size="6.2" text-anchor="start" fill="#1a1a1a" stroke="#1a1a1a" stroke-width="0.14" font-style="italic" transform="rotate(-90 110 354.8)">TLR1</text>
<text x="117.71" y="354.8" font-size="6.2" text-anchor="start" fill="#1a1a1a" stroke="#1a1a1a" stroke-width="0.14" font-style="italic" transform="rotate(-90 117.71 354.8)">SPRED3</text>
<text x="125.42" y="354.8" font-size="6.2" text-anchor="start" fill="#1a1a1a" stroke="#1a1a1a" stroke-width="0.14" font-style="italic" transform="rotate(-90 125.42 354.8)">GPR157</text>
<text x="133.13" y="354.8" font-size="6.2" text-anchor="start" fill="#1a1a1a" stroke="#1a1a1a" stroke-width="0.14" font-style="italic" transform="rotate(-90 133.13 354.8)">ATP7A</text>
<text x="140.84" y="354.8" font-size="6.2" text-anchor="start" fill="#1a1a1a" stroke="#1a1a1a" stroke-width="0.14" font-style="italic" transform="rotate(-90 140.84 354.8)">AP000560.1</text>
<text x="148.55" y="354.8" font-size="6.2" text-anchor="start" fill="#1a1a1a" stroke="#1a1a1a" stroke-width="0.14" font-style="italic" transform="rotate(-90 148.55 354.8)">IZUMO4</text>
<text x="156.26" y="354.8" font-size="6.2" text-anchor="start" fill="#1a1a1a" stroke="#1a1a1a" stroke-width="0.14" font-style="italic" transform="rotate(-90 156.26 354.8)">GRK3</text>
<text x="163.97" y="354.8" font-size="6.2" text-anchor="start" fill="#1a1a1a" stroke="#1a1a1a" stroke-width="0.14" font-style="italic" transform="rotate(-90 163.97 354.8)">CACNA1F</text>
<text x="171.68" y="354.8" font-size="6.2" text-anchor="start" fill="#1a1a1a" stroke="#1a1a1a" stroke-width="0.14" font-style="italic" transform="rotate(-90 171.68 354.8)">CES4A</text>
<text x="179.39" y="354.8" font-size="6.2" text-anchor="start" fill="#1a1a1a" stroke="#1a1a1a" stroke-width="0.14" font-style="italic" transform="rotate(-90 179.39 354.8)">RPL9P7</text>
<text x="187.1" y="354.8" font-size="6.2" text-anchor="start" fill="#1a1a1a" stroke="#1a1a1a" stroke-width="0.14" font-style="italic" transform="rotate(-90 187.1 354.8)">ARPIN</text>
<text x="194.81" y="354.8" font-size="6.2" text-anchor="start" fill="#1a1a1a" stroke="#1a1a1a" stroke-width="0.14" font-style="italic" transform="rotate(-90 194.81 354.8)">ZNF525</text>
<text x="202.52" y="354.8" font-size="6.2" text-anchor="start" fill="#1a1a1a" stroke="#1a1a1a" stroke-width="0.14" font-style="italic" transform="rotate(-90 202.52 354.8)">GOLGA8B</text>
<text x="210.23" y="354.8" font-size="6.2" text-anchor="start" fill="#1a1a1a" stroke="#1a1a1a" stroke-width="0.14" font-style="italic" transform="rotate(-90 210.23 354.8)">RPS6KA2</text>
<text x="217.94" y="354.8" font-size="6.2" text-anchor="start" fill="#1a1a1a" stroke="#1a1a1a" stroke-width="0.14" font-style="italic" transform="rotate(-90 217.94 354.8)">AC012651.1</text>
<text x="225.65" y="354.8" font-size="6.2" text-anchor="start" fill="#1a1a1a" stroke="#1a1a1a" stroke-width="0.14" font-style="italic" transform="rotate(-90 225.65 354.8)">LINC00957</text>
<text x="233.36" y="354.8" font-size="6.2" text-anchor="start" fill="#1a1a1a" stroke="#1a1a1a" stroke-width="0.14" font-style="italic" transform="rotate(-90 233.36 354.8)">SNURF</text>
<text x="241.07" y="354.8" font-size="6.2" text-anchor="start" fill="#1a1a1a" stroke="#1a1a1a" stroke-width="0.14" font-style="italic" transform="rotate(-90 241.07 354.8)">MAPK8IP1</text>
<text x="248.78" y="354.8" font-size="6.2" text-anchor="start" fill="#1a1a1a" stroke="#1a1a1a" stroke-width="0.14" font-style="italic" transform="rotate(-90 248.78 354.8)">DBP</text>
<text x="256.5" y="354.8" font-size="6.2" text-anchor="start" fill="#1a1a1a" stroke="#1a1a1a" stroke-width="0.14" font-style="italic" transform="rotate(-90 256.5 354.8)">MYO15B</text>
<text x="264.21" y="354.8" font-size="6.2" text-anchor="start" fill="#1a1a1a" stroke="#1a1a1a" stroke-width="0.14" font-style="italic" transform="rotate(-90 264.21 354.8)">PLD4</text>
<text x="271.92" y="354.8" font-size="6.2" text-anchor="start" fill="#1a1a1a" stroke="#1a1a1a" stroke-width="0.14" font-style="italic" transform="rotate(-90 271.92 354.8)">AATBC</text>
<text x="279.62" y="354.8" font-size="6.2" text-anchor="start" fill="#1a1a1a" stroke="#1a1a1a" stroke-width="0.14" font-style="italic" transform="rotate(-90 279.62 354.8)">POLR2J2</text>
<text x="287.34" y="354.8" font-size="6.2" text-anchor="start" fill="#1a1a1a" stroke="#1a1a1a" stroke-width="0.14" font-style="italic" transform="rotate(-90 287.34 354.8)">STX16-NPEPL1</text>
<text x="295.05" y="354.8" font-size="6.2" text-anchor="start" fill="#1a1a1a" stroke="#1a1a1a" stroke-width="0.14" font-style="italic" transform="rotate(-90 295.05 354.8)">BCL11A</text>
<text x="306.21" y="354.8" font-size="6.2" text-anchor="start" fill="#1a1a1a" stroke="#1a1a1a" stroke-width="0.14" font-style="italic" transform="rotate(-90 306.21 354.8)">TMEM109</text>
<text x="313.92" y="354.8" font-size="6.2" text-anchor="start" fill="#1a1a1a" stroke="#1a1a1a" stroke-width="0.14" font-style="italic" transform="rotate(-90 313.92 354.8)">IDH2</text>
<text x="321.63" y="354.8" font-size="6.2" text-anchor="start" fill="#1a1a1a" stroke="#1a1a1a" stroke-width="0.14" font-style="italic" transform="rotate(-90 321.63 354.8)">C19orf48</text>
<text x="329.34" y="354.8" font-size="6.2" text-anchor="start" fill="#1a1a1a" stroke="#1a1a1a" stroke-width="0.14" font-style="italic" transform="rotate(-90 329.34 354.8)">TMEM106C</text>
<text x="337.05" y="354.8" font-size="6.2" text-anchor="start" fill="#1a1a1a" stroke="#1a1a1a" stroke-width="0.14" font-style="italic" transform="rotate(-90 337.05 354.8)">APOBEC3C</text>
<text x="344.76" y="354.8" font-size="6.2" text-anchor="start" fill="#1a1a1a" stroke="#1a1a1a" stroke-width="0.14" font-style="italic" transform="rotate(-90 344.76 354.8)">GNG12</text>
<text x="352.47" y="354.8" font-size="6.2" text-anchor="start" fill="#1a1a1a" stroke="#1a1a1a" stroke-width="0.14" font-style="italic" transform="rotate(-90 352.47 354.8)">MCM4</text>
<text x="360.18" y="354.8" font-size="6.2" text-anchor="start" fill="#1a1a1a" stroke="#1a1a1a" stroke-width="0.14" font-style="italic" transform="rotate(-90 360.18 354.8)">DTYMK</text>
<text x="367.89" y="354.8" font-size="6.2" text-anchor="start" fill="#1a1a1a" stroke="#1a1a1a" stroke-width="0.14" font-style="italic" transform="rotate(-90 367.89 354.8)">HIST1H2BK</text>
<text x="375.6" y="354.8" font-size="6.2" text-anchor="start" fill="#1a1a1a" stroke="#1a1a1a" stroke-width="0.14" font-style="italic" transform="rotate(-90 375.6 354.8)">LRIG3</text>
<text x="383.31" y="354.8" font-size="6.2" text-anchor="start" fill="#1a1a1a" stroke="#1a1a1a" stroke-width="0.14" font-style="italic" transform="rotate(-90 383.31 354.8)">AC138811.2</text>
<text x="391.02" y="354.8" font-size="6.2" text-anchor="start" fill="#1a1a1a" stroke="#1a1a1a" stroke-width="0.14" font-style="italic" transform="rotate(-90 391.02 354.8)">CD38</text>
<text x="398.73" y="354.8" font-size="6.2" text-anchor="start" fill="#1a1a1a" stroke="#1a1a1a" stroke-width="0.14" font-style="italic" transform="rotate(-90 398.73 354.8)">SLC7A11</text>
<text x="406.44" y="354.8" font-size="6.2" text-anchor="start" fill="#1a1a1a" stroke="#1a1a1a" stroke-width="0.14" font-style="italic" transform="rotate(-90 406.44 354.8)">GGH</text>
<text x="414.15" y="354.8" font-size="6.2" text-anchor="start" fill="#1a1a1a" stroke="#1a1a1a" stroke-width="0.14" font-style="italic" transform="rotate(-90 414.15 354.8)">FABP5</text>
<text x="421.86" y="354.8" font-size="6.2" text-anchor="start" fill="#1a1a1a" stroke="#1a1a1a" stroke-width="0.14" font-style="italic" transform="rotate(-90 421.86 354.8)">C4orf46</text>
<text x="429.57" y="354.8" font-size="6.2" text-anchor="start" fill="#1a1a1a" stroke="#1a1a1a" stroke-width="0.14" font-style="italic" transform="rotate(-90 429.57 354.8)">FGF2</text>
<text x="437.28" y="354.8" font-size="6.2" text-anchor="start" fill="#1a1a1a" stroke="#1a1a1a" stroke-width="0.14" font-style="italic" transform="rotate(-90 437.28 354.8)">ENC1</text>
<text x="444.99" y="354.8" font-size="6.2" text-anchor="start" fill="#1a1a1a" stroke="#1a1a1a" stroke-width="0.14" font-style="italic" transform="rotate(-90 444.99 354.8)">POLQ</text>
<text x="452.7" y="354.8" font-size="6.2" text-anchor="start" fill="#1a1a1a" stroke="#1a1a1a" stroke-width="0.14" font-style="italic" transform="rotate(-90 452.7 354.8)">CDC6</text>
<text x="460.41" y="354.8" font-size="6.2" text-anchor="start" fill="#1a1a1a" stroke="#1a1a1a" stroke-width="0.14" font-style="italic" transform="rotate(-90 460.41 354.8)">IFNG</text>
<text x="468.12" y="354.8" font-size="6.2" text-anchor="start" fill="#1a1a1a" stroke="#1a1a1a" stroke-width="0.14" font-style="italic" transform="rotate(-90 468.12 354.8)">GZMA</text>
<text x="475.83" y="354.8" font-size="6.2" text-anchor="start" fill="#1a1a1a" stroke="#1a1a1a" stroke-width="0.14" font-style="italic" transform="rotate(-90 475.83 354.8)">GZMK</text>
<text x="483.54" y="354.8" font-size="6.2" text-anchor="start" fill="#1a1a1a" stroke="#1a1a1a" stroke-width="0.14" font-style="italic" transform="rotate(-90 483.54 354.8)">NUDCD2</text>
<text x="491.25" y="354.8" font-size="6.2" text-anchor="start" fill="#1a1a1a" stroke="#1a1a1a" stroke-width="0.14" font-style="italic" transform="rotate(-90 491.25 354.8)">CCL5</text>
<text x="498.96" y="354.8" font-size="6.2" text-anchor="start" fill="#1a1a1a" stroke="#1a1a1a" stroke-width="0.14" font-style="italic" transform="rotate(-90 498.96 354.8)">FRRS1</text>
<path d="M41.5 363.02 H58.3 M41.5 371.18 H58.3 M41.5 363.02 V371.18 M41.5 379.32 H58.3 M41.5 387.47 H58.3 M41.5 379.32 V387.47 M36.4 367.1 H41.5 M36.4 383.4 H41.5 M36.4 367.1 V383.4 M40.8 420.07 H58.3 M40.8 428.23 H58.3 M40.8 420.07 V428.23 M42.2 436.38 H58.3 M42.2 444.52 H58.3 M42.2 436.38 V444.52 M39.3 424.15 H40.8 M39.3 440.45 H42.2 M39.3 424.15 V440.45 M34.9 411.93 H58.3 M34.9 432.3 H39.3 M34.9 411.93 V432.3 M33.5 403.77 H58.3 M33.5 422.11 H34.9 M33.5 403.77 V422.11 M22.5 395.62 H58.3 M22.5 412.94 H33.5 M22.5 395.62 V412.94 M13.8 375.25 H36.4 M13.8 404.28 H22.5 M13.8 375.25 V404.28 " fill="none" stroke="#3a3a3a" stroke-width="0.85"/>
<path d="M85.88 448.65 V451.25 M93.58 448.65 V451.25 M85.88 451.25 H93.58 M70.45 448.65 V451.25 M78.16 448.65 V451.25 M70.45 451.25 H78.16 M74.31 451.25 V452.88 M89.73 451.25 V452.88 M74.31 452.88 H89.73 M82.02 452.88 V454.74 M101.3 448.65 V454.74 M82.02 454.74 H101.3 M132.13 448.65 V451.25 M139.84 448.65 V451.25 M132.13 451.25 H139.84 M109 448.65 V451.25 M116.71 448.65 V451.25 M109 451.25 H116.71 M224.65 448.65 V451.25 M232.36 448.65 V451.25 M224.65 451.25 H232.36 M178.39 448.65 V451.25 M186.1 448.65 V451.25 M178.39 451.25 H186.1 M147.55 448.65 V451.25 M155.26 448.65 V451.25 M147.55 451.25 H155.26 M193.81 448.65 V451.25 M201.52 448.65 V451.25 M193.81 451.25 H201.52 M112.86 451.25 V452.88 M124.42 448.65 V452.88 M112.86 452.88 H124.42 M135.99 451.25 V452.88 M151.41 451.25 V452.88 M135.99 452.88 H151.41 M247.78 448.65 V451.25 M255.49 448.65 V451.25 M247.78 451.25 H255.49 M263.21 448.65 V451.25 M270.92 448.65 V451.25 M263.21 451.25 H270.92 M91.66 454.74 V456.7 M118.64 452.88 V456.7 M91.66 456.7 H118.64 M162.97 448.65 V451.25 M170.68 448.65 V451.25 M162.97 451.25 H170.68 M143.7 452.88 V454.74 M166.83 451.25 V454.74 M143.7 454.74 H166.83 M228.51 451.25 V452.88 M240.07 448.65 V452.88 M228.51 452.88 H240.07 M105.15 456.7 V458.73 M155.26 454.74 V458.73 M105.15 458.73 H155.26 M234.29 452.88 V454.74 M251.64 451.25 V454.74 M234.29 454.74 H251.64 M197.67 451.25 V452.88 M209.23 448.65 V452.88 M197.67 452.88 H209.23 M203.45 452.88 V454.74 M216.94 448.65 V454.74 M203.45 454.74 H216.94 M210.2 454.74 V456.7 M242.97 454.74 V456.7 M210.2 456.7 H242.97 M130.21 458.73 V460.82 M182.25 451.25 V460.82 M130.21 460.82 H182.25 M156.23 460.82 V462.94 M226.58 456.7 V462.94 M156.23 462.94 H226.58 M191.41 462.94 V465.1 M267.06 451.25 V465.1 M191.41 465.1 H267.06 M278.62 448.65 V451.25 M286.34 448.65 V451.25 M278.62 451.25 H286.34 M282.48 451.25 V457 M294.05 448.65 V457 M282.48 457 H294.05 M305.21 448.65 V451.25 M312.92 448.65 V451.25 M305.21 451.25 H312.92 M328.34 448.65 V451.25 M336.05 448.65 V451.25 M328.34 451.25 H336.05 M309.06 451.25 V452.75 M320.63 448.65 V452.75 M309.06 452.75 H320.63 M413.15 448.65 V451.25 M420.86 448.65 V451.25 M413.15 451.25 H420.86 M428.57 448.65 V451.25 M436.28 448.65 V451.25 M428.57 451.25 H436.28 M374.6 448.65 V451.25 M382.31 448.65 V451.25 M374.6 451.25 H382.31 M351.47 448.65 V451.25 M359.18 448.65 V451.25 M351.47 451.25 H359.18 M397.73 448.65 V451.25 M405.44 448.65 V451.25 M397.73 451.25 H405.44 M355.32 451.25 V452.75 M366.89 448.65 V452.75 M355.32 452.75 H366.89 M314.84 452.75 V454.46 M332.19 451.25 V454.46 M314.84 454.46 H332.19 M390.02 448.65 V452.75 M401.58 451.25 V452.75 M390.02 452.75 H401.58 M323.52 454.46 V456.27 M343.76 448.65 V456.27 M323.52 456.27 H343.76 M333.64 456.27 V458.13 M361.1 452.75 V458.13 M333.64 458.13 H361.1 M417 451.25 V452.75 M432.42 451.25 V452.75 M417 452.75 H432.42 M378.45 451.25 V454.46 M395.8 452.75 V454.46 M378.45 454.46 H395.8 M347.37 458.13 V460.05 M387.12 454.46 V460.05 M347.37 460.05 H387.12 M367.25 460.05 V462 M424.71 452.75 V462 M367.25 462 H424.71 M229.23 465.1 V470.4 M288.26 457 V470.4 M229.23 470.4 H288.26 M443.99 448.65 V457 M451.7 448.65 V457 M443.99 457 H451.7 M395.98 462 V465.5 M447.84 457 V465.5 M395.98 465.5 H447.84 M459.41 448.65 V456 M467.12 448.65 V456 M459.41 456 H467.12 M463.26 456 V459.8 M474.83 448.65 V459.8 M463.26 459.8 H474.83 M482.54 448.65 V456 M490.25 448.65 V456 M482.54 456 H490.25 M469.04 459.8 V462.9 M486.39 456 V462.9 M469.04 462.9 H486.39 M421.91 465.5 V470.2 M477.72 462.9 V470.2 M421.91 470.2 H477.72 M449.81 470.2 V471.2 M497.96 448.65 V471.2 M449.81 471.2 H497.96 M258.75 470.4 V480 M473.88 471.2 V480 M258.75 480 H473.88 " fill="none" stroke="#3a3a3a" stroke-width="0.65"/>
<rect x="454.65" y="315.8" width="22.5" height="176" fill="none" stroke="#2b2b2b" stroke-width="1.1"/>
<path d="M454.65 491.8 L299.3 530.8 M477.15 491.8 L501.5 530.8" fill="none" stroke="#2b2b2b" stroke-width="1.05"/>
<defs><linearGradient id="cb" x1="0" x2="1" y1="0" y2="0"><stop offset="0" stop-color="#053061"/><stop offset="0.1" stop-color="#2166ac"/><stop offset="0.2" stop-color="#4393c3"/><stop offset="0.3" stop-color="#92c5de"/><stop offset="0.4" stop-color="#d1e5f0"/><stop offset="0.5" stop-color="#f7f7f7"/><stop offset="0.6" stop-color="#fddbc7"/><stop offset="0.7" stop-color="#f4a582"/><stop offset="0.8" stop-color="#d6604d"/><stop offset="0.9" stop-color="#b2182b"/><stop offset="1" stop-color="#67001f"/></linearGradient></defs>
<rect x="60.4" y="481.7" width="88.3" height="4.8" fill="url(#cb)"/>
<text x="66.9" y="495.2" font-size="7.4" text-anchor="middle" fill="#231f20" stroke="#231f20" stroke-width="0.06">−2</text>
<text x="85.4" y="495.2" font-size="7.4" text-anchor="middle" fill="#231f20" stroke="#231f20" stroke-width="0.06">−1</text>
<text x="105.4" y="495.2" font-size="7.4" text-anchor="middle" fill="#231f20" stroke="#231f20" stroke-width="0.06">0</text>
<text x="125.2" y="495.2" font-size="7.4" text-anchor="middle" fill="#231f20" stroke="#231f20" stroke-width="0.06">1</text>
<text x="144.4" y="495.2" font-size="7.4" text-anchor="middle" fill="#231f20" stroke="#231f20" stroke-width="0.06">2</text>
<rect x="79" y="503.8" width="9" height="8.8" fill="#00e5ee"/>
<text x="91.3" y="511" font-size="7.8" text-anchor="start" fill="#231f20" stroke="#231f20" stroke-width="0.06" textLength="33" lengthAdjust="spacingAndGlyphs">No GVHD</text>
<rect x="79" y="520" width="9" height="8.8" fill="#f8837b"/>
<text x="91.3" y="527.2" font-size="7.8" text-anchor="start" fill="#231f20" stroke="#231f20" stroke-width="0.06" textLength="21.5" lengthAdjust="spacingAndGlyphs">GVHD</text>
<rect x="298.6" y="537.3" width="15.87" height="10.56" fill="#9ecbe1"/>
<rect x="314.41" y="537.3" width="15.87" height="10.56" fill="#e4eef4"/>
<rect x="330.22" y="537.3" width="15.87" height="10.56" fill="#7ab6d6"/>
<rect x="346.03" y="537.3" width="15.87" height="10.56" fill="#9ecbe1"/>
<rect x="361.84" y="537.3" width="15.87" height="10.56" fill="#a8d0e4"/>
<rect x="377.65" y="537.3" width="15.87" height="10.56" fill="#f8f4f1"/>
<rect x="393.46" y="537.3" width="15.87" height="10.56" fill="#94c6df"/>
<rect x="409.27" y="537.3" width="15.87" height="10.56" fill="#f9c1a5"/>
<rect x="425.08" y="537.3" width="15.87" height="10.56" fill="#eb9072"/>
<rect x="440.89" y="537.3" width="15.87" height="10.56" fill="#ba2933"/>
<rect x="456.7" y="537.3" width="15.87" height="10.56" fill="#f9c1a5"/>
<rect x="298.6" y="547.8" width="15.87" height="10.56" fill="#dae9f2"/>
<rect x="314.41" y="547.8" width="15.87" height="10.56" fill="#e9f0f4"/>
<rect x="330.22" y="547.8" width="15.87" height="10.56" fill="#5ea4cc"/>
<rect x="346.03" y="547.8" width="15.87" height="10.56" fill="#94c6df"/>
<rect x="361.84" y="547.8" width="15.87" height="10.56" fill="#a8d0e4"/>
<rect x="377.65" y="547.8" width="15.87" height="10.56" fill="#f8f2ef"/>
<rect x="393.46" y="547.8" width="15.87" height="10.56" fill="#bcdaea"/>
<rect x="409.27" y="547.8" width="15.87" height="10.56" fill="#e0785f"/>
<rect x="425.08" y="547.8" width="15.87" height="10.56" fill="#f7b89a"/>
<rect x="440.89" y="547.8" width="15.87" height="10.56" fill="#f09c7b"/>
<rect x="456.7" y="547.8" width="15.87" height="10.56" fill="#f9c1a5"/>
<rect x="298.6" y="558.3" width="15.87" height="10.56" fill="#a8d0e4"/>
<rect x="314.41" y="558.3" width="15.87" height="10.56" fill="#cee4ef"/>
<rect x="330.22" y="558.3" width="15.87" height="10.56" fill="#94c6df"/>
<rect x="346.03" y="558.3" width="15.87" height="10.56" fill="#f9efe9"/>
<rect x="361.84" y="558.3" width="15.87" height="10.56" fill="#87beda"/>
<rect x="377.65" y="558.3" width="15.87" height="10.56" fill="#f8f4f1"/>
<rect x="393.46" y="558.3" width="15.87" height="10.56" fill="#509bc7"/>
<rect x="409.27" y="558.3" width="15.87" height="10.56" fill="#c94540"/>
<rect x="425.08" y="558.3" width="15.87" height="10.56" fill="#f09c7b"/>
<rect x="440.89" y="558.3" width="15.87" height="10.56" fill="#d55e4c"/>
<rect x="456.7" y="558.3" width="15.87" height="10.56" fill="#f3f5f6"/>
<rect x="298.6" y="568.8" width="110.67" height="13.7" fill="#00e5ee"/>
<rect x="409.27" y="568.8" width="63.24" height="13.7" fill="#f8837b"/>
<text x="353.94" y="579.8" font-size="9.8" text-anchor="middle" fill="#231f20" stroke="#231f20" stroke-width="0.08" textLength="41.9" lengthAdjust="spacingAndGlyphs">No GVHD</text>
<text x="440.89" y="579.8" font-size="9.8" text-anchor="middle" fill="#231f20" stroke="#231f20" stroke-width="0.08" textLength="26.8" lengthAdjust="spacingAndGlyphs">GVHD</text>
<text x="475.5" y="545.85" font-size="9.2" text-anchor="start" fill="#231f20" stroke="#231f20" stroke-width="0.07" font-style="italic">IFNG</text>
<text x="475.5" y="556.35" font-size="9.2" text-anchor="start" fill="#231f20" stroke="#231f20" stroke-width="0.07" font-style="italic">GZMA</text>
<text x="475.5" y="566.85" font-size="9.2" text-anchor="start" fill="#231f20" stroke="#231f20" stroke-width="0.07" font-style="italic">GZMK</text>
<text x="7.3" y="606.6" font-size="11.5" text-anchor="start" fill="#000" font-weight="bold">D</text>
<text x="162.8" y="606" font-size="9.1" text-anchor="middle" fill="#231f20" stroke="#231f20" stroke-width="0.07" textLength="83.4" lengthAdjust="spacingAndGlyphs">Days after allo-BMT</text>
<text x="150.5" y="618.9" font-size="8.2" text-anchor="middle" fill="#231f20" stroke="#231f20" stroke-width="0.06" textLength="9" lengthAdjust="spacingAndGlyphs">30</text>
<text x="182.8" y="618.9" font-size="8.2" text-anchor="middle" fill="#231f20" stroke="#231f20" stroke-width="0.06" textLength="13" lengthAdjust="spacingAndGlyphs">180</text>
<path d="M126.1 635.4 H199.5 M126.1 662 H199.5 M126.1 688.6 H199.5 M150.5 622.4 V701 M183.2 622.4 V701 " fill="none" stroke="#8a8a8a" stroke-width="0.75" stroke-dasharray="2.2 2"/>
<rect x="126.1" y="622.4" width="73.4" height="78.6" fill="none" stroke="#111" stroke-width="1.2"/>
<text x="122.5" y="637.6" font-size="9.3" text-anchor="end" fill="#231f20" stroke="#231f20" stroke-width="0.07" textLength="103" lengthAdjust="spacingAndGlyphs">GUO_SUPPRESSIVE_UP</text>
<text x="122.5" y="664.2" font-size="9.3" text-anchor="end" fill="#231f20" stroke="#231f20" stroke-width="0.07" textLength="95.5" lengthAdjust="spacingAndGlyphs">GUO_ACTIVATED_UP</text>
<text x="122.5" y="690.8" font-size="9.3" text-anchor="end" fill="#231f20" stroke="#231f20" stroke-width="0.07" textLength="102.5" lengthAdjust="spacingAndGlyphs">LI_TREG_BY_NAIVE_UP</text>
<circle cx="150.5" cy="635.4" r="4.5" fill="#c8102e"/>
<circle cx="183.2" cy="635.4" r="4" fill="#f1c3cb"/>
<circle cx="150.5" cy="662" r="5.6" fill="#c8102e"/>
<circle cx="183.2" cy="662" r="5.2" fill="#e08a9a"/>
<circle cx="150.5" cy="688.6" r="8.9" fill="#c8102e"/>
<circle cx="183.2" cy="688.6" r="5.2" fill="#c8102e"/>
<circle cx="223.8" cy="640.8" r="10.8" fill="#c0c0c4"/>
<text x="237.3" y="643.6" font-size="7.6" text-anchor="start" fill="#231f20" stroke="#231f20" stroke-width="0.06" textLength="27" lengthAdjust="spacingAndGlyphs">|NES|=3</text>
<circle cx="282.7" cy="640.8" r="7" fill="#c0c0c4"/>
<text x="293.5" y="643.6" font-size="7.6" text-anchor="start" fill="#231f20" stroke="#231f20" stroke-width="0.06" textLength="27" lengthAdjust="spacingAndGlyphs">|NES|=2</text>
<circle cx="338.5" cy="640.8" r="3.9" fill="#c0c0c4"/>
<text x="345" y="643.6" font-size="7.6" text-anchor="start" fill="#231f20" stroke="#231f20" stroke-width="0.06" textLength="27" lengthAdjust="spacingAndGlyphs">|NES|=1</text>
<circle cx="219.2" cy="660.2" r="2.9" fill="#fff" stroke="#111" stroke-width="1.1"/>
<text x="228.8" y="663" font-size="7.6" text-anchor="start" fill="#231f20" stroke="#231f20" stroke-width="0.06" textLength="33" lengthAdjust="spacingAndGlyphs">FDR&lt;0.05</text>
<circle cx="307.0" cy="660.2" r="2.9" fill="#fff" stroke="#999" stroke-width="0.8"/>
<text x="314.6" y="663" font-size="7.6" text-anchor="start" fill="#231f20" stroke="#231f20" stroke-width="0.06" textLength="33" lengthAdjust="spacingAndGlyphs">FDR≥0.05</text>
<text x="247" y="677.6" font-size="7.6" text-anchor="end" fill="#231f20" stroke="#231f20" stroke-width="0.06" textLength="31.5" lengthAdjust="spacingAndGlyphs">Positively</text>
<text x="247" y="686.2" font-size="7.6" text-anchor="end" fill="#231f20" stroke="#231f20" stroke-width="0.06" textLength="28" lengthAdjust="spacingAndGlyphs">enriched</text>
<rect x="250" y="674.2" width="10.8" height="11.6" fill="#c8102e"/>
<rect x="260.8" y="674.2" width="10.8" height="11.6" fill="#e08a9a"/>
<rect x="271.6" y="674.2" width="11.1" height="11.6" fill="#f3c9d0"/>
<rect x="296" y="674.2" width="11" height="11.6" fill="#b6c3dd"/>
<rect x="307" y="674.2" width="10.8" height="11.6" fill="#8698c2"/>
<rect x="317.8" y="674.2" width="11" height="11.6" fill="#1f5390"/>
<text x="332" y="677.6" font-size="7.6" text-anchor="start" fill="#231f20" stroke="#231f20" stroke-width="0.06" textLength="35" lengthAdjust="spacingAndGlyphs">Negatively</text>
<text x="332" y="686.2" font-size="7.6" text-anchor="start" fill="#231f20" stroke="#231f20" stroke-width="0.06" textLength="28" lengthAdjust="spacingAndGlyphs">enriched</text>
<rect x="0.6" y="0.6" width="518.8" height="710.8" fill="none" stroke="#000" stroke-width="1.3"/>
</svg>
</body></html>
